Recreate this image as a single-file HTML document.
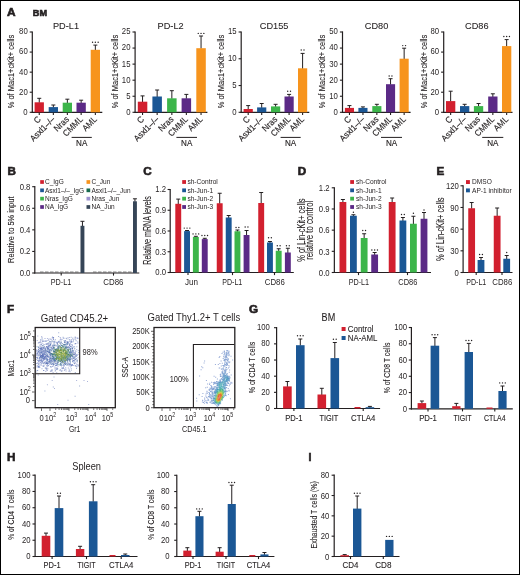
<!DOCTYPE html>
<html><head><meta charset="utf-8"><style>
html,body{margin:0;padding:0;background:#fff;}
body{width:520px;height:575px;overflow:hidden;font-family:"Liberation Sans",sans-serif;}
#f{position:absolute;left:0;top:0;width:518px;height:573px;border:1px solid #000;}
svg{position:absolute;left:0;top:0;display:block;will-change:transform;}
text.b{stroke:#231f20;stroke-width:0.6px;}
</style></head><body>
<svg width="520" height="575" viewBox="0 0 520 575">
<g font-family='"Liberation Sans", sans-serif' fill="#231f20">
<rect x="0" y="0" width="520" height="575" fill="#fff"/>
<text transform="translate(7.00 15.50) scale(1.120 1)" font-size="10.6" text-anchor="start" font-weight="bold" class="b">A</text>
<text transform="translate(32.80 15.50) scale(1.060 1)" font-size="8.6" text-anchor="start" font-weight="bold" class="b">BM</text>
<line x1="32.30" y1="31.40" x2="32.30" y2="112.90" stroke="#231f20" stroke-width="1.2"/>
<line x1="31.70" y1="112.30" x2="102.30" y2="112.30" stroke="#231f20" stroke-width="1.2"/>
<line x1="29.70" y1="112.30" x2="32.30" y2="112.30" stroke="#231f20" stroke-width="1.1"/>
<text transform="translate(27.70 114.70) scale(0.810 1)" font-size="9.6" text-anchor="end">0</text>
<line x1="29.70" y1="92.22" x2="32.30" y2="92.22" stroke="#231f20" stroke-width="1.1"/>
<text transform="translate(27.70 94.62) scale(0.810 1)" font-size="9.6" text-anchor="end">20</text>
<line x1="29.70" y1="72.15" x2="32.30" y2="72.15" stroke="#231f20" stroke-width="1.1"/>
<text transform="translate(27.70 74.55) scale(0.810 1)" font-size="9.6" text-anchor="end">40</text>
<line x1="29.70" y1="52.08" x2="32.30" y2="52.08" stroke="#231f20" stroke-width="1.1"/>
<text transform="translate(27.70 54.48) scale(0.810 1)" font-size="9.6" text-anchor="end">60</text>
<line x1="29.70" y1="32.00" x2="32.30" y2="32.00" stroke="#231f20" stroke-width="1.1"/>
<text transform="translate(27.70 34.40) scale(0.810 1)" font-size="9.6" text-anchor="end">80</text>
<line x1="39.25" y1="112.30" x2="39.25" y2="114.90" stroke="#231f20" stroke-width="1.1"/>
<line x1="53.35" y1="112.30" x2="53.35" y2="114.90" stroke="#231f20" stroke-width="1.1"/>
<line x1="67.35" y1="112.30" x2="67.35" y2="114.90" stroke="#231f20" stroke-width="1.1"/>
<line x1="81.15" y1="112.30" x2="81.15" y2="114.90" stroke="#231f20" stroke-width="1.1"/>
<line x1="95.35" y1="112.30" x2="95.35" y2="114.90" stroke="#231f20" stroke-width="1.1"/>
<line x1="39.25" y1="102.80" x2="39.25" y2="98.30" stroke="#231f20" stroke-width="1.0"/>
<line x1="37.25" y1="98.30" x2="41.25" y2="98.30" stroke="#231f20" stroke-width="1.0"/>
<rect x="34.60" y="102.30" width="9.30" height="10.00" fill="#d2202f"/>
<line x1="53.35" y1="107.60" x2="53.35" y2="105.00" stroke="#231f20" stroke-width="1.0"/>
<line x1="51.35" y1="105.00" x2="55.35" y2="105.00" stroke="#231f20" stroke-width="1.0"/>
<rect x="48.70" y="107.10" width="9.30" height="5.20" fill="#1b5795"/>
<line x1="67.35" y1="103.20" x2="67.35" y2="99.20" stroke="#231f20" stroke-width="1.0"/>
<line x1="65.35" y1="99.20" x2="69.35" y2="99.20" stroke="#231f20" stroke-width="1.0"/>
<rect x="62.70" y="102.70" width="9.30" height="9.60" fill="#3cb54a"/>
<line x1="81.15" y1="103.20" x2="81.15" y2="100.20" stroke="#231f20" stroke-width="1.0"/>
<line x1="79.15" y1="100.20" x2="83.15" y2="100.20" stroke="#231f20" stroke-width="1.0"/>
<rect x="76.50" y="102.70" width="9.30" height="9.60" fill="#5b2a86"/>
<line x1="95.35" y1="50.30" x2="95.35" y2="45.10" stroke="#231f20" stroke-width="1.0"/>
<line x1="93.35" y1="45.10" x2="97.35" y2="45.10" stroke="#231f20" stroke-width="1.0"/>
<rect x="90.70" y="49.80" width="9.30" height="62.50" fill="#f7941d"/>
<circle cx="92.55" cy="42.30" r="0.7" fill="#231f20"/>
<circle cx="95.35" cy="42.30" r="0.7" fill="#231f20"/>
<circle cx="98.15" cy="42.30" r="0.7" fill="#231f20"/>
<text transform="translate(66.00 29.20)" font-size="9.2" text-anchor="middle" stroke="#231f20" stroke-width="0.08">PD-L1</text>
<text transform="translate(13.95 71.50) rotate(-90)" font-size="9.6" text-anchor="middle" textLength="73.50" lengthAdjust="spacingAndGlyphs" stroke="#231f20" stroke-width="0.1">% of Mac1+cKit+ cells</text>
<text transform="translate(41.45 119.90) rotate(-45) scale(0.930 1)" font-size="8.8" text-anchor="end" stroke="#231f20" stroke-width="0.15">C</text>
<text transform="translate(55.55 119.90) rotate(-45) scale(0.930 1)" font-size="8.8" text-anchor="end" stroke="#231f20" stroke-width="0.15">Asxl1&#8211;/&#8211;</text>
<text transform="translate(69.55 119.90) rotate(-45) scale(0.930 1)" font-size="8.8" text-anchor="end" stroke="#231f20" stroke-width="0.15">Nras</text>
<text transform="translate(83.35 119.90) rotate(-45) scale(0.930 1)" font-size="8.8" text-anchor="end" stroke="#231f20" stroke-width="0.15">CMML</text>
<text transform="translate(97.55 119.90) rotate(-45) scale(0.930 1)" font-size="8.8" text-anchor="end" stroke="#231f20" stroke-width="0.15">AML</text>
<line x1="71.60" y1="137.40" x2="91.80" y2="137.40" stroke="#231f20" stroke-width="1.0"/>
<text transform="translate(81.70 146.30) scale(0.880 1)" font-size="9.2" text-anchor="middle" stroke="#231f20" stroke-width="0.15">NA</text>
<line x1="135.10" y1="31.40" x2="135.10" y2="112.90" stroke="#231f20" stroke-width="1.2"/>
<line x1="134.50" y1="112.30" x2="207.40" y2="112.30" stroke="#231f20" stroke-width="1.2"/>
<line x1="132.50" y1="112.30" x2="135.10" y2="112.30" stroke="#231f20" stroke-width="1.1"/>
<text transform="translate(130.50 114.70) scale(0.810 1)" font-size="9.6" text-anchor="end">0</text>
<line x1="132.50" y1="96.24" x2="135.10" y2="96.24" stroke="#231f20" stroke-width="1.1"/>
<text transform="translate(130.50 98.64) scale(0.810 1)" font-size="9.6" text-anchor="end">5</text>
<line x1="132.50" y1="80.18" x2="135.10" y2="80.18" stroke="#231f20" stroke-width="1.1"/>
<text transform="translate(130.50 82.58) scale(0.810 1)" font-size="9.6" text-anchor="end">10</text>
<line x1="132.50" y1="64.12" x2="135.10" y2="64.12" stroke="#231f20" stroke-width="1.1"/>
<text transform="translate(130.50 66.52) scale(0.810 1)" font-size="9.6" text-anchor="end">15</text>
<line x1="132.50" y1="48.06" x2="135.10" y2="48.06" stroke="#231f20" stroke-width="1.1"/>
<text transform="translate(130.50 50.46) scale(0.810 1)" font-size="9.6" text-anchor="end">20</text>
<line x1="132.50" y1="32.00" x2="135.10" y2="32.00" stroke="#231f20" stroke-width="1.1"/>
<text transform="translate(130.50 34.40) scale(0.810 1)" font-size="9.6" text-anchor="end">25</text>
<line x1="142.55" y1="112.30" x2="142.55" y2="114.90" stroke="#231f20" stroke-width="1.1"/>
<line x1="157.15" y1="112.30" x2="157.15" y2="114.90" stroke="#231f20" stroke-width="1.1"/>
<line x1="171.85" y1="112.30" x2="171.85" y2="114.90" stroke="#231f20" stroke-width="1.1"/>
<line x1="186.35" y1="112.30" x2="186.35" y2="114.90" stroke="#231f20" stroke-width="1.1"/>
<line x1="201.05" y1="112.30" x2="201.05" y2="114.90" stroke="#231f20" stroke-width="1.1"/>
<line x1="142.55" y1="102.20" x2="142.55" y2="95.90" stroke="#231f20" stroke-width="1.0"/>
<line x1="140.55" y1="95.90" x2="144.55" y2="95.90" stroke="#231f20" stroke-width="1.0"/>
<rect x="137.80" y="101.70" width="9.50" height="10.60" fill="#d2202f"/>
<line x1="157.15" y1="97.00" x2="157.15" y2="90.00" stroke="#231f20" stroke-width="1.0"/>
<line x1="155.15" y1="90.00" x2="159.15" y2="90.00" stroke="#231f20" stroke-width="1.0"/>
<rect x="152.40" y="96.50" width="9.50" height="15.80" fill="#1b5795"/>
<line x1="171.85" y1="98.80" x2="171.85" y2="90.70" stroke="#231f20" stroke-width="1.0"/>
<line x1="169.85" y1="90.70" x2="173.85" y2="90.70" stroke="#231f20" stroke-width="1.0"/>
<rect x="167.10" y="98.30" width="9.50" height="14.00" fill="#3cb54a"/>
<line x1="186.35" y1="98.80" x2="186.35" y2="94.40" stroke="#231f20" stroke-width="1.0"/>
<line x1="184.35" y1="94.40" x2="188.35" y2="94.40" stroke="#231f20" stroke-width="1.0"/>
<rect x="181.60" y="98.30" width="9.50" height="14.00" fill="#5b2a86"/>
<line x1="201.05" y1="48.70" x2="201.05" y2="36.00" stroke="#231f20" stroke-width="1.0"/>
<line x1="199.05" y1="36.00" x2="203.05" y2="36.00" stroke="#231f20" stroke-width="1.0"/>
<rect x="196.30" y="48.20" width="9.50" height="64.10" fill="#f7941d"/>
<circle cx="198.25" cy="33.40" r="0.7" fill="#231f20"/>
<circle cx="201.05" cy="33.40" r="0.7" fill="#231f20"/>
<circle cx="203.85" cy="33.40" r="0.7" fill="#231f20"/>
<text transform="translate(170.60 29.20)" font-size="9.2" text-anchor="middle" stroke="#231f20" stroke-width="0.08">PD-L2</text>
<text transform="translate(118.35 71.50) rotate(-90)" font-size="9.6" text-anchor="middle" textLength="73.50" lengthAdjust="spacingAndGlyphs" stroke="#231f20" stroke-width="0.1">% of Mac1+cKit+ cells</text>
<text transform="translate(144.75 119.90) rotate(-45) scale(0.930 1)" font-size="8.8" text-anchor="end" stroke="#231f20" stroke-width="0.15">C</text>
<text transform="translate(159.35 119.90) rotate(-45) scale(0.930 1)" font-size="8.8" text-anchor="end" stroke="#231f20" stroke-width="0.15">Asxl1&#8211;/&#8211;</text>
<text transform="translate(174.05 119.90) rotate(-45) scale(0.930 1)" font-size="8.8" text-anchor="end" stroke="#231f20" stroke-width="0.15">Nras</text>
<text transform="translate(188.55 119.90) rotate(-45) scale(0.930 1)" font-size="8.8" text-anchor="end" stroke="#231f20" stroke-width="0.15">CMML</text>
<text transform="translate(203.25 119.90) rotate(-45) scale(0.930 1)" font-size="8.8" text-anchor="end" stroke="#231f20" stroke-width="0.15">AML</text>
<line x1="176.40" y1="137.40" x2="197.00" y2="137.40" stroke="#231f20" stroke-width="1.0"/>
<text transform="translate(186.70 146.30) scale(0.880 1)" font-size="9.2" text-anchor="middle" stroke="#231f20" stroke-width="0.15">NA</text>
<line x1="241.20" y1="31.40" x2="241.20" y2="112.90" stroke="#231f20" stroke-width="1.2"/>
<line x1="240.60" y1="112.30" x2="309.30" y2="112.30" stroke="#231f20" stroke-width="1.2"/>
<line x1="238.60" y1="112.30" x2="241.20" y2="112.30" stroke="#231f20" stroke-width="1.1"/>
<text transform="translate(236.60 114.70) scale(0.810 1)" font-size="9.6" text-anchor="end">0</text>
<line x1="238.60" y1="85.53" x2="241.20" y2="85.53" stroke="#231f20" stroke-width="1.1"/>
<text transform="translate(236.60 87.93) scale(0.810 1)" font-size="9.6" text-anchor="end">5</text>
<line x1="238.60" y1="58.77" x2="241.20" y2="58.77" stroke="#231f20" stroke-width="1.1"/>
<text transform="translate(236.60 61.17) scale(0.810 1)" font-size="9.6" text-anchor="end">10</text>
<line x1="238.60" y1="32.00" x2="241.20" y2="32.00" stroke="#231f20" stroke-width="1.1"/>
<text transform="translate(236.60 34.40) scale(0.810 1)" font-size="9.6" text-anchor="end">15</text>
<line x1="248.20" y1="112.30" x2="248.20" y2="114.90" stroke="#231f20" stroke-width="1.1"/>
<line x1="261.70" y1="112.30" x2="261.70" y2="114.90" stroke="#231f20" stroke-width="1.1"/>
<line x1="275.60" y1="112.30" x2="275.60" y2="114.90" stroke="#231f20" stroke-width="1.1"/>
<line x1="289.10" y1="112.30" x2="289.10" y2="114.90" stroke="#231f20" stroke-width="1.1"/>
<line x1="302.60" y1="112.30" x2="302.60" y2="114.90" stroke="#231f20" stroke-width="1.1"/>
<line x1="248.20" y1="109.50" x2="248.20" y2="105.60" stroke="#231f20" stroke-width="1.0"/>
<line x1="246.20" y1="105.60" x2="250.20" y2="105.60" stroke="#231f20" stroke-width="1.0"/>
<rect x="243.60" y="109.00" width="9.20" height="3.30" fill="#d2202f"/>
<line x1="261.70" y1="107.90" x2="261.70" y2="103.50" stroke="#231f20" stroke-width="1.0"/>
<line x1="259.70" y1="103.50" x2="263.70" y2="103.50" stroke="#231f20" stroke-width="1.0"/>
<rect x="257.10" y="107.40" width="9.20" height="4.90" fill="#1b5795"/>
<line x1="275.60" y1="106.90" x2="275.60" y2="104.30" stroke="#231f20" stroke-width="1.0"/>
<line x1="273.60" y1="104.30" x2="277.60" y2="104.30" stroke="#231f20" stroke-width="1.0"/>
<rect x="271.00" y="106.40" width="9.20" height="5.90" fill="#3cb54a"/>
<line x1="289.10" y1="97.00" x2="289.10" y2="94.40" stroke="#231f20" stroke-width="1.0"/>
<line x1="287.10" y1="94.40" x2="291.10" y2="94.40" stroke="#231f20" stroke-width="1.0"/>
<rect x="284.50" y="96.50" width="9.20" height="15.80" fill="#5b2a86"/>
<circle cx="287.70" cy="91.20" r="0.7" fill="#231f20"/>
<circle cx="290.50" cy="91.20" r="0.7" fill="#231f20"/>
<line x1="302.60" y1="68.80" x2="302.60" y2="53.40" stroke="#231f20" stroke-width="1.0"/>
<line x1="300.60" y1="53.40" x2="304.60" y2="53.40" stroke="#231f20" stroke-width="1.0"/>
<rect x="298.00" y="68.30" width="9.20" height="44.00" fill="#f7941d"/>
<circle cx="301.20" cy="50.00" r="0.7" fill="#231f20"/>
<circle cx="304.00" cy="50.00" r="0.7" fill="#231f20"/>
<text transform="translate(274.10 29.20)" font-size="9.2" text-anchor="middle" stroke="#231f20" stroke-width="0.08">CD155</text>
<text transform="translate(223.95 71.50) rotate(-90)" font-size="9.6" text-anchor="middle" textLength="73.50" lengthAdjust="spacingAndGlyphs" stroke="#231f20" stroke-width="0.1">% of Mac1+cKit+ cells</text>
<text transform="translate(250.40 119.90) rotate(-45) scale(0.930 1)" font-size="8.8" text-anchor="end" stroke="#231f20" stroke-width="0.15">C</text>
<text transform="translate(263.90 119.90) rotate(-45) scale(0.930 1)" font-size="8.8" text-anchor="end" stroke="#231f20" stroke-width="0.15">Asxl1&#8211;/&#8211;</text>
<text transform="translate(277.80 119.90) rotate(-45) scale(0.930 1)" font-size="8.8" text-anchor="end" stroke="#231f20" stroke-width="0.15">Nras</text>
<text transform="translate(291.30 119.90) rotate(-45) scale(0.930 1)" font-size="8.8" text-anchor="end" stroke="#231f20" stroke-width="0.15">CMML</text>
<text transform="translate(304.80 119.90) rotate(-45) scale(0.930 1)" font-size="8.8" text-anchor="end" stroke="#231f20" stroke-width="0.15">AML</text>
<line x1="280.60" y1="137.40" x2="300.70" y2="137.40" stroke="#231f20" stroke-width="1.0"/>
<text transform="translate(290.65 146.30) scale(0.880 1)" font-size="9.2" text-anchor="middle" stroke="#231f20" stroke-width="0.15">NA</text>
<line x1="342.50" y1="31.40" x2="342.50" y2="112.90" stroke="#231f20" stroke-width="1.2"/>
<line x1="341.90" y1="112.30" x2="410.60" y2="112.30" stroke="#231f20" stroke-width="1.2"/>
<line x1="339.90" y1="112.30" x2="342.50" y2="112.30" stroke="#231f20" stroke-width="1.1"/>
<text transform="translate(337.90 114.70) scale(0.810 1)" font-size="9.6" text-anchor="end">0</text>
<line x1="339.90" y1="96.24" x2="342.50" y2="96.24" stroke="#231f20" stroke-width="1.1"/>
<text transform="translate(337.90 98.64) scale(0.810 1)" font-size="9.6" text-anchor="end">10</text>
<line x1="339.90" y1="80.18" x2="342.50" y2="80.18" stroke="#231f20" stroke-width="1.1"/>
<text transform="translate(337.90 82.58) scale(0.810 1)" font-size="9.6" text-anchor="end">20</text>
<line x1="339.90" y1="64.12" x2="342.50" y2="64.12" stroke="#231f20" stroke-width="1.1"/>
<text transform="translate(337.90 66.52) scale(0.810 1)" font-size="9.6" text-anchor="end">30</text>
<line x1="339.90" y1="48.06" x2="342.50" y2="48.06" stroke="#231f20" stroke-width="1.1"/>
<text transform="translate(337.90 50.46) scale(0.810 1)" font-size="9.6" text-anchor="end">40</text>
<line x1="339.90" y1="32.00" x2="342.50" y2="32.00" stroke="#231f20" stroke-width="1.1"/>
<text transform="translate(337.90 34.40) scale(0.810 1)" font-size="9.6" text-anchor="end">50</text>
<line x1="349.45" y1="112.30" x2="349.45" y2="114.90" stroke="#231f20" stroke-width="1.1"/>
<line x1="362.95" y1="112.30" x2="362.95" y2="114.90" stroke="#231f20" stroke-width="1.1"/>
<line x1="376.85" y1="112.30" x2="376.85" y2="114.90" stroke="#231f20" stroke-width="1.1"/>
<line x1="390.55" y1="112.30" x2="390.55" y2="114.90" stroke="#231f20" stroke-width="1.1"/>
<line x1="404.15" y1="112.30" x2="404.15" y2="114.90" stroke="#231f20" stroke-width="1.1"/>
<line x1="349.45" y1="108.40" x2="349.45" y2="105.60" stroke="#231f20" stroke-width="1.0"/>
<line x1="347.45" y1="105.60" x2="351.45" y2="105.60" stroke="#231f20" stroke-width="1.0"/>
<rect x="344.90" y="107.90" width="9.10" height="4.40" fill="#d2202f"/>
<line x1="362.95" y1="108.40" x2="362.95" y2="106.90" stroke="#231f20" stroke-width="1.0"/>
<line x1="360.95" y1="106.90" x2="364.95" y2="106.90" stroke="#231f20" stroke-width="1.0"/>
<rect x="358.40" y="107.90" width="9.10" height="4.40" fill="#1b5795"/>
<line x1="376.85" y1="106.60" x2="376.85" y2="104.30" stroke="#231f20" stroke-width="1.0"/>
<line x1="374.85" y1="104.30" x2="378.85" y2="104.30" stroke="#231f20" stroke-width="1.0"/>
<rect x="372.30" y="106.10" width="9.10" height="6.20" fill="#3cb54a"/>
<line x1="390.55" y1="84.70" x2="390.55" y2="78.70" stroke="#231f20" stroke-width="1.0"/>
<line x1="388.55" y1="78.70" x2="392.55" y2="78.70" stroke="#231f20" stroke-width="1.0"/>
<rect x="386.00" y="84.20" width="9.10" height="28.10" fill="#5b2a86"/>
<circle cx="389.15" cy="76.00" r="0.7" fill="#231f20"/>
<circle cx="391.95" cy="76.00" r="0.7" fill="#231f20"/>
<line x1="404.15" y1="59.20" x2="404.15" y2="48.20" stroke="#231f20" stroke-width="1.0"/>
<line x1="402.15" y1="48.20" x2="406.15" y2="48.20" stroke="#231f20" stroke-width="1.0"/>
<rect x="399.60" y="58.70" width="9.10" height="53.60" fill="#f7941d"/>
<circle cx="402.75" cy="45.60" r="0.7" fill="#231f20"/>
<circle cx="405.55" cy="45.60" r="0.7" fill="#231f20"/>
<text transform="translate(376.60 29.20)" font-size="9.2" text-anchor="middle" stroke="#231f20" stroke-width="0.08">CD80</text>
<text transform="translate(325.15 71.50) rotate(-90)" font-size="9.6" text-anchor="middle" textLength="73.50" lengthAdjust="spacingAndGlyphs" stroke="#231f20" stroke-width="0.1">% of Mac1+cKit+ cells</text>
<text transform="translate(351.65 119.90) rotate(-45) scale(0.930 1)" font-size="8.8" text-anchor="end" stroke="#231f20" stroke-width="0.15">C</text>
<text transform="translate(365.15 119.90) rotate(-45) scale(0.930 1)" font-size="8.8" text-anchor="end" stroke="#231f20" stroke-width="0.15">Asxl1&#8211;/&#8211;</text>
<text transform="translate(379.05 119.90) rotate(-45) scale(0.930 1)" font-size="8.8" text-anchor="end" stroke="#231f20" stroke-width="0.15">Nras</text>
<text transform="translate(392.75 119.90) rotate(-45) scale(0.930 1)" font-size="8.8" text-anchor="end" stroke="#231f20" stroke-width="0.15">CMML</text>
<text transform="translate(406.35 119.90) rotate(-45) scale(0.930 1)" font-size="8.8" text-anchor="end" stroke="#231f20" stroke-width="0.15">AML</text>
<line x1="381.00" y1="137.40" x2="402.00" y2="137.40" stroke="#231f20" stroke-width="1.0"/>
<text transform="translate(391.50 146.30) scale(0.880 1)" font-size="9.2" text-anchor="middle" stroke="#231f20" stroke-width="0.15">NA</text>
<line x1="443.70" y1="31.40" x2="443.70" y2="112.90" stroke="#231f20" stroke-width="1.2"/>
<line x1="443.10" y1="112.30" x2="512.50" y2="112.30" stroke="#231f20" stroke-width="1.2"/>
<line x1="441.10" y1="112.30" x2="443.70" y2="112.30" stroke="#231f20" stroke-width="1.1"/>
<text transform="translate(439.10 114.70) scale(0.810 1)" font-size="9.6" text-anchor="end">0</text>
<line x1="441.10" y1="92.22" x2="443.70" y2="92.22" stroke="#231f20" stroke-width="1.1"/>
<text transform="translate(439.10 94.62) scale(0.810 1)" font-size="9.6" text-anchor="end">20</text>
<line x1="441.10" y1="72.15" x2="443.70" y2="72.15" stroke="#231f20" stroke-width="1.1"/>
<text transform="translate(439.10 74.55) scale(0.810 1)" font-size="9.6" text-anchor="end">40</text>
<line x1="441.10" y1="52.08" x2="443.70" y2="52.08" stroke="#231f20" stroke-width="1.1"/>
<text transform="translate(439.10 54.48) scale(0.810 1)" font-size="9.6" text-anchor="end">60</text>
<line x1="441.10" y1="32.00" x2="443.70" y2="32.00" stroke="#231f20" stroke-width="1.1"/>
<text transform="translate(439.10 34.40) scale(0.810 1)" font-size="9.6" text-anchor="end">80</text>
<line x1="450.65" y1="112.30" x2="450.65" y2="114.90" stroke="#231f20" stroke-width="1.1"/>
<line x1="464.65" y1="112.30" x2="464.65" y2="114.90" stroke="#231f20" stroke-width="1.1"/>
<line x1="478.55" y1="112.30" x2="478.55" y2="114.90" stroke="#231f20" stroke-width="1.1"/>
<line x1="492.85" y1="112.30" x2="492.85" y2="114.90" stroke="#231f20" stroke-width="1.1"/>
<line x1="506.65" y1="112.30" x2="506.65" y2="114.90" stroke="#231f20" stroke-width="1.1"/>
<line x1="450.65" y1="101.60" x2="450.65" y2="91.20" stroke="#231f20" stroke-width="1.0"/>
<line x1="448.65" y1="91.20" x2="452.65" y2="91.20" stroke="#231f20" stroke-width="1.0"/>
<rect x="446.00" y="101.10" width="9.30" height="11.20" fill="#d2202f"/>
<line x1="464.65" y1="106.60" x2="464.65" y2="104.30" stroke="#231f20" stroke-width="1.0"/>
<line x1="462.65" y1="104.30" x2="466.65" y2="104.30" stroke="#231f20" stroke-width="1.0"/>
<rect x="460.00" y="106.10" width="9.30" height="6.20" fill="#1b5795"/>
<line x1="478.55" y1="106.60" x2="478.55" y2="103.50" stroke="#231f20" stroke-width="1.0"/>
<line x1="476.55" y1="103.50" x2="480.55" y2="103.50" stroke="#231f20" stroke-width="1.0"/>
<rect x="473.90" y="106.10" width="9.30" height="6.20" fill="#3cb54a"/>
<line x1="492.85" y1="97.00" x2="492.85" y2="93.80" stroke="#231f20" stroke-width="1.0"/>
<line x1="490.85" y1="93.80" x2="494.85" y2="93.80" stroke="#231f20" stroke-width="1.0"/>
<rect x="488.20" y="96.50" width="9.30" height="15.80" fill="#5b2a86"/>
<line x1="506.65" y1="46.60" x2="506.65" y2="39.60" stroke="#231f20" stroke-width="1.0"/>
<line x1="504.65" y1="39.60" x2="508.65" y2="39.60" stroke="#231f20" stroke-width="1.0"/>
<rect x="502.00" y="46.10" width="9.30" height="66.20" fill="#f7941d"/>
<circle cx="503.85" cy="36.50" r="0.7" fill="#231f20"/>
<circle cx="506.65" cy="36.50" r="0.7" fill="#231f20"/>
<circle cx="509.45" cy="36.50" r="0.7" fill="#231f20"/>
<text transform="translate(476.80 29.20)" font-size="9.2" text-anchor="middle" stroke="#231f20" stroke-width="0.08">CD86</text>
<text transform="translate(426.55 71.50) rotate(-90)" font-size="9.6" text-anchor="middle" textLength="73.50" lengthAdjust="spacingAndGlyphs" stroke="#231f20" stroke-width="0.1">% of Mac1+cKit+ cells</text>
<text transform="translate(452.85 119.90) rotate(-45) scale(0.930 1)" font-size="8.8" text-anchor="end" stroke="#231f20" stroke-width="0.15">C</text>
<text transform="translate(466.85 119.90) rotate(-45) scale(0.930 1)" font-size="8.8" text-anchor="end" stroke="#231f20" stroke-width="0.15">Asxl1&#8211;/&#8211;</text>
<text transform="translate(480.75 119.90) rotate(-45) scale(0.930 1)" font-size="8.8" text-anchor="end" stroke="#231f20" stroke-width="0.15">Nras</text>
<text transform="translate(495.05 119.90) rotate(-45) scale(0.930 1)" font-size="8.8" text-anchor="end" stroke="#231f20" stroke-width="0.15">CMML</text>
<text transform="translate(508.85 119.90) rotate(-45) scale(0.930 1)" font-size="8.8" text-anchor="end" stroke="#231f20" stroke-width="0.15">AML</text>
<line x1="482.20" y1="137.40" x2="503.30" y2="137.40" stroke="#231f20" stroke-width="1.0"/>
<text transform="translate(492.75 146.30) scale(0.880 1)" font-size="9.2" text-anchor="middle" stroke="#231f20" stroke-width="0.15">NA</text>
<text transform="translate(7.50 175.00) scale(1.100 1)" font-size="10.6" text-anchor="start" font-weight="bold" class="b">B</text>
<line x1="34.80" y1="186.10" x2="34.80" y2="273.60" stroke="#231f20" stroke-width="1.2"/>
<line x1="34.20" y1="273.00" x2="139.30" y2="273.00" stroke="#231f20" stroke-width="1.2"/>
<line x1="32.20" y1="273.00" x2="34.80" y2="273.00" stroke="#231f20" stroke-width="1.1"/>
<text transform="translate(30.40 275.95) scale(0.860 1)" font-size="9.0" text-anchor="end">0.0</text>
<line x1="32.20" y1="251.43" x2="34.80" y2="251.43" stroke="#231f20" stroke-width="1.1"/>
<text transform="translate(30.40 254.38) scale(0.860 1)" font-size="9.0" text-anchor="end">0.2</text>
<line x1="32.20" y1="229.85" x2="34.80" y2="229.85" stroke="#231f20" stroke-width="1.1"/>
<text transform="translate(30.40 232.80) scale(0.860 1)" font-size="9.0" text-anchor="end">0.4</text>
<line x1="32.20" y1="208.27" x2="34.80" y2="208.27" stroke="#231f20" stroke-width="1.1"/>
<text transform="translate(30.40 211.22) scale(0.860 1)" font-size="9.0" text-anchor="end">0.6</text>
<line x1="32.20" y1="186.70" x2="34.80" y2="186.70" stroke="#231f20" stroke-width="1.1"/>
<text transform="translate(30.40 189.65) scale(0.860 1)" font-size="9.0" text-anchor="end">0.8</text>
<line x1="61.20" y1="273.00" x2="61.20" y2="275.60" stroke="#231f20" stroke-width="1.1"/>
<line x1="113.50" y1="273.00" x2="113.50" y2="275.60" stroke="#231f20" stroke-width="1.1"/>
<text transform="translate(13.60 229.75) rotate(-90)" font-size="9.5" text-anchor="middle" textLength="66.50" lengthAdjust="spacingAndGlyphs" stroke="#231f20" stroke-width="0.1">Relative to 5% input</text>
<rect x="40.00" y="271.60" width="3.50" height="0.90" fill="#666"/>
<rect x="45.00" y="271.60" width="3.50" height="0.90" fill="#666"/>
<rect x="50.00" y="271.60" width="3.50" height="0.90" fill="#666"/>
<rect x="55.00" y="271.60" width="3.50" height="0.90" fill="#666"/>
<rect x="60.00" y="271.60" width="3.50" height="0.90" fill="#666"/>
<rect x="65.00" y="271.60" width="3.50" height="0.90" fill="#666"/>
<rect x="70.00" y="271.60" width="3.50" height="0.90" fill="#666"/>
<rect x="75.00" y="271.60" width="3.50" height="0.90" fill="#666"/>
<rect x="93.00" y="271.60" width="3.50" height="0.90" fill="#666"/>
<rect x="98.00" y="271.60" width="3.50" height="0.90" fill="#666"/>
<rect x="103.00" y="271.60" width="3.50" height="0.90" fill="#666"/>
<rect x="108.00" y="271.60" width="3.50" height="0.90" fill="#666"/>
<rect x="113.00" y="271.60" width="3.50" height="0.90" fill="#666"/>
<rect x="118.00" y="271.60" width="3.50" height="0.90" fill="#666"/>
<rect x="123.00" y="271.60" width="3.50" height="0.90" fill="#666"/>
<rect x="128.00" y="271.60" width="3.50" height="0.90" fill="#666"/>
<line x1="82.45" y1="226.30" x2="82.45" y2="221.30" stroke="#231f20" stroke-width="1.0"/>
<line x1="80.45" y1="221.30" x2="84.45" y2="221.30" stroke="#231f20" stroke-width="1.0"/>
<rect x="80.50" y="225.80" width="3.90" height="47.20" fill="#364557"/>
<line x1="134.95" y1="201.80" x2="134.95" y2="198.80" stroke="#231f20" stroke-width="1.0"/>
<line x1="132.95" y1="198.80" x2="136.95" y2="198.80" stroke="#231f20" stroke-width="1.0"/>
<rect x="133.00" y="201.30" width="3.90" height="71.70" fill="#364557"/>
<text transform="translate(61.00 284.70)" font-size="9.8" text-anchor="middle" textLength="20.60" lengthAdjust="spacingAndGlyphs">PD-L1</text>
<text transform="translate(113.40 284.70)" font-size="9.8" text-anchor="middle" textLength="20.20" lengthAdjust="spacingAndGlyphs">CD86</text>
<rect x="40.20" y="180.15" width="3.70" height="3.70" fill="#d2202f"/>
<text transform="translate(45.00 184.20)" font-size="6.5" text-anchor="start">C_IgG</text>
<rect x="40.20" y="188.48" width="3.70" height="3.70" fill="#1b5795"/>
<text transform="translate(45.00 192.53)" font-size="6.5" text-anchor="start">Asxl1&#8211;/&#8211;_IgG</text>
<rect x="40.20" y="196.81" width="3.70" height="3.70" fill="#3cb54a"/>
<text transform="translate(45.00 200.86)" font-size="6.5" text-anchor="start">Nras_IgG</text>
<rect x="40.20" y="205.14" width="3.70" height="3.70" fill="#5b2a86"/>
<text transform="translate(45.00 209.19)" font-size="6.5" text-anchor="start">NA_IgG</text>
<rect x="86.50" y="180.15" width="3.70" height="3.70" fill="#f7941d"/>
<text transform="translate(91.50 184.20)" font-size="6.5" text-anchor="start">C_Jun</text>
<rect x="86.50" y="188.48" width="3.70" height="3.70" fill="#176b4f"/>
<text transform="translate(91.50 192.53)" font-size="6.5" text-anchor="start">Asxl1&#8211;/&#8211;_Jun</text>
<rect x="86.50" y="196.81" width="3.70" height="3.70" fill="#9d92d0"/>
<text transform="translate(91.50 200.86)" font-size="6.5" text-anchor="start">Nras_Jun</text>
<rect x="86.50" y="205.14" width="3.70" height="3.70" fill="#364557"/>
<text transform="translate(91.50 209.19)" font-size="6.5" text-anchor="start">NA_Jun</text>
<text transform="translate(143.30 175.10) scale(1.100 1)" font-size="10.6" text-anchor="start" font-weight="bold" class="b">C</text>
<line x1="170.20" y1="188.90" x2="170.20" y2="273.10" stroke="#231f20" stroke-width="1.2"/>
<line x1="169.60" y1="272.50" x2="293.80" y2="272.50" stroke="#231f20" stroke-width="1.2"/>
<line x1="167.60" y1="272.50" x2="170.20" y2="272.50" stroke="#231f20" stroke-width="1.1"/>
<text transform="translate(166.10 275.25) scale(0.860 1)" font-size="9.0" text-anchor="end">0.0</text>
<line x1="167.60" y1="251.75" x2="170.20" y2="251.75" stroke="#231f20" stroke-width="1.1"/>
<text transform="translate(166.10 254.50) scale(0.860 1)" font-size="9.0" text-anchor="end">0.3</text>
<line x1="167.60" y1="231.00" x2="170.20" y2="231.00" stroke="#231f20" stroke-width="1.1"/>
<text transform="translate(166.10 233.75) scale(0.860 1)" font-size="9.0" text-anchor="end">0.6</text>
<line x1="167.60" y1="210.25" x2="170.20" y2="210.25" stroke="#231f20" stroke-width="1.1"/>
<text transform="translate(166.10 213.00) scale(0.860 1)" font-size="9.0" text-anchor="end">0.9</text>
<line x1="167.60" y1="189.50" x2="170.20" y2="189.50" stroke="#231f20" stroke-width="1.1"/>
<text transform="translate(166.10 192.25) scale(0.860 1)" font-size="9.0" text-anchor="end">1.2</text>
<line x1="188.00" y1="272.50" x2="188.00" y2="275.10" stroke="#231f20" stroke-width="1.1"/>
<line x1="232.50" y1="272.50" x2="232.50" y2="275.10" stroke="#231f20" stroke-width="1.1"/>
<line x1="274.50" y1="272.50" x2="274.50" y2="275.10" stroke="#231f20" stroke-width="1.1"/>
<text transform="translate(151.00 230.50) rotate(-90)" font-size="10.2" text-anchor="middle" textLength="68.50" lengthAdjust="spacingAndGlyphs" stroke="#231f20" stroke-width="0.1">Relative mRNA levels</text>
<line x1="178.25" y1="204.30" x2="178.25" y2="199.10" stroke="#231f20" stroke-width="1.0"/>
<line x1="176.25" y1="199.10" x2="180.25" y2="199.10" stroke="#231f20" stroke-width="1.0"/>
<rect x="175.30" y="203.80" width="5.90" height="68.70" fill="#d2202f"/>
<line x1="187.05" y1="231.60" x2="187.05" y2="230.50" stroke="#231f20" stroke-width="1.0"/>
<line x1="185.05" y1="230.50" x2="189.05" y2="230.50" stroke="#231f20" stroke-width="1.0"/>
<rect x="184.10" y="231.10" width="5.90" height="41.40" fill="#1b5795"/>
<circle cx="184.25" cy="228.10" r="0.7" fill="#231f20"/>
<circle cx="187.05" cy="228.10" r="0.7" fill="#231f20"/>
<circle cx="189.85" cy="228.10" r="0.7" fill="#231f20"/>
<line x1="195.85" y1="237.50" x2="195.85" y2="236.30" stroke="#231f20" stroke-width="1.0"/>
<line x1="193.85" y1="236.30" x2="197.85" y2="236.30" stroke="#231f20" stroke-width="1.0"/>
<rect x="192.90" y="237.00" width="5.90" height="35.50" fill="#3cb54a"/>
<circle cx="193.05" cy="233.90" r="0.7" fill="#231f20"/>
<circle cx="195.85" cy="233.90" r="0.7" fill="#231f20"/>
<circle cx="198.65" cy="233.90" r="0.7" fill="#231f20"/>
<line x1="204.75" y1="239.60" x2="204.75" y2="238.30" stroke="#231f20" stroke-width="1.0"/>
<line x1="202.75" y1="238.30" x2="206.75" y2="238.30" stroke="#231f20" stroke-width="1.0"/>
<rect x="201.80" y="239.10" width="5.90" height="33.40" fill="#5b2a86"/>
<circle cx="201.95" cy="235.50" r="0.7" fill="#231f20"/>
<circle cx="204.75" cy="235.50" r="0.7" fill="#231f20"/>
<circle cx="207.55" cy="235.50" r="0.7" fill="#231f20"/>
<line x1="219.70" y1="203.75" x2="219.70" y2="193.25" stroke="#231f20" stroke-width="1.0"/>
<line x1="217.70" y1="193.25" x2="221.70" y2="193.25" stroke="#231f20" stroke-width="1.0"/>
<rect x="216.75" y="203.25" width="5.90" height="69.25" fill="#d2202f"/>
<line x1="228.70" y1="218.00" x2="228.70" y2="215.50" stroke="#231f20" stroke-width="1.0"/>
<line x1="226.70" y1="215.50" x2="230.70" y2="215.50" stroke="#231f20" stroke-width="1.0"/>
<rect x="225.75" y="217.50" width="5.90" height="55.00" fill="#1b5795"/>
<line x1="237.45" y1="231.75" x2="237.45" y2="230.00" stroke="#231f20" stroke-width="1.0"/>
<line x1="235.45" y1="230.00" x2="239.45" y2="230.00" stroke="#231f20" stroke-width="1.0"/>
<rect x="234.50" y="231.25" width="5.90" height="41.25" fill="#3cb54a"/>
<circle cx="236.05" cy="227.50" r="0.7" fill="#231f20"/>
<circle cx="238.85" cy="227.50" r="0.7" fill="#231f20"/>
<line x1="246.55" y1="235.50" x2="246.55" y2="230.50" stroke="#231f20" stroke-width="1.0"/>
<line x1="244.55" y1="230.50" x2="248.55" y2="230.50" stroke="#231f20" stroke-width="1.0"/>
<rect x="243.60" y="235.00" width="5.90" height="37.50" fill="#5b2a86"/>
<circle cx="245.15" cy="227.00" r="0.7" fill="#231f20"/>
<circle cx="247.95" cy="227.00" r="0.7" fill="#231f20"/>
<line x1="261.20" y1="203.50" x2="261.20" y2="192.50" stroke="#231f20" stroke-width="1.0"/>
<line x1="259.20" y1="192.50" x2="263.20" y2="192.50" stroke="#231f20" stroke-width="1.0"/>
<rect x="258.25" y="203.00" width="5.90" height="69.50" fill="#d2202f"/>
<line x1="269.95" y1="243.00" x2="269.95" y2="241.50" stroke="#231f20" stroke-width="1.0"/>
<line x1="267.95" y1="241.50" x2="271.95" y2="241.50" stroke="#231f20" stroke-width="1.0"/>
<rect x="267.00" y="242.50" width="5.90" height="30.00" fill="#1b5795"/>
<circle cx="268.55" cy="237.80" r="0.7" fill="#231f20"/>
<circle cx="271.35" cy="237.80" r="0.7" fill="#231f20"/>
<line x1="278.70" y1="251.25" x2="278.70" y2="248.75" stroke="#231f20" stroke-width="1.0"/>
<line x1="276.70" y1="248.75" x2="280.70" y2="248.75" stroke="#231f20" stroke-width="1.0"/>
<rect x="275.75" y="250.75" width="5.90" height="21.75" fill="#3cb54a"/>
<circle cx="277.30" cy="245.75" r="0.7" fill="#231f20"/>
<circle cx="280.10" cy="245.75" r="0.7" fill="#231f20"/>
<line x1="287.85" y1="253.00" x2="287.85" y2="248.25" stroke="#231f20" stroke-width="1.0"/>
<line x1="285.85" y1="248.25" x2="289.85" y2="248.25" stroke="#231f20" stroke-width="1.0"/>
<rect x="284.90" y="252.50" width="5.90" height="20.00" fill="#5b2a86"/>
<circle cx="286.45" cy="245.75" r="0.7" fill="#231f20"/>
<circle cx="289.25" cy="245.75" r="0.7" fill="#231f20"/>
<text transform="translate(191.50 284.60)" font-size="9.8" text-anchor="middle" textLength="13.00" lengthAdjust="spacingAndGlyphs">Jun</text>
<text transform="translate(232.30 284.60)" font-size="9.8" text-anchor="middle" textLength="20.00" lengthAdjust="spacingAndGlyphs">PD-L1</text>
<text transform="translate(274.80 284.60)" font-size="9.8" text-anchor="middle" textLength="20.00" lengthAdjust="spacingAndGlyphs">CD86</text>
<rect x="182.20" y="180.10" width="3.80" height="3.80" fill="#d2202f"/>
<text transform="translate(187.40 184.30)" font-size="6.6" text-anchor="start">sh-Control</text>
<rect x="182.20" y="188.43" width="3.80" height="3.80" fill="#1b5795"/>
<text transform="translate(187.40 192.63)" font-size="6.6" text-anchor="start">sh-Jun-1</text>
<rect x="182.20" y="196.76" width="3.80" height="3.80" fill="#3cb54a"/>
<text transform="translate(187.40 200.96)" font-size="6.6" text-anchor="start">sh-Jun-2</text>
<rect x="182.20" y="205.09" width="3.80" height="3.80" fill="#5b2a86"/>
<text transform="translate(187.40 209.29)" font-size="6.6" text-anchor="start">sh-Jun-3</text>
<text transform="translate(297.80 175.10) scale(1.100 1)" font-size="10.6" text-anchor="start" font-weight="bold" class="b">D</text>
<line x1="334.35" y1="187.20" x2="334.35" y2="273.10" stroke="#231f20" stroke-width="1.2"/>
<line x1="333.75" y1="272.50" x2="431.00" y2="272.50" stroke="#231f20" stroke-width="1.2"/>
<line x1="331.75" y1="272.50" x2="334.35" y2="272.50" stroke="#231f20" stroke-width="1.1"/>
<text transform="translate(329.60 275.70) scale(0.860 1)" font-size="9.0" text-anchor="end">0.0</text>
<line x1="331.75" y1="251.32" x2="334.35" y2="251.32" stroke="#231f20" stroke-width="1.1"/>
<text transform="translate(329.60 254.52) scale(0.860 1)" font-size="9.0" text-anchor="end">0.3</text>
<line x1="331.75" y1="230.15" x2="334.35" y2="230.15" stroke="#231f20" stroke-width="1.1"/>
<text transform="translate(329.60 233.35) scale(0.860 1)" font-size="9.0" text-anchor="end">0.6</text>
<line x1="331.75" y1="208.98" x2="334.35" y2="208.98" stroke="#231f20" stroke-width="1.1"/>
<text transform="translate(329.60 212.18) scale(0.860 1)" font-size="9.0" text-anchor="end">0.9</text>
<line x1="331.75" y1="187.80" x2="334.35" y2="187.80" stroke="#231f20" stroke-width="1.1"/>
<text transform="translate(329.60 191.00) scale(0.860 1)" font-size="9.0" text-anchor="end">1.2</text>
<line x1="358.50" y1="272.50" x2="358.50" y2="275.10" stroke="#231f20" stroke-width="1.1"/>
<line x1="407.50" y1="272.50" x2="407.50" y2="275.10" stroke="#231f20" stroke-width="1.1"/>
<text transform="translate(305.40 230.10) rotate(-90)" font-size="10.2" text-anchor="middle" textLength="63.30" lengthAdjust="spacingAndGlyphs" stroke="#231f20" stroke-width="0.1">% of Lin-cKit+ cells</text>
<text transform="translate(313.30 230.30) rotate(-90)" font-size="10.2" text-anchor="middle" textLength="59.00" lengthAdjust="spacingAndGlyphs" stroke="#231f20" stroke-width="0.1">relative to control</text>
<line x1="342.90" y1="202.50" x2="342.90" y2="199.50" stroke="#231f20" stroke-width="1.0"/>
<line x1="340.90" y1="199.50" x2="344.90" y2="199.50" stroke="#231f20" stroke-width="1.0"/>
<rect x="339.50" y="202.00" width="6.80" height="70.50" fill="#d2202f"/>
<line x1="353.40" y1="216.25" x2="353.40" y2="214.75" stroke="#231f20" stroke-width="1.0"/>
<line x1="351.40" y1="214.75" x2="355.40" y2="214.75" stroke="#231f20" stroke-width="1.0"/>
<rect x="350.00" y="215.75" width="6.80" height="56.75" fill="#1b5795"/>
<circle cx="353.40" cy="212.30" r="0.7" fill="#231f20"/>
<line x1="364.15" y1="238.50" x2="364.15" y2="233.75" stroke="#231f20" stroke-width="1.0"/>
<line x1="362.15" y1="233.75" x2="366.15" y2="233.75" stroke="#231f20" stroke-width="1.0"/>
<rect x="360.75" y="238.00" width="6.80" height="34.50" fill="#3cb54a"/>
<circle cx="362.75" cy="230.50" r="0.7" fill="#231f20"/>
<circle cx="365.55" cy="230.50" r="0.7" fill="#231f20"/>
<line x1="374.65" y1="255.00" x2="374.65" y2="252.50" stroke="#231f20" stroke-width="1.0"/>
<line x1="372.65" y1="252.50" x2="376.65" y2="252.50" stroke="#231f20" stroke-width="1.0"/>
<rect x="371.25" y="254.50" width="6.80" height="18.00" fill="#5b2a86"/>
<circle cx="371.85" cy="250.00" r="0.7" fill="#231f20"/>
<circle cx="374.65" cy="250.00" r="0.7" fill="#231f20"/>
<circle cx="377.45" cy="250.00" r="0.7" fill="#231f20"/>
<line x1="392.15" y1="202.50" x2="392.15" y2="198.00" stroke="#231f20" stroke-width="1.0"/>
<line x1="390.15" y1="198.00" x2="394.15" y2="198.00" stroke="#231f20" stroke-width="1.0"/>
<rect x="388.75" y="202.00" width="6.80" height="70.50" fill="#d2202f"/>
<line x1="402.90" y1="221.00" x2="402.90" y2="217.50" stroke="#231f20" stroke-width="1.0"/>
<line x1="400.90" y1="217.50" x2="404.90" y2="217.50" stroke="#231f20" stroke-width="1.0"/>
<rect x="399.50" y="220.50" width="6.80" height="52.00" fill="#1b5795"/>
<circle cx="401.50" cy="214.50" r="0.7" fill="#231f20"/>
<circle cx="404.30" cy="214.50" r="0.7" fill="#231f20"/>
<line x1="413.40" y1="224.25" x2="413.40" y2="216.25" stroke="#231f20" stroke-width="1.0"/>
<line x1="411.40" y1="216.25" x2="415.40" y2="216.25" stroke="#231f20" stroke-width="1.0"/>
<rect x="410.00" y="223.75" width="6.80" height="48.75" fill="#3cb54a"/>
<circle cx="413.40" cy="213.20" r="0.7" fill="#231f20"/>
<line x1="424.00" y1="219.25" x2="424.00" y2="212.50" stroke="#231f20" stroke-width="1.0"/>
<line x1="422.00" y1="212.50" x2="426.00" y2="212.50" stroke="#231f20" stroke-width="1.0"/>
<rect x="420.60" y="218.75" width="6.80" height="53.75" fill="#5b2a86"/>
<circle cx="424.00" cy="210.00" r="0.7" fill="#231f20"/>
<text transform="translate(358.90 284.60)" font-size="9.8" text-anchor="middle" textLength="20.50" lengthAdjust="spacingAndGlyphs">PD-L1</text>
<text transform="translate(407.80 284.60)" font-size="9.8" text-anchor="middle" textLength="19.00" lengthAdjust="spacingAndGlyphs">CD86</text>
<rect x="350.20" y="180.10" width="3.80" height="3.80" fill="#d2202f"/>
<text transform="translate(356.00 184.30)" font-size="6.6" text-anchor="start">sh-Control</text>
<rect x="350.20" y="188.43" width="3.80" height="3.80" fill="#1b5795"/>
<text transform="translate(356.00 192.63)" font-size="6.6" text-anchor="start">sh-Jun-1</text>
<rect x="350.20" y="196.76" width="3.80" height="3.80" fill="#3cb54a"/>
<text transform="translate(356.00 200.96)" font-size="6.6" text-anchor="start">sh-Jun-2</text>
<rect x="350.20" y="205.09" width="3.80" height="3.80" fill="#5b2a86"/>
<text transform="translate(356.00 209.29)" font-size="6.6" text-anchor="start">sh-Jun-3</text>
<text transform="translate(436.50 175.10) scale(1.100 1)" font-size="10.6" text-anchor="start" font-weight="bold" class="b">E</text>
<line x1="463.10" y1="185.20" x2="463.10" y2="273.10" stroke="#231f20" stroke-width="1.2"/>
<line x1="462.50" y1="272.50" x2="512.50" y2="272.50" stroke="#231f20" stroke-width="1.2"/>
<line x1="460.50" y1="272.50" x2="463.10" y2="272.50" stroke="#231f20" stroke-width="1.1"/>
<text transform="translate(458.80 275.85) scale(0.860 1)" font-size="9.0" text-anchor="end">0</text>
<line x1="460.50" y1="250.82" x2="463.10" y2="250.82" stroke="#231f20" stroke-width="1.1"/>
<text transform="translate(458.80 254.17) scale(0.860 1)" font-size="9.0" text-anchor="end">30</text>
<line x1="460.50" y1="229.15" x2="463.10" y2="229.15" stroke="#231f20" stroke-width="1.1"/>
<text transform="translate(458.80 232.50) scale(0.860 1)" font-size="9.0" text-anchor="end">60</text>
<line x1="460.50" y1="207.48" x2="463.10" y2="207.48" stroke="#231f20" stroke-width="1.1"/>
<text transform="translate(458.80 210.83) scale(0.860 1)" font-size="9.0" text-anchor="end">90</text>
<line x1="460.50" y1="185.80" x2="463.10" y2="185.80" stroke="#231f20" stroke-width="1.1"/>
<text transform="translate(458.80 189.15) scale(0.860 1)" font-size="9.0" text-anchor="end">120</text>
<line x1="476.20" y1="272.50" x2="476.20" y2="275.10" stroke="#231f20" stroke-width="1.1"/>
<line x1="502.00" y1="272.50" x2="502.00" y2="275.10" stroke="#231f20" stroke-width="1.1"/>
<text transform="translate(444.00 229.20) rotate(-90)" font-size="10.2" text-anchor="middle" textLength="63.50" lengthAdjust="spacingAndGlyphs" stroke="#231f20" stroke-width="0.1">% of Lin-cKit+ cells</text>
<line x1="471.65" y1="208.75" x2="471.65" y2="202.50" stroke="#231f20" stroke-width="1.0"/>
<line x1="469.65" y1="202.50" x2="473.65" y2="202.50" stroke="#231f20" stroke-width="1.0"/>
<rect x="468.25" y="208.25" width="6.80" height="64.25" fill="#d2202f"/>
<line x1="481.00" y1="260.50" x2="481.00" y2="257.50" stroke="#231f20" stroke-width="1.0"/>
<line x1="479.00" y1="257.50" x2="483.00" y2="257.50" stroke="#231f20" stroke-width="1.0"/>
<rect x="477.60" y="260.00" width="6.80" height="12.50" fill="#1b5795"/>
<circle cx="479.60" cy="254.50" r="0.7" fill="#231f20"/>
<circle cx="482.40" cy="254.50" r="0.7" fill="#231f20"/>
<line x1="497.15" y1="216.25" x2="497.15" y2="208.00" stroke="#231f20" stroke-width="1.0"/>
<line x1="495.15" y1="208.00" x2="499.15" y2="208.00" stroke="#231f20" stroke-width="1.0"/>
<rect x="493.75" y="215.75" width="6.80" height="56.75" fill="#d2202f"/>
<line x1="506.70" y1="259.25" x2="506.70" y2="255.50" stroke="#231f20" stroke-width="1.0"/>
<line x1="504.70" y1="255.50" x2="508.70" y2="255.50" stroke="#231f20" stroke-width="1.0"/>
<rect x="503.30" y="258.75" width="6.80" height="13.75" fill="#1b5795"/>
<circle cx="506.70" cy="252.50" r="0.7" fill="#231f20"/>
<text transform="translate(476.30 284.60)" font-size="9.8" text-anchor="middle" textLength="20.00" lengthAdjust="spacingAndGlyphs">PD-L1</text>
<text transform="translate(502.30 284.60)" font-size="9.8" text-anchor="middle" textLength="20.00" lengthAdjust="spacingAndGlyphs">CD86</text>
<rect x="466.00" y="180.10" width="3.90" height="3.90" fill="#d2202f"/>
<text transform="translate(472.00 184.30)" font-size="6.6" text-anchor="start">DMSO</text>
<rect x="466.00" y="188.43" width="3.90" height="3.90" fill="#1b5795"/>
<text transform="translate(472.00 192.63)" font-size="6.6" text-anchor="start">AP-1 inhibitor</text>
<text transform="translate(7.00 313.40) scale(1.100 1)" font-size="10.6" text-anchor="start" font-weight="bold" class="b">F</text>
<text transform="translate(74.50 322.00)" font-size="10.0" text-anchor="middle" textLength="67.50" lengthAdjust="spacingAndGlyphs">Gated CD45.2+</text>
<text transform="translate(193.90 321.30)" font-size="10.0" text-anchor="middle" textLength="92.60" lengthAdjust="spacingAndGlyphs">Gated Thy1.2+ T cells</text>
<path d="M59.1 357.2h1v1h-1zM65.6 350.1h1v1h-1zM58.5 357.9h1v1h-1zM66.9 354.9h1v1h-1zM67.8 352.3h1v1h-1zM68.3 352.9h1v1h-1zM63.3 350.1h1v1h-1zM67.6 354.6h1v1h-1zM58.1 347.9h1v1h-1zM58.8 360.7h1v1h-1zM61.0 344.8h1v1h-1zM61.2 355.6h1v1h-1zM55.0 355.6h1v1h-1zM59.2 356.3h1v1h-1zM66.5 355.9h1v1h-1zM66.5 353.2h1v1h-1zM69.0 356.2h1v1h-1zM61.9 361.1h1v1h-1zM56.7 357.1h1v1h-1zM62.4 359.9h1v1h-1zM67.6 351.2h1v1h-1zM53.8 353.3h1v1h-1zM62.9 351.3h1v1h-1zM53.4 349.3h1v1h-1zM53.5 356.2h1v1h-1zM54.5 353.8h1v1h-1zM65.6 354.9h1v1h-1zM62.7 349.3h1v1h-1zM56.1 348.6h1v1h-1zM58.7 359.0h1v1h-1zM58.3 347.0h1v1h-1zM62.6 358.7h1v1h-1zM68.1 349.7h1v1h-1zM57.2 358.6h1v1h-1zM63.4 357.0h1v1h-1zM66.9 357.7h1v1h-1zM56.3 356.2h1v1h-1zM59.9 360.3h1v1h-1zM57.0 357.4h1v1h-1zM56.8 355.8h1v1h-1zM51.7 355.6h1v1h-1zM54.1 347.2h1v1h-1zM52.5 353.5h1v1h-1zM68.0 348.8h1v1h-1zM60.5 350.0h1v1h-1zM60.6 351.4h1v1h-1zM65.9 352.1h1v1h-1zM56.1 354.9h1v1h-1zM61.7 349.5h1v1h-1zM54.9 350.3h1v1h-1zM57.4 348.5h1v1h-1zM60.7 359.9h1v1h-1zM60.2 360.5h1v1h-1zM64.3 358.2h1v1h-1zM60.8 358.2h1v1h-1zM64.1 360.2h1v1h-1zM66.8 360.6h1v1h-1zM65.8 347.5h1v1h-1zM59.7 358.6h1v1h-1zM54.1 351.1h1v1h-1zM66.7 351.3h1v1h-1zM64.4 358.3h1v1h-1zM53.5 354.4h1v1h-1zM57.9 344.6h1v1h-1zM54.6 349.2h1v1h-1zM64.6 355.9h1v1h-1zM69.6 353.9h1v1h-1zM67.5 353.9h1v1h-1zM62.5 349.5h1v1h-1z" fill="rgb(75, 135, 90)" fill-opacity="0.5"/>
<path d="M59.3 352.0h1v1h-1zM63.9 355.2h1v1h-1zM65.1 353.1h1v1h-1zM60.9 359.8h1v1h-1zM63.9 355.5h1v1h-1zM60.3 350.2h1v1h-1zM61.9 354.8h1v1h-1zM59.6 353.8h1v1h-1zM56.6 355.5h1v1h-1zM60.7 352.8h1v1h-1zM63.2 355.2h1v1h-1zM60.6 357.3h1v1h-1zM55.6 353.2h1v1h-1zM60.2 355.0h1v1h-1zM61.0 355.1h1v1h-1zM62.5 354.3h1v1h-1zM65.2 353.7h1v1h-1zM59.5 352.0h1v1h-1zM59.9 353.6h1v1h-1zM64.8 353.0h1v1h-1zM66.0 351.0h1v1h-1zM60.6 352.0h1v1h-1zM60.5 355.9h1v1h-1zM64.5 352.5h1v1h-1zM57.5 349.6h1v1h-1zM64.4 350.7h1v1h-1zM60.9 353.9h1v1h-1zM60.1 353.5h1v1h-1zM59.0 350.2h1v1h-1zM61.0 352.4h1v1h-1zM62.5 353.1h1v1h-1zM63.6 354.5h1v1h-1zM61.0 356.3h1v1h-1zM60.7 356.6h1v1h-1zM64.4 353.8h1v1h-1zM58.1 350.5h1v1h-1zM59.1 357.9h1v1h-1zM58.9 351.9h1v1h-1zM63.0 350.7h1v1h-1zM65.0 357.3h1v1h-1zM61.1 352.2h1v1h-1zM56.5 355.0h1v1h-1zM63.4 349.6h1v1h-1zM65.1 354.8h1v1h-1zM60.1 352.9h1v1h-1zM56.8 351.7h1v1h-1zM64.8 352.7h1v1h-1zM61.5 356.9h1v1h-1zM55.3 351.7h1v1h-1zM62.1 355.2h1v1h-1zM62.5 355.1h1v1h-1zM63.7 355.7h1v1h-1zM61.2 349.7h1v1h-1zM63.1 351.9h1v1h-1zM62.9 350.5h1v1h-1zM66.0 354.0h1v1h-1zM62.3 353.1h1v1h-1zM64.9 356.7h1v1h-1zM59.5 355.1h1v1h-1zM62.3 347.8h1v1h-1zM59.9 358.6h1v1h-1zM60.1 353.2h1v1h-1zM58.4 354.1h1v1h-1zM57.0 354.7h1v1h-1zM63.8 353.4h1v1h-1zM61.3 351.1h1v1h-1zM61.8 355.6h1v1h-1zM57.9 350.6h1v1h-1zM62.0 354.9h1v1h-1zM62.2 351.7h1v1h-1zM55.9 350.8h1v1h-1zM59.5 353.8h1v1h-1zM63.1 355.0h1v1h-1zM63.3 352.8h1v1h-1zM61.4 355.7h1v1h-1zM62.2 352.3h1v1h-1zM56.5 354.4h1v1h-1zM61.3 357.5h1v1h-1zM58.2 351.5h1v1h-1zM61.4 356.1h1v1h-1zM63.0 352.7h1v1h-1zM62.3 353.8h1v1h-1zM57.4 352.5h1v1h-1zM63.8 355.3h1v1h-1zM60.2 347.6h1v1h-1zM65.0 350.4h1v1h-1zM59.5 353.7h1v1h-1zM62.4 356.7h1v1h-1zM64.6 354.9h1v1h-1zM65.0 354.5h1v1h-1zM62.5 352.9h1v1h-1zM58.4 349.5h1v1h-1zM59.0 358.4h1v1h-1zM65.1 356.9h1v1h-1zM61.5 353.6h1v1h-1zM60.0 348.8h1v1h-1zM58.1 348.3h1v1h-1zM57.4 353.8h1v1h-1zM58.6 350.4h1v1h-1zM61.2 351.0h1v1h-1zM58.0 355.0h1v1h-1zM58.1 353.9h1v1h-1zM60.5 349.2h1v1h-1zM56.8 355.3h1v1h-1zM61.4 352.5h1v1h-1z" fill="rgb(180, 180, 45)" fill-opacity="0.5"/>
<path d="M54.1 352.7h1v1h-1zM60.2 348.9h1v1h-1zM53.8 350.7h1v1h-1zM63.2 351.1h1v1h-1zM60.5 357.3h1v1h-1zM65.7 355.3h1v1h-1zM58.6 359.0h1v1h-1zM59.9 358.6h1v1h-1zM59.2 358.3h1v1h-1zM58.2 349.3h1v1h-1zM52.8 353.3h1v1h-1zM57.4 354.7h1v1h-1zM61.4 358.9h1v1h-1zM56.0 353.9h1v1h-1zM62.3 360.5h1v1h-1zM65.9 353.0h1v1h-1zM57.9 358.3h1v1h-1zM65.2 352.3h1v1h-1zM55.6 353.8h1v1h-1zM64.7 358.1h1v1h-1zM62.3 357.1h1v1h-1zM65.7 350.9h1v1h-1zM56.7 355.4h1v1h-1zM56.3 356.9h1v1h-1zM68.5 355.3h1v1h-1zM59.9 358.3h1v1h-1zM60.2 347.3h1v1h-1zM67.6 350.4h1v1h-1zM64.5 350.0h1v1h-1zM59.7 354.0h1v1h-1zM59.5 350.1h1v1h-1zM57.7 355.9h1v1h-1zM59.0 360.2h1v1h-1zM53.7 359.1h1v1h-1zM58.2 352.7h1v1h-1zM66.9 349.7h1v1h-1zM64.1 356.5h1v1h-1zM61.0 352.6h1v1h-1zM57.9 360.4h1v1h-1z" fill="rgb(90, 150, 60)" fill-opacity="0.5"/>
<path d="M69.2 356.7h1v1h-1zM52.7 360.2h1v1h-1zM69.4 359.4h1v1h-1zM66.7 357.6h1v1h-1zM67.3 363.4h1v1h-1zM48.4 351.8h1v1h-1zM66.1 344.6h1v1h-1zM60.3 363.7h1v1h-1zM65.6 347.9h1v1h-1zM71.5 352.3h1v1h-1zM52.3 356.3h1v1h-1zM70.9 358.2h1v1h-1zM76.7 360.5h1v1h-1zM47.0 354.4h1v1h-1zM53.3 363.9h1v1h-1zM69.1 348.4h1v1h-1zM59.6 342.5h1v1h-1zM69.7 351.1h1v1h-1zM53.3 358.0h1v1h-1zM60.3 358.7h1v1h-1zM54.5 358.0h1v1h-1zM51.3 352.7h1v1h-1zM49.9 354.1h1v1h-1zM60.8 341.8h1v1h-1zM59.7 343.1h1v1h-1zM67.3 363.6h1v1h-1zM51.6 349.2h1v1h-1zM64.2 362.2h1v1h-1zM50.0 357.9h1v1h-1zM63.4 362.5h1v1h-1zM67.1 347.0h1v1h-1zM55.0 357.7h1v1h-1zM62.4 345.8h1v1h-1zM58.4 341.2h1v1h-1zM53.8 357.2h1v1h-1zM67.9 363.3h1v1h-1zM69.8 361.9h1v1h-1zM71.8 347.7h1v1h-1zM64.4 342.3h1v1h-1zM69.9 349.9h1v1h-1zM55.7 352.1h1v1h-1zM69.3 353.1h1v1h-1zM71.7 354.8h1v1h-1zM51.2 361.3h1v1h-1zM66.7 348.6h1v1h-1zM60.0 349.9h1v1h-1zM66.7 346.6h1v1h-1zM54.3 349.4h1v1h-1zM69.1 343.4h1v1h-1zM51.9 353.4h1v1h-1zM66.6 341.8h1v1h-1zM52.9 351.4h1v1h-1zM67.8 356.4h1v1h-1zM64.9 347.1h1v1h-1zM60.1 343.6h1v1h-1zM64.2 341.5h1v1h-1zM52.2 353.5h1v1h-1zM67.3 354.1h1v1h-1zM49.5 351.6h1v1h-1zM46.9 355.8h1v1h-1zM49.4 358.9h1v1h-1zM45.7 354.3h1v1h-1zM51.1 363.6h1v1h-1zM49.4 361.3h1v1h-1zM49.1 353.8h1v1h-1zM48.5 345.1h1v1h-1zM45.7 350.3h1v1h-1zM45.6 351.3h1v1h-1zM48.3 352.6h1v1h-1zM53.1 359.3h1v1h-1zM64.2 362.7h1v1h-1zM50.0 354.7h1v1h-1zM69.7 357.3h1v1h-1zM72.7 353.3h1v1h-1zM64.5 341.4h1v1h-1zM64.8 361.6h1v1h-1zM70.1 351.1h1v1h-1zM54.7 370.5h1v1h-1z" fill="rgb(45, 90, 150)" fill-opacity="0.5"/>
<path d="M68.7 355.6h1v1h-1zM52.7 355.5h1v1h-1zM63.1 350.7h1v1h-1zM71.7 352.9h1v1h-1zM67.8 350.4h1v1h-1zM63.2 359.2h1v1h-1zM63.4 349.6h1v1h-1zM65.7 358.4h1v1h-1zM64.4 357.9h1v1h-1zM64.9 351.4h1v1h-1zM64.8 347.2h1v1h-1zM55.9 358.5h1v1h-1zM70.9 353.9h1v1h-1zM67.3 353.0h1v1h-1zM57.3 348.7h1v1h-1zM64.4 348.0h1v1h-1zM63.5 359.6h1v1h-1zM54.5 351.5h1v1h-1zM66.4 348.9h1v1h-1zM63.2 350.5h1v1h-1zM52.4 358.0h1v1h-1zM62.8 350.4h1v1h-1zM60.8 348.4h1v1h-1zM53.3 346.9h1v1h-1zM65.3 347.3h1v1h-1zM59.4 355.7h1v1h-1zM68.7 354.5h1v1h-1zM51.7 355.6h1v1h-1zM58.9 345.3h1v1h-1zM57.9 358.8h1v1h-1zM57.7 360.1h1v1h-1zM68.2 353.9h1v1h-1zM55.7 352.0h1v1h-1zM63.6 344.4h1v1h-1zM66.2 357.4h1v1h-1zM70.9 354.9h1v1h-1zM60.3 357.2h1v1h-1zM61.4 359.7h1v1h-1zM57.3 350.2h1v1h-1zM56.9 350.7h1v1h-1zM66.8 352.4h1v1h-1zM66.5 349.1h1v1h-1zM48.7 351.3h1v1h-1zM65.9 353.4h1v1h-1zM59.7 347.6h1v1h-1zM56.1 353.9h1v1h-1z" fill="rgb(60, 120, 105)" fill-opacity="0.5"/>
<path d="M48.7 359.4h1v1h-1zM48.5 343.0h1v1h-1zM46.9 338.1h1v1h-1zM72.8 357.9h1v1h-1zM49.4 362.1h1v1h-1zM46.4 350.0h1v1h-1zM74.6 337.8h1v1h-1zM40.8 350.9h1v1h-1zM69.1 337.1h1v1h-1zM72.1 347.6h1v1h-1zM44.0 351.6h1v1h-1zM46.5 360.7h1v1h-1zM64.5 369.3h1v1h-1zM65.7 337.7h1v1h-1zM74.5 359.1h1v1h-1zM54.1 358.7h1v1h-1zM73.2 360.1h1v1h-1zM61.7 370.3h1v1h-1zM47.5 347.3h1v1h-1zM59.7 336.9h1v1h-1zM62.8 367.4h1v1h-1zM72.0 350.4h1v1h-1zM53.5 346.6h1v1h-1zM52.6 341.5h1v1h-1zM63.2 364.5h1v1h-1zM55.9 368.9h1v1h-1zM49.5 360.1h1v1h-1zM60.7 340.5h1v1h-1zM64.9 344.2h1v1h-1zM65.0 364.0h1v1h-1zM51.5 369.7h1v1h-1zM69.8 342.2h1v1h-1zM77.4 338.0h1v1h-1zM67.5 338.5h1v1h-1zM76.4 337.6h1v1h-1zM68.3 370.7h1v1h-1zM42.5 354.8h1v1h-1zM47.4 340.1h1v1h-1zM50.6 338.9h1v1h-1zM47.1 356.3h1v1h-1zM74.3 363.0h1v1h-1zM49.3 358.2h1v1h-1zM47.8 354.6h1v1h-1zM56.8 343.5h1v1h-1zM56.9 342.4h1v1h-1zM76.2 363.6h1v1h-1zM74.1 352.9h1v1h-1zM41.0 355.1h1v1h-1zM49.6 351.4h1v1h-1zM45.8 362.2h1v1h-1zM76.3 366.6h1v1h-1zM63.9 370.1h1v1h-1zM72.8 354.2h1v1h-1zM74.1 348.6h1v1h-1zM71.8 347.8h1v1h-1zM68.7 365.5h1v1h-1zM46.8 358.9h1v1h-1zM50.9 369.6h1v1h-1zM50.2 342.6h1v1h-1zM46.4 345.9h1v1h-1zM57.7 341.9h1v1h-1zM60.5 370.3h1v1h-1zM68.4 364.8h1v1h-1zM54.5 360.1h1v1h-1zM47.0 359.7h1v1h-1zM66.6 342.3h1v1h-1zM72.4 360.0h1v1h-1zM48.0 339.4h1v1h-1zM64.2 368.4h1v1h-1zM75.7 358.7h1v1h-1zM77.8 353.8h1v1h-1zM66.4 363.8h1v1h-1zM61.0 365.6h1v1h-1zM69.0 340.8h1v1h-1zM73.6 351.9h1v1h-1zM44.8 350.2h1v1h-1zM57.4 364.4h1v1h-1zM50.3 345.8h1v1h-1zM63.5 344.3h1v1h-1zM68.8 344.0h1v1h-1zM72.2 348.8h1v1h-1zM50.3 366.3h1v1h-1zM47.4 348.2h1v1h-1zM74.7 352.4h1v1h-1zM36.2 349.8h1v1h-1zM41.5 347.3h1v1h-1zM37.8 355.6h1v1h-1zM42.5 355.5h1v1h-1zM51.4 347.9h1v1h-1zM38.3 366.9h1v1h-1zM40.5 356.9h1v1h-1zM40.3 357.6h1v1h-1zM46.9 362.3h1v1h-1zM43.8 350.4h1v1h-1zM37.7 362.2h1v1h-1zM38.9 353.4h1v1h-1zM40.0 354.6h1v1h-1zM40.0 357.3h1v1h-1zM39.8 350.5h1v1h-1zM44.3 351.0h1v1h-1zM41.4 365.1h1v1h-1zM38.6 351.1h1v1h-1zM40.9 355.3h1v1h-1zM38.7 359.6h1v1h-1zM41.2 358.0h1v1h-1zM48.1 361.2h1v1h-1zM45.2 357.5h1v1h-1zM40.1 348.1h1v1h-1zM36.2 358.7h1v1h-1zM41.3 348.6h1v1h-1zM45.2 348.3h1v1h-1zM43.9 354.0h1v1h-1zM44.2 357.3h1v1h-1zM40.9 359.8h1v1h-1zM46.7 354.9h1v1h-1zM46.0 346.0h1v1h-1zM41.7 348.4h1v1h-1zM46.7 346.1h1v1h-1zM45.2 368.1h1v1h-1zM40.8 347.1h1v1h-1zM42.1 356.4h1v1h-1zM41.8 340.7h1v1h-1zM38.7 348.1h1v1h-1zM37.1 357.0h1v1h-1zM39.9 341.7h1v1h-1zM42.1 362.0h1v1h-1zM38.9 352.1h1v1h-1zM39.7 355.9h1v1h-1zM41.5 356.9h1v1h-1zM40.5 343.7h1v1h-1zM45.0 363.5h1v1h-1zM40.0 360.3h1v1h-1zM40.5 356.6h1v1h-1zM43.2 353.9h1v1h-1zM41.9 353.3h1v1h-1zM44.7 348.7h1v1h-1zM45.3 362.4h1v1h-1zM38.2 359.8h1v1h-1zM52.5 344.3h1v1h-1zM36.6 353.8h1v1h-1zM44.8 358.3h1v1h-1zM41.4 349.7h1v1h-1zM43.7 346.5h1v1h-1zM41.0 363.3h1v1h-1zM37.3 352.8h1v1h-1zM45.0 351.2h1v1h-1zM40.0 360.3h1v1h-1zM51.5 339.7h1v1h-1zM43.2 351.3h1v1h-1zM39.4 345.2h1v1h-1zM40.0 348.9h1v1h-1zM40.1 346.8h1v1h-1zM37.9 360.0h1v1h-1zM44.9 356.3h1v1h-1zM36.2 354.1h1v1h-1zM40.8 352.0h1v1h-1zM42.6 350.1h1v1h-1zM50.0 361.2h1v1h-1zM42.9 349.9h1v1h-1zM42.8 351.2h1v1h-1zM42.9 360.0h1v1h-1zM47.8 347.4h1v1h-1zM51.3 346.7h1v1h-1zM37.9 363.2h1v1h-1zM38.5 342.0h1v1h-1zM41.5 337.0h1v1h-1zM40.8 348.9h1v1h-1zM45.0 361.4h1v1h-1zM46.9 347.5h1v1h-1zM39.1 342.0h1v1h-1zM43.3 353.1h1v1h-1zM40.9 356.8h1v1h-1zM39.6 354.1h1v1h-1zM44.7 367.6h1v1h-1zM44.8 359.1h1v1h-1zM36.1 355.3h1v1h-1zM38.9 357.6h1v1h-1zM40.6 348.7h1v1h-1zM41.6 361.4h1v1h-1zM42.0 362.3h1v1h-1zM43.8 353.4h1v1h-1zM39.9 357.7h1v1h-1zM45.4 340.2h1v1h-1zM42.1 345.4h1v1h-1zM39.4 348.8h1v1h-1zM46.7 355.8h1v1h-1zM42.7 358.5h1v1h-1zM37.3 355.6h1v1h-1zM38.6 351.1h1v1h-1zM45.2 355.6h1v1h-1zM37.1 362.7h1v1h-1zM41.2 336.1h1v1h-1zM40.9 351.9h1v1h-1zM41.0 356.6h1v1h-1zM44.8 361.3h1v1h-1zM47.6 346.6h1v1h-1zM39.4 350.5h1v1h-1zM44.2 353.3h1v1h-1zM41.4 356.1h1v1h-1zM42.7 350.6h1v1h-1zM36.0 351.3h1v1h-1zM42.3 348.3h1v1h-1zM40.5 342.3h1v1h-1zM43.2 347.7h1v1h-1zM43.0 354.2h1v1h-1zM45.1 354.1h1v1h-1zM39.5 352.0h1v1h-1zM46.9 351.1h1v1h-1zM43.1 354.9h1v1h-1zM39.5 348.8h1v1h-1zM44.2 346.3h1v1h-1zM42.1 360.7h1v1h-1zM42.9 358.1h1v1h-1zM42.9 343.8h1v1h-1zM37.7 374.4h1v1h-1zM48.0 364.8h1v1h-1zM42.6 340.8h1v1h-1zM45.1 367.2h1v1h-1zM36.9 362.6h1v1h-1zM47.3 362.5h1v1h-1zM45.0 355.9h1v1h-1zM36.5 366.4h1v1h-1zM40.3 339.8h1v1h-1zM43.4 365.5h1v1h-1zM42.0 351.7h1v1h-1zM40.4 354.9h1v1h-1zM46.7 358.9h1v1h-1zM45.3 370.9h1v1h-1zM48.2 355.7h1v1h-1zM37.2 358.2h1v1h-1zM42.0 354.3h1v1h-1zM36.4 351.2h1v1h-1zM37.3 335.5h1v1h-1zM42.3 362.8h1v1h-1zM43.3 356.7h1v1h-1zM43.8 352.3h1v1h-1zM41.0 347.8h1v1h-1zM41.3 346.9h1v1h-1zM38.2 347.3h1v1h-1zM36.9 352.4h1v1h-1zM70.2 344.6h1v1h-1zM52.0 366.0h1v1h-1zM40.3 348.8h1v1h-1zM52.6 371.9h1v1h-1zM67.9 341.4h1v1h-1zM49.6 344.7h1v1h-1zM44.5 351.2h1v1h-1zM51.6 337.6h1v1h-1zM76.8 361.6h1v1h-1zM49.8 338.5h1v1h-1zM73.9 363.3h1v1h-1zM55.9 368.1h1v1h-1zM57.5 365.7h1v1h-1zM77.9 365.4h1v1h-1zM36.3 371.6h1v1h-1zM38.1 347.3h1v1h-1zM47.5 364.7h1v1h-1zM55.1 369.7h1v1h-1zM54.7 367.6h1v1h-1zM38.4 351.6h1v1h-1zM71.2 341.2h1v1h-1zM74.6 343.4h1v1h-1zM40.2 339.4h1v1h-1zM46.8 368.6h1v1h-1zM64.8 341.6h1v1h-1zM37.8 366.1h1v1h-1zM39.9 352.7h1v1h-1zM70.8 340.4h1v1h-1zM75.1 339.3h1v1h-1zM39.7 341.0h1v1h-1zM47.4 368.2h1v1h-1zM71.5 344.2h1v1h-1zM63.6 337.8h1v1h-1zM43.5 364.4h1v1h-1zM48.5 338.5h1v1h-1zM59.5 339.4h1v1h-1zM40.1 359.3h1v1h-1zM42.3 339.4h1v1h-1zM42.9 355.3h1v1h-1zM57.1 368.1h1v1h-1zM42.5 345.5h1v1h-1zM50.5 341.1h1v1h-1zM49.9 371.1h1v1h-1zM77.9 364.5h1v1h-1zM44.4 358.5h1v1h-1zM39.9 361.8h1v1h-1zM67.3 340.9h1v1h-1zM70.7 364.2h1v1h-1zM72.6 346.8h1v1h-1zM46.6 366.2h1v1h-1zM53.1 339.1h1v1h-1zM63.4 366.1h1v1h-1zM71.1 364.5h1v1h-1zM36.2 353.6h1v1h-1zM39.7 345.8h1v1h-1zM41.1 360.6h1v1h-1zM76.2 349.0h1v1h-1zM45.4 368.0h1v1h-1zM77.5 342.8h1v1h-1zM70.9 341.8h1v1h-1zM43.4 370.0h1v1h-1zM40.2 355.9h1v1h-1zM39.2 358.5h1v1h-1zM74.1 353.9h1v1h-1zM51.3 371.1h1v1h-1zM49.7 340.9h1v1h-1zM42.1 357.2h1v1h-1zM60.2 337.7h1v1h-1zM77.1 359.4h1v1h-1zM57.2 403.9h1v1h-1zM51.7 379.9h1v1h-1zM67.5 399.8h1v1h-1zM83.5 379.9h1v1h-1zM76.1 380.1h1v1h-1zM46.9 384.3h1v1h-1zM87.0 380.9h1v1h-1zM54.0 388.1h1v1h-1z" fill="rgb(90, 105, 180)" fill-opacity="0.5"/>
<path d="M64.7 357.1h1v1h-1zM64.9 350.0h1v1h-1zM63.3 356.5h1v1h-1zM66.8 354.2h1v1h-1zM64.8 353.3h1v1h-1zM67.0 351.7h1v1h-1zM61.3 354.4h1v1h-1zM58.0 359.4h1v1h-1zM55.9 349.4h1v1h-1zM64.6 357.3h1v1h-1zM57.5 358.0h1v1h-1zM61.4 357.4h1v1h-1zM58.1 355.5h1v1h-1zM60.8 353.1h1v1h-1zM58.2 349.2h1v1h-1zM66.0 357.0h1v1h-1zM54.7 349.4h1v1h-1zM62.5 356.0h1v1h-1zM59.6 352.6h1v1h-1zM60.8 351.7h1v1h-1zM65.4 351.9h1v1h-1z" fill="rgb(120, 165, 60)" fill-opacity="0.5"/>
<path d="M54.4 351.1h1v1h-1zM57.7 348.0h1v1h-1zM64.2 344.6h1v1h-1zM61.4 362.2h1v1h-1zM50.2 359.2h1v1h-1zM61.9 361.2h1v1h-1zM71.4 347.5h1v1h-1zM70.3 346.0h1v1h-1zM79.0 356.2h1v1h-1zM60.5 360.0h1v1h-1zM62.6 358.0h1v1h-1zM62.2 346.6h1v1h-1zM60.0 346.1h1v1h-1zM70.2 352.6h1v1h-1zM53.7 354.2h1v1h-1zM49.9 343.8h1v1h-1zM53.4 345.4h1v1h-1zM52.0 356.1h1v1h-1zM67.3 349.2h1v1h-1zM65.5 359.0h1v1h-1zM64.7 353.1h1v1h-1zM55.8 350.5h1v1h-1zM77.3 341.5h1v1h-1zM52.5 349.0h1v1h-1zM53.6 358.9h1v1h-1zM57.3 361.5h1v1h-1zM70.3 354.7h1v1h-1zM67.7 358.6h1v1h-1zM67.6 348.3h1v1h-1zM50.4 353.6h1v1h-1zM54.7 363.0h1v1h-1zM63.1 354.3h1v1h-1zM51.8 345.2h1v1h-1zM48.8 351.9h1v1h-1zM66.8 359.0h1v1h-1zM64.5 362.5h1v1h-1zM55.5 349.5h1v1h-1zM68.8 358.9h1v1h-1zM62.9 364.2h1v1h-1zM62.3 364.8h1v1h-1zM64.7 363.2h1v1h-1zM53.3 348.1h1v1h-1zM57.7 346.0h1v1h-1zM66.7 344.1h1v1h-1zM53.0 346.8h1v1h-1zM50.7 357.6h1v1h-1zM72.9 350.5h1v1h-1zM60.6 362.1h1v1h-1zM50.5 348.2h1v1h-1zM66.5 364.9h1v1h-1zM54.1 360.1h1v1h-1zM69.3 351.9h1v1h-1zM53.0 350.5h1v1h-1zM60.0 361.0h1v1h-1zM68.9 358.2h1v1h-1zM66.4 346.7h1v1h-1zM52.0 355.9h1v1h-1zM67.9 354.4h1v1h-1zM62.0 345.7h1v1h-1zM55.4 350.2h1v1h-1zM46.4 360.2h1v1h-1zM53.3 358.7h1v1h-1zM51.6 354.1h1v1h-1zM49.8 347.1h1v1h-1zM49.9 355.4h1v1h-1zM40.5 350.2h1v1h-1zM47.5 351.1h1v1h-1zM46.8 351.0h1v1h-1zM40.2 354.6h1v1h-1zM40.7 352.1h1v1h-1zM49.3 351.3h1v1h-1zM48.8 358.6h1v1h-1zM43.5 362.3h1v1h-1zM46.0 358.1h1v1h-1zM49.5 349.6h1v1h-1zM49.2 356.2h1v1h-1zM48.2 349.5h1v1h-1zM43.2 347.1h1v1h-1zM46.1 353.2h1v1h-1zM41.6 338.2h1v1h-1zM43.8 353.3h1v1h-1zM46.1 347.0h1v1h-1zM43.2 363.0h1v1h-1zM40.6 348.1h1v1h-1zM51.6 360.0h1v1h-1zM54.5 353.7h1v1h-1zM49.1 345.2h1v1h-1zM69.7 343.2h1v1h-1zM56.5 364.5h1v1h-1zM57.8 346.5h1v1h-1zM60.3 344.4h1v1h-1zM62.0 360.9h1v1h-1zM70.2 348.3h1v1h-1zM69.3 360.6h1v1h-1zM62.0 346.5h1v1h-1zM51.2 359.8h1v1h-1zM73.4 362.2h1v1h-1zM52.5 362.9h1v1h-1zM68.0 346.5h1v1h-1z" fill="rgb(45, 90, 165)" fill-opacity="0.5"/>
<path d="M63.3 353.7h1v1h-1zM56.1 351.4h1v1h-1zM64.0 356.6h1v1h-1zM60.5 360.6h1v1h-1zM54.3 349.1h1v1h-1zM64.7 355.1h1v1h-1zM60.5 349.2h1v1h-1zM62.1 353.1h1v1h-1zM64.3 356.3h1v1h-1zM60.6 347.1h1v1h-1zM59.6 349.2h1v1h-1zM56.2 349.7h1v1h-1zM65.1 350.9h1v1h-1zM65.8 354.2h1v1h-1zM55.7 349.2h1v1h-1zM67.7 348.9h1v1h-1zM60.2 358.2h1v1h-1zM56.1 357.7h1v1h-1zM55.5 353.6h1v1h-1z" fill="rgb(135, 165, 45)" fill-opacity="0.5"/>
<path d="M56.1 364.8h1v1h-1zM46.1 352.0h1v1h-1zM71.7 356.3h1v1h-1zM71.7 357.6h1v1h-1zM51.3 364.1h1v1h-1zM69.4 363.4h1v1h-1zM47.3 359.2h1v1h-1zM48.8 350.2h1v1h-1zM44.5 348.5h1v1h-1zM64.3 340.9h1v1h-1zM67.6 362.2h1v1h-1zM70.8 365.4h1v1h-1zM50.6 349.8h1v1h-1zM73.6 360.2h1v1h-1zM53.0 337.4h1v1h-1zM59.4 370.0h1v1h-1zM74.5 357.3h1v1h-1zM69.3 339.0h1v1h-1zM65.5 368.7h1v1h-1zM69.7 347.6h1v1h-1zM57.2 368.4h1v1h-1zM48.1 365.3h1v1h-1zM65.2 367.2h1v1h-1zM73.5 356.7h1v1h-1zM73.3 346.2h1v1h-1zM58.2 332.3h1v1h-1zM52.5 363.2h1v1h-1zM61.8 360.5h1v1h-1zM42.6 366.0h1v1h-1zM47.5 355.8h1v1h-1zM54.5 368.6h1v1h-1zM48.8 359.4h1v1h-1zM50.7 343.3h1v1h-1zM44.3 352.1h1v1h-1zM49.2 360.9h1v1h-1zM65.1 339.9h1v1h-1zM70.2 366.5h1v1h-1zM45.3 352.9h1v1h-1zM72.5 365.1h1v1h-1zM61.2 367.6h1v1h-1zM73.0 357.9h1v1h-1zM75.3 354.5h1v1h-1zM56.2 342.5h1v1h-1zM56.3 342.2h1v1h-1zM75.4 360.5h1v1h-1zM67.6 342.0h1v1h-1zM76.3 346.2h1v1h-1zM62.6 336.7h1v1h-1zM59.8 369.1h1v1h-1zM72.4 359.4h1v1h-1zM49.8 363.0h1v1h-1zM50.5 360.6h1v1h-1zM50.0 349.3h1v1h-1zM53.3 341.0h1v1h-1zM51.2 360.7h1v1h-1zM63.6 365.1h1v1h-1zM51.5 357.9h1v1h-1zM74.0 358.1h1v1h-1zM53.3 342.4h1v1h-1zM75.2 354.5h1v1h-1zM54.0 340.7h1v1h-1zM53.2 364.6h1v1h-1zM40.9 353.3h1v1h-1zM73.1 357.4h1v1h-1zM69.1 362.9h1v1h-1zM74.5 357.1h1v1h-1zM48.5 350.3h1v1h-1zM69.0 339.3h1v1h-1zM74.7 364.9h1v1h-1zM49.2 341.8h1v1h-1zM74.1 346.2h1v1h-1zM71.4 344.2h1v1h-1zM70.2 364.1h1v1h-1zM54.4 366.4h1v1h-1zM76.5 365.5h1v1h-1zM46.1 368.6h1v1h-1zM67.0 342.5h1v1h-1zM74.9 358.8h1v1h-1zM69.0 346.7h1v1h-1zM48.7 347.2h1v1h-1zM47.0 363.1h1v1h-1zM41.8 361.0h1v1h-1zM66.7 342.8h1v1h-1zM77.7 350.2h1v1h-1zM68.2 359.8h1v1h-1zM56.2 372.2h1v1h-1zM70.7 336.7h1v1h-1zM57.0 363.0h1v1h-1zM59.9 363.0h1v1h-1zM43.2 353.9h1v1h-1zM44.4 358.2h1v1h-1zM38.5 350.4h1v1h-1zM42.7 360.3h1v1h-1zM38.8 366.4h1v1h-1zM46.6 352.5h1v1h-1zM40.2 352.2h1v1h-1zM37.7 352.1h1v1h-1zM41.0 354.9h1v1h-1zM42.6 355.3h1v1h-1zM43.5 349.7h1v1h-1zM45.7 369.6h1v1h-1zM41.5 348.4h1v1h-1zM36.3 352.8h1v1h-1zM37.0 360.1h1v1h-1zM47.5 359.0h1v1h-1zM49.9 344.4h1v1h-1zM40.3 350.4h1v1h-1zM42.4 353.7h1v1h-1zM42.5 350.6h1v1h-1zM42.6 351.5h1v1h-1zM39.3 367.0h1v1h-1zM46.5 360.3h1v1h-1zM38.0 349.1h1v1h-1zM43.5 340.7h1v1h-1zM40.3 357.1h1v1h-1zM46.3 355.5h1v1h-1zM39.5 355.3h1v1h-1zM40.3 349.3h1v1h-1zM49.0 340.7h1v1h-1zM46.8 363.9h1v1h-1zM46.5 343.7h1v1h-1zM41.0 357.3h1v1h-1zM44.5 348.2h1v1h-1zM36.1 362.9h1v1h-1zM42.6 355.5h1v1h-1zM36.1 349.6h1v1h-1zM39.5 355.1h1v1h-1zM39.7 359.7h1v1h-1zM37.8 342.5h1v1h-1zM43.2 356.2h1v1h-1zM48.0 351.2h1v1h-1zM37.2 357.7h1v1h-1zM37.9 350.8h1v1h-1zM42.5 356.5h1v1h-1zM38.8 352.5h1v1h-1zM44.4 360.4h1v1h-1zM43.3 354.4h1v1h-1zM42.9 351.8h1v1h-1zM46.3 364.9h1v1h-1zM40.4 347.4h1v1h-1zM45.3 347.9h1v1h-1zM41.2 352.4h1v1h-1zM45.2 354.6h1v1h-1zM39.7 364.4h1v1h-1zM37.7 351.3h1v1h-1zM40.9 356.5h1v1h-1zM43.4 355.7h1v1h-1zM41.6 345.0h1v1h-1zM48.3 349.2h1v1h-1zM44.5 358.1h1v1h-1zM40.5 349.9h1v1h-1zM46.2 340.6h1v1h-1zM38.6 363.5h1v1h-1zM39.5 347.9h1v1h-1zM40.5 347.9h1v1h-1zM47.3 356.0h1v1h-1zM41.7 353.8h1v1h-1zM36.4 346.3h1v1h-1zM38.6 355.1h1v1h-1zM42.6 350.6h1v1h-1zM37.7 366.7h1v1h-1zM49.1 357.4h1v1h-1zM44.6 350.2h1v1h-1zM42.2 354.9h1v1h-1zM45.8 362.8h1v1h-1zM40.1 353.5h1v1h-1zM39.0 359.8h1v1h-1zM46.5 350.4h1v1h-1zM48.5 346.1h1v1h-1zM42.1 357.7h1v1h-1zM48.1 345.8h1v1h-1zM38.8 357.9h1v1h-1zM43.0 353.5h1v1h-1zM39.8 357.0h1v1h-1zM38.7 346.7h1v1h-1zM37.2 370.1h1v1h-1zM43.7 362.7h1v1h-1zM45.3 341.1h1v1h-1zM74.9 355.0h1v1h-1zM70.8 368.2h1v1h-1zM72.4 337.6h1v1h-1zM55.0 339.2h1v1h-1zM52.0 336.6h1v1h-1zM44.4 356.5h1v1h-1zM38.4 342.4h1v1h-1zM74.8 342.9h1v1h-1zM37.1 357.3h1v1h-1zM41.0 343.9h1v1h-1zM40.3 339.2h1v1h-1zM38.3 360.9h1v1h-1zM53.6 357.0h1v1h-1zM72.6 341.2h1v1h-1zM38.1 347.0h1v1h-1zM48.2 361.6h1v1h-1zM62.8 337.8h1v1h-1zM72.2 338.6h1v1h-1zM71.3 341.5h1v1h-1zM45.4 355.6h1v1h-1zM75.5 354.9h1v1h-1zM48.2 348.5h1v1h-1zM56.4 367.1h1v1h-1zM61.1 370.8h1v1h-1zM50.5 370.0h1v1h-1zM46.4 362.7h1v1h-1zM40.9 352.8h1v1h-1zM44.5 340.6h1v1h-1zM46.1 367.4h1v1h-1zM65.9 338.2h1v1h-1zM75.5 350.8h1v1h-1zM53.1 339.2h1v1h-1zM46.3 362.4h1v1h-1zM44.3 343.9h1v1h-1zM68.7 368.7h1v1h-1zM50.7 341.8h1v1h-1zM70.8 369.7h1v1h-1zM74.0 362.8h1v1h-1zM75.7 340.2h1v1h-1zM55.2 344.5h1v1h-1zM52.5 364.2h1v1h-1zM50.3 357.4h1v1h-1zM36.7 340.0h1v1h-1zM50.9 366.4h1v1h-1zM63.8 365.1h1v1h-1zM37.7 365.6h1v1h-1zM43.7 345.8h1v1h-1zM61.6 368.2h1v1h-1zM55.1 365.1h1v1h-1zM51.8 369.4h1v1h-1zM38.4 366.1h1v1h-1zM54.8 363.0h1v1h-1zM76.0 368.1h1v1h-1zM44.4 390.5h1v1h-1zM53.5 376.6h1v1h-1zM88.2 403.9h1v1h-1z" fill="rgb(75, 105, 180)" fill-opacity="0.5"/>
<path d="M65.1 361.5h1v1h-1zM70.5 341.2h1v1h-1zM50.8 353.2h1v1h-1zM49.7 344.5h1v1h-1zM72.0 364.1h1v1h-1zM47.1 347.2h1v1h-1zM43.5 356.1h1v1h-1zM57.8 341.3h1v1h-1zM59.3 345.1h1v1h-1zM72.1 361.3h1v1h-1zM74.8 350.5h1v1h-1zM72.4 356.0h1v1h-1zM67.7 343.0h1v1h-1zM62.8 368.1h1v1h-1zM64.5 344.1h1v1h-1zM67.8 367.6h1v1h-1zM49.4 364.1h1v1h-1zM70.9 351.7h1v1h-1zM66.6 344.3h1v1h-1zM58.5 340.7h1v1h-1zM54.3 341.9h1v1h-1zM69.7 359.1h1v1h-1zM63.4 344.2h1v1h-1zM62.1 367.7h1v1h-1zM68.8 344.6h1v1h-1zM54.4 362.1h1v1h-1zM69.1 359.7h1v1h-1zM54.6 361.2h1v1h-1zM53.9 344.7h1v1h-1zM73.7 360.7h1v1h-1zM44.3 357.6h1v1h-1zM53.0 360.7h1v1h-1zM69.0 344.8h1v1h-1zM51.2 355.2h1v1h-1zM54.8 360.2h1v1h-1zM61.5 339.1h1v1h-1zM70.0 354.2h1v1h-1zM69.5 360.9h1v1h-1zM66.5 340.9h1v1h-1zM47.6 351.8h1v1h-1zM49.9 359.9h1v1h-1zM43.1 347.5h1v1h-1zM42.6 357.7h1v1h-1zM49.2 362.4h1v1h-1zM40.2 348.2h1v1h-1zM47.9 348.2h1v1h-1zM42.0 355.9h1v1h-1zM41.5 360.3h1v1h-1zM41.7 342.8h1v1h-1zM49.3 361.2h1v1h-1zM46.1 362.3h1v1h-1zM47.0 358.5h1v1h-1zM51.0 355.5h1v1h-1zM42.4 353.0h1v1h-1zM38.2 351.1h1v1h-1zM40.6 362.0h1v1h-1zM49.2 354.4h1v1h-1zM47.0 347.2h1v1h-1zM40.7 351.6h1v1h-1zM40.6 363.5h1v1h-1zM47.3 346.8h1v1h-1zM47.7 356.7h1v1h-1zM39.8 356.2h1v1h-1zM39.5 360.3h1v1h-1zM44.0 356.6h1v1h-1zM48.0 356.5h1v1h-1zM43.2 348.5h1v1h-1zM43.1 358.6h1v1h-1zM41.6 359.5h1v1h-1zM38.0 349.2h1v1h-1zM38.9 353.4h1v1h-1zM38.3 366.3h1v1h-1zM42.3 356.1h1v1h-1zM39.0 357.0h1v1h-1zM41.5 368.3h1v1h-1zM56.1 364.7h1v1h-1zM72.0 345.3h1v1h-1zM74.7 356.2h1v1h-1zM69.6 371.3h1v1h-1zM64.5 340.1h1v1h-1zM37.4 354.5h1v1h-1zM49.9 366.3h1v1h-1zM46.3 357.6h1v1h-1zM77.3 337.5h1v1h-1zM76.7 364.3h1v1h-1zM46.5 348.7h1v1h-1z" fill="rgb(60, 90, 180)" fill-opacity="0.5"/>
<path d="M56.4 349.3h1v1h-1zM55.0 355.5h1v1h-1zM62.8 356.7h1v1h-1zM64.8 357.5h1v1h-1zM68.1 357.3h1v1h-1zM63.6 354.9h1v1h-1zM68.8 352.1h1v1h-1zM62.0 358.4h1v1h-1zM55.5 360.4h1v1h-1zM61.6 362.4h1v1h-1zM59.5 346.1h1v1h-1zM66.8 358.7h1v1h-1zM73.5 356.7h1v1h-1zM56.4 354.0h1v1h-1zM53.2 350.0h1v1h-1zM51.3 350.8h1v1h-1zM53.2 347.2h1v1h-1zM64.6 344.0h1v1h-1zM62.1 345.3h1v1h-1zM66.4 355.9h1v1h-1zM66.7 360.0h1v1h-1zM69.6 354.2h1v1h-1zM61.2 344.9h1v1h-1zM63.2 357.2h1v1h-1zM55.8 354.1h1v1h-1zM61.0 347.5h1v1h-1zM58.4 360.6h1v1h-1zM61.5 358.7h1v1h-1zM60.1 364.0h1v1h-1zM70.2 355.7h1v1h-1zM68.1 358.2h1v1h-1zM59.0 347.4h1v1h-1zM64.3 349.6h1v1h-1zM60.6 349.8h1v1h-1zM64.9 345.4h1v1h-1zM67.0 355.3h1v1h-1zM64.5 356.8h1v1h-1zM60.7 362.5h1v1h-1zM63.6 346.4h1v1h-1zM55.9 356.8h1v1h-1zM56.7 354.9h1v1h-1zM55.0 359.4h1v1h-1zM67.7 357.7h1v1h-1zM64.8 352.1h1v1h-1zM67.8 359.1h1v1h-1zM70.7 353.5h1v1h-1zM55.1 349.5h1v1h-1zM67.9 354.1h1v1h-1zM62.6 362.2h1v1h-1zM53.5 351.8h1v1h-1zM69.5 352.3h1v1h-1zM69.6 354.2h1v1h-1zM61.1 359.6h1v1h-1zM58.0 347.0h1v1h-1zM55.4 348.8h1v1h-1zM62.7 344.3h1v1h-1zM69.4 351.2h1v1h-1zM64.8 345.7h1v1h-1zM58.3 360.8h1v1h-1zM57.2 349.0h1v1h-1zM55.6 358.6h1v1h-1zM55.4 359.3h1v1h-1zM55.1 353.9h1v1h-1zM67.0 355.6h1v1h-1zM68.0 350.6h1v1h-1zM68.3 354.6h1v1h-1zM63.1 347.2h1v1h-1zM53.7 358.4h1v1h-1zM47.0 349.5h1v1h-1zM54.6 355.7h1v1h-1zM64.7 346.3h1v1h-1zM68.1 350.2h1v1h-1zM52.6 356.5h1v1h-1zM69.4 356.5h1v1h-1zM61.0 360.6h1v1h-1zM56.3 349.6h1v1h-1zM53.0 357.1h1v1h-1zM63.8 356.3h1v1h-1zM51.3 350.1h1v1h-1zM64.5 363.5h1v1h-1zM64.8 358.7h1v1h-1zM61.5 346.9h1v1h-1zM53.2 356.1h1v1h-1zM53.0 354.0h1v1h-1zM63.5 358.9h1v1h-1zM65.8 352.9h1v1h-1zM53.0 351.1h1v1h-1zM57.0 347.1h1v1h-1zM66.8 357.6h1v1h-1zM62.8 357.7h1v1h-1zM66.4 347.0h1v1h-1zM52.4 358.3h1v1h-1zM37.7 346.3h1v1h-1zM52.6 354.1h1v1h-1zM45.2 349.6h1v1h-1zM46.0 358.9h1v1h-1zM47.4 362.4h1v1h-1zM50.8 353.6h1v1h-1zM42.5 345.1h1v1h-1zM65.9 346.6h1v1h-1zM52.2 356.8h1v1h-1zM58.5 349.5h1v1h-1zM64.3 360.3h1v1h-1zM74.3 347.7h1v1h-1zM66.6 351.5h1v1h-1zM59.2 364.4h1v1h-1zM41.5 356.8h1v1h-1zM57.3 349.2h1v1h-1zM60.0 360.8h1v1h-1zM61.0 364.2h1v1h-1zM67.6 358.9h1v1h-1zM62.9 346.1h1v1h-1zM69.8 360.4h1v1h-1z" fill="rgb(45, 105, 135)" fill-opacity="0.5"/>
<path d="M58.5 353.3h1v1h-1zM58.5 356.4h1v1h-1zM56.3 358.0h1v1h-1zM64.2 357.3h1v1h-1zM61.9 353.2h1v1h-1zM56.7 353.5h1v1h-1zM58.9 350.0h1v1h-1zM64.6 354.8h1v1h-1zM63.1 349.2h1v1h-1zM62.4 347.5h1v1h-1zM56.9 355.2h1v1h-1z" fill="rgb(150, 180, 45)" fill-opacity="0.5"/>
<path d="M65.7 355.6h1v1h-1zM57.7 346.0h1v1h-1zM69.2 355.0h1v1h-1zM59.9 352.1h1v1h-1zM65.2 354.0h1v1h-1zM56.9 353.4h1v1h-1zM61.1 359.1h1v1h-1zM49.7 353.3h1v1h-1zM65.6 357.0h1v1h-1zM54.5 355.6h1v1h-1zM54.1 351.8h1v1h-1zM62.1 356.6h1v1h-1zM56.2 358.0h1v1h-1zM64.9 357.5h1v1h-1zM70.1 349.5h1v1h-1zM67.5 351.4h1v1h-1zM67.6 354.4h1v1h-1zM62.5 360.2h1v1h-1zM62.7 350.8h1v1h-1zM60.0 363.0h1v1h-1zM63.4 352.3h1v1h-1zM69.3 351.2h1v1h-1zM52.3 354.4h1v1h-1zM65.2 360.4h1v1h-1zM66.2 353.1h1v1h-1zM66.9 360.5h1v1h-1zM47.8 342.2h1v1h-1z" fill="rgb(60, 120, 120)" fill-opacity="0.5"/>
<path d="M57.1 361.7h1v1h-1zM57.8 358.1h1v1h-1zM59.3 354.1h1v1h-1zM57.0 356.9h1v1h-1zM56.2 359.1h1v1h-1zM55.6 354.3h1v1h-1zM66.4 358.8h1v1h-1zM53.8 353.8h1v1h-1zM64.8 353.0h1v1h-1zM56.4 349.5h1v1h-1zM60.9 352.0h1v1h-1zM62.8 357.8h1v1h-1zM60.5 353.1h1v1h-1zM62.6 361.4h1v1h-1zM50.8 352.9h1v1h-1zM55.3 359.1h1v1h-1zM69.7 354.8h1v1h-1zM65.2 352.2h1v1h-1zM67.8 349.7h1v1h-1zM57.5 351.1h1v1h-1z" fill="rgb(75, 135, 75)" fill-opacity="0.5"/>
<path d="M64.7 353.6h1v1h-1zM63.4 358.1h1v1h-1zM62.1 357.6h1v1h-1zM59.7 355.7h1v1h-1zM57.8 351.7h1v1h-1zM66.4 352.3h1v1h-1zM58.8 351.0h1v1h-1zM61.4 348.8h1v1h-1zM64.3 347.9h1v1h-1zM58.5 359.5h1v1h-1zM56.0 359.1h1v1h-1zM60.6 356.0h1v1h-1zM56.2 353.7h1v1h-1zM61.2 352.2h1v1h-1zM66.0 351.7h1v1h-1zM62.5 353.5h1v1h-1zM59.1 351.2h1v1h-1zM58.9 350.4h1v1h-1zM57.8 357.2h1v1h-1zM60.3 349.8h1v1h-1zM62.2 349.6h1v1h-1zM58.9 353.9h1v1h-1zM58.5 353.8h1v1h-1zM61.2 350.3h1v1h-1zM62.5 358.8h1v1h-1zM60.7 347.0h1v1h-1zM58.7 356.9h1v1h-1zM57.1 350.5h1v1h-1zM58.4 354.2h1v1h-1zM55.4 350.7h1v1h-1zM60.0 351.2h1v1h-1zM62.1 348.4h1v1h-1zM56.9 353.2h1v1h-1zM64.1 358.8h1v1h-1zM67.6 356.3h1v1h-1z" fill="rgb(105, 150, 60)" fill-opacity="0.5"/>
<path d="M66.0 360.0h1v1h-1zM50.2 355.5h1v1h-1zM54.5 360.0h1v1h-1zM71.8 351.2h1v1h-1zM75.9 356.0h1v1h-1zM69.1 344.9h1v1h-1zM62.3 361.5h1v1h-1zM53.4 344.7h1v1h-1zM70.4 358.7h1v1h-1zM71.9 348.1h1v1h-1zM54.4 363.8h1v1h-1zM74.3 354.3h1v1h-1zM56.9 360.8h1v1h-1zM68.5 359.0h1v1h-1zM49.4 350.0h1v1h-1zM75.0 353.2h1v1h-1zM52.2 345.5h1v1h-1zM45.0 349.3h1v1h-1zM58.2 345.4h1v1h-1zM55.4 357.3h1v1h-1zM72.0 358.5h1v1h-1zM68.6 347.2h1v1h-1zM63.7 361.1h1v1h-1zM67.3 357.4h1v1h-1zM66.8 359.9h1v1h-1zM47.0 353.7h1v1h-1zM65.7 342.9h1v1h-1zM49.9 355.3h1v1h-1zM78.2 352.0h1v1h-1zM73.3 354.1h1v1h-1zM71.5 349.6h1v1h-1zM72.3 361.1h1v1h-1zM50.6 353.8h1v1h-1zM47.9 363.1h1v1h-1zM49.9 352.7h1v1h-1zM71.3 351.7h1v1h-1zM72.2 351.6h1v1h-1zM56.9 359.6h1v1h-1zM53.2 357.1h1v1h-1zM69.8 364.7h1v1h-1zM70.6 352.6h1v1h-1zM60.2 364.9h1v1h-1zM66.9 362.3h1v1h-1zM48.3 361.3h1v1h-1zM51.3 358.2h1v1h-1zM71.2 355.3h1v1h-1zM62.1 343.1h1v1h-1zM59.5 342.5h1v1h-1zM47.6 347.7h1v1h-1zM53.0 362.2h1v1h-1zM69.9 346.0h1v1h-1zM70.3 354.6h1v1h-1zM75.8 358.0h1v1h-1zM57.0 344.3h1v1h-1zM70.1 357.4h1v1h-1zM52.1 362.8h1v1h-1zM74.6 359.1h1v1h-1zM53.0 363.7h1v1h-1zM67.3 360.7h1v1h-1zM51.0 359.8h1v1h-1zM67.7 346.4h1v1h-1zM57.0 362.2h1v1h-1zM67.3 357.8h1v1h-1zM65.4 362.4h1v1h-1zM63.8 363.3h1v1h-1zM50.9 358.7h1v1h-1zM69.9 363.2h1v1h-1zM49.0 352.0h1v1h-1zM53.8 343.6h1v1h-1zM48.5 352.3h1v1h-1zM58.0 362.0h1v1h-1zM72.5 356.5h1v1h-1zM69.6 349.3h1v1h-1zM56.9 348.0h1v1h-1zM63.5 340.2h1v1h-1zM70.0 356.7h1v1h-1zM72.2 354.3h1v1h-1zM74.9 365.4h1v1h-1zM56.5 363.4h1v1h-1zM54.0 360.9h1v1h-1zM73.2 350.3h1v1h-1zM57.0 342.7h1v1h-1zM56.0 361.5h1v1h-1zM52.3 357.9h1v1h-1zM54.5 341.2h1v1h-1zM64.8 364.0h1v1h-1zM52.3 348.1h1v1h-1zM47.2 347.6h1v1h-1zM65.9 362.9h1v1h-1zM43.7 358.0h1v1h-1zM66.1 359.3h1v1h-1zM65.5 347.3h1v1h-1zM52.2 347.6h1v1h-1zM58.0 356.8h1v1h-1zM51.9 361.1h1v1h-1zM70.7 350.6h1v1h-1zM57.4 362.6h1v1h-1zM69.6 351.9h1v1h-1zM49.8 357.8h1v1h-1zM72.7 351.4h1v1h-1zM42.0 354.2h1v1h-1zM64.3 342.1h1v1h-1zM69.3 352.4h1v1h-1zM69.9 348.1h1v1h-1zM54.2 351.1h1v1h-1zM51.3 362.1h1v1h-1zM44.2 348.2h1v1h-1zM44.0 358.7h1v1h-1zM45.8 356.5h1v1h-1zM46.8 365.4h1v1h-1zM39.3 362.5h1v1h-1zM50.8 363.4h1v1h-1zM42.2 355.5h1v1h-1zM46.1 355.0h1v1h-1zM42.4 340.7h1v1h-1zM49.8 357.0h1v1h-1zM44.9 351.9h1v1h-1zM42.8 358.5h1v1h-1zM37.9 364.3h1v1h-1zM45.6 357.2h1v1h-1zM42.6 357.2h1v1h-1zM45.8 343.9h1v1h-1zM41.0 360.6h1v1h-1zM47.4 348.0h1v1h-1zM50.5 352.9h1v1h-1zM40.1 356.1h1v1h-1zM41.1 346.6h1v1h-1zM46.6 363.3h1v1h-1zM42.2 351.5h1v1h-1zM40.5 356.1h1v1h-1zM46.5 356.3h1v1h-1zM37.7 354.3h1v1h-1zM41.1 359.0h1v1h-1zM42.4 355.0h1v1h-1zM41.5 348.9h1v1h-1zM44.6 346.9h1v1h-1zM38.9 349.9h1v1h-1zM48.8 360.4h1v1h-1zM48.5 356.7h1v1h-1zM49.1 350.3h1v1h-1zM46.5 362.3h1v1h-1zM52.8 365.4h1v1h-1zM41.6 350.8h1v1h-1zM39.7 344.3h1v1h-1zM47.3 343.6h1v1h-1zM42.3 346.9h1v1h-1zM43.2 365.6h1v1h-1zM70.3 340.4h1v1h-1zM51.6 348.2h1v1h-1zM62.7 366.9h1v1h-1zM69.3 358.2h1v1h-1zM70.1 348.7h1v1h-1zM71.3 350.9h1v1h-1zM52.9 337.5h1v1h-1zM68.3 363.7h1v1h-1zM47.5 345.4h1v1h-1zM74.6 356.0h1v1h-1zM61.0 342.5h1v1h-1zM53.4 359.7h1v1h-1zM59.5 341.5h1v1h-1zM52.0 359.1h1v1h-1zM74.8 371.9h1v1h-1zM74.8 337.2h1v1h-1zM50.0 352.2h1v1h-1zM50.8 349.5h1v1h-1zM63.9 341.9h1v1h-1zM43.1 369.9h1v1h-1zM72.9 340.2h1v1h-1zM44.3 350.5h1v1h-1zM36.6 370.0h1v1h-1zM45.6 363.0h1v1h-1zM73.4 339.0h1v1h-1zM70.0 352.6h1v1h-1zM71.0 364.9h1v1h-1zM56.7 368.7h1v1h-1zM75.6 365.7h1v1h-1zM50.1 343.7h1v1h-1zM76.1 354.2h1v1h-1zM58.1 336.0h1v1h-1zM73.5 360.0h1v1h-1zM67.5 337.3h1v1h-1zM74.6 395.7h1v1h-1zM79.1 385.4h1v1h-1zM52.8 386.5h1v1h-1z" fill="rgb(60, 90, 165)" fill-opacity="0.5"/>
<path d="M61.9 345.8h1v1h-1zM56.0 359.5h1v1h-1zM60.8 357.8h1v1h-1zM60.4 354.0h1v1h-1zM56.0 353.0h1v1h-1zM63.2 359.0h1v1h-1zM58.7 357.6h1v1h-1zM57.0 356.7h1v1h-1zM62.6 353.0h1v1h-1zM66.8 354.1h1v1h-1zM63.5 348.7h1v1h-1zM60.4 347.5h1v1h-1z" fill="rgb(135, 165, 60)" fill-opacity="0.5"/>
<path d="M63.6 349.4h1v1h-1zM59.3 353.6h1v1h-1zM64.4 356.4h1v1h-1zM64.2 352.8h1v1h-1zM65.4 359.7h1v1h-1zM63.4 362.1h1v1h-1zM65.3 358.5h1v1h-1zM60.1 347.1h1v1h-1zM56.2 354.1h1v1h-1zM59.7 359.8h1v1h-1zM55.2 351.4h1v1h-1zM64.2 355.1h1v1h-1zM56.6 350.1h1v1h-1zM59.0 352.0h1v1h-1zM64.3 356.1h1v1h-1zM57.0 349.0h1v1h-1zM59.9 349.4h1v1h-1zM59.2 356.2h1v1h-1zM62.4 357.8h1v1h-1zM58.5 350.2h1v1h-1zM55.0 354.7h1v1h-1zM61.8 356.2h1v1h-1zM64.3 354.5h1v1h-1zM60.9 350.2h1v1h-1zM63.3 354.1h1v1h-1z" fill="rgb(165, 180, 45)" fill-opacity="0.5"/>
<path d="M67.2 342.6h1v1h-1zM59.6 360.4h1v1h-1zM61.0 346.8h1v1h-1zM66.7 364.0h1v1h-1zM64.9 360.3h1v1h-1zM65.9 356.1h1v1h-1zM54.3 353.4h1v1h-1zM46.6 360.5h1v1h-1zM52.4 355.2h1v1h-1zM66.2 356.2h1v1h-1zM66.7 353.3h1v1h-1zM67.6 349.7h1v1h-1zM56.0 356.3h1v1h-1zM51.8 340.8h1v1h-1zM52.9 347.5h1v1h-1zM69.8 358.7h1v1h-1zM69.5 349.0h1v1h-1zM55.0 349.0h1v1h-1zM72.1 350.1h1v1h-1zM69.8 356.1h1v1h-1zM57.3 345.6h1v1h-1zM64.5 360.7h1v1h-1zM61.2 344.9h1v1h-1zM54.6 345.2h1v1h-1zM55.9 348.6h1v1h-1zM70.0 355.9h1v1h-1zM66.7 343.5h1v1h-1zM71.0 355.5h1v1h-1zM52.7 357.8h1v1h-1zM64.5 348.3h1v1h-1zM60.6 364.5h1v1h-1zM53.7 359.6h1v1h-1zM52.1 353.2h1v1h-1zM54.1 347.8h1v1h-1zM49.4 349.1h1v1h-1zM53.3 350.8h1v1h-1zM50.1 362.3h1v1h-1zM64.6 349.2h1v1h-1zM76.6 360.2h1v1h-1zM52.6 354.0h1v1h-1z" fill="rgb(45, 105, 150)" fill-opacity="0.5"/>
<path d="M68.7 354.2h1v1h-1zM60.9 359.2h1v1h-1zM60.4 349.8h1v1h-1zM59.1 352.0h1v1h-1zM63.0 351.3h1v1h-1zM61.3 355.6h1v1h-1zM62.5 355.6h1v1h-1zM58.6 358.6h1v1h-1zM64.3 353.0h1v1h-1zM60.8 354.3h1v1h-1zM66.7 354.6h1v1h-1zM56.6 358.1h1v1h-1zM61.8 361.0h1v1h-1zM64.9 359.9h1v1h-1zM57.3 353.0h1v1h-1zM62.3 355.5h1v1h-1zM64.9 355.2h1v1h-1zM64.6 349.2h1v1h-1zM53.2 353.1h1v1h-1zM64.5 350.5h1v1h-1zM64.3 352.3h1v1h-1zM58.4 350.7h1v1h-1zM58.9 351.1h1v1h-1z" fill="rgb(150, 165, 45)" fill-opacity="0.5"/>
<path d="M55.2 358.0h1v1h-1zM51.9 353.9h1v1h-1zM61.6 351.5h1v1h-1zM61.2 357.6h1v1h-1zM56.5 356.6h1v1h-1zM60.6 358.6h1v1h-1zM55.5 352.3h1v1h-1zM55.4 351.9h1v1h-1zM64.7 347.6h1v1h-1zM67.8 353.9h1v1h-1zM72.2 354.5h1v1h-1z" fill="rgb(90, 150, 75)" fill-opacity="0.5"/>
<path d="M68.5 346.6h1v1h-1zM46.4 362.9h1v1h-1zM56.3 341.8h1v1h-1zM75.4 342.9h1v1h-1zM56.3 345.2h1v1h-1zM55.7 345.5h1v1h-1zM55.3 365.0h1v1h-1zM71.1 346.3h1v1h-1zM47.0 348.4h1v1h-1zM65.6 370.6h1v1h-1zM73.4 354.3h1v1h-1zM78.7 349.8h1v1h-1zM76.9 354.5h1v1h-1zM44.4 353.8h1v1h-1zM60.3 338.9h1v1h-1zM69.0 364.0h1v1h-1zM72.8 352.4h1v1h-1zM51.0 347.1h1v1h-1zM46.7 350.9h1v1h-1zM52.4 345.7h1v1h-1zM74.8 352.3h1v1h-1zM48.4 346.0h1v1h-1zM67.2 341.9h1v1h-1zM77.5 357.2h1v1h-1zM74.9 362.3h1v1h-1zM56.0 363.0h1v1h-1zM54.8 360.6h1v1h-1zM51.4 357.2h1v1h-1zM46.8 370.0h1v1h-1zM45.0 355.9h1v1h-1zM36.0 357.0h1v1h-1zM41.8 348.8h1v1h-1zM46.9 343.3h1v1h-1zM37.1 352.8h1v1h-1zM48.9 352.4h1v1h-1zM48.8 348.8h1v1h-1zM43.7 354.5h1v1h-1zM36.7 365.3h1v1h-1zM47.0 358.8h1v1h-1zM40.9 355.0h1v1h-1zM43.5 359.1h1v1h-1zM46.0 345.9h1v1h-1zM42.0 354.7h1v1h-1zM46.7 351.1h1v1h-1zM44.3 356.9h1v1h-1zM43.9 362.1h1v1h-1zM53.1 336.9h1v1h-1zM40.2 355.5h1v1h-1zM66.2 345.9h1v1h-1zM71.0 339.3h1v1h-1zM39.2 365.4h1v1h-1zM38.3 360.5h1v1h-1zM72.1 356.0h1v1h-1zM72.4 364.9h1v1h-1zM44.5 337.9h1v1h-1zM48.4 343.6h1v1h-1zM68.9 370.2h1v1h-1zM38.4 361.0h1v1h-1zM48.3 344.4h1v1h-1zM52.4 337.2h1v1h-1zM37.3 350.2h1v1h-1zM74.7 336.4h1v1h-1zM71.5 364.3h1v1h-1zM76.4 355.1h1v1h-1zM45.7 343.1h1v1h-1z" fill="rgb(75, 90, 180)" fill-opacity="0.5"/>
<path d="M59.9 355.2h1v1h-1zM61.0 359.0h1v1h-1zM57.2 349.8h1v1h-1zM60.5 355.2h1v1h-1zM67.9 356.3h1v1h-1zM61.1 358.7h1v1h-1zM70.2 356.1h1v1h-1zM66.5 357.7h1v1h-1zM65.8 350.2h1v1h-1zM57.9 350.0h1v1h-1zM55.7 351.8h1v1h-1zM69.2 359.5h1v1h-1zM60.9 355.8h1v1h-1zM58.9 346.2h1v1h-1zM63.4 348.6h1v1h-1zM65.4 351.7h1v1h-1zM60.6 351.9h1v1h-1zM58.2 353.5h1v1h-1zM54.3 361.6h1v1h-1zM55.4 352.6h1v1h-1z" fill="rgb(90, 135, 75)" fill-opacity="0.5"/>
<path d="M54.1 358.3h1v1h-1zM64.1 360.6h1v1h-1zM68.3 354.0h1v1h-1zM51.8 353.9h1v1h-1zM60.7 348.6h1v1h-1zM57.4 363.9h1v1h-1zM63.2 355.6h1v1h-1zM71.6 354.7h1v1h-1zM54.6 351.8h1v1h-1zM63.2 346.6h1v1h-1zM56.9 350.2h1v1h-1zM57.7 360.0h1v1h-1zM58.6 363.8h1v1h-1zM63.4 344.2h1v1h-1zM50.5 353.3h1v1h-1zM54.9 355.0h1v1h-1zM58.6 357.0h1v1h-1zM62.9 360.5h1v1h-1zM53.6 344.8h1v1h-1zM58.5 360.2h1v1h-1zM64.6 346.3h1v1h-1zM60.1 348.8h1v1h-1zM52.3 354.3h1v1h-1zM55.1 358.2h1v1h-1z" fill="rgb(45, 120, 120)" fill-opacity="0.5"/>
<path d="M65.2 359.7h1v1h-1zM53.5 351.7h1v1h-1zM69.2 354.8h1v1h-1zM54.3 355.0h1v1h-1zM57.1 355.1h1v1h-1zM58.6 354.2h1v1h-1zM57.5 354.5h1v1h-1zM61.2 355.8h1v1h-1zM66.1 353.0h1v1h-1zM64.9 356.7h1v1h-1zM63.9 349.4h1v1h-1zM62.0 350.4h1v1h-1zM60.8 357.2h1v1h-1zM59.8 350.0h1v1h-1zM61.1 355.5h1v1h-1zM64.7 356.1h1v1h-1z" fill="rgb(120, 150, 60)" fill-opacity="0.5"/>
<path d="M54.7 348.7h1v1h-1zM63.3 349.9h1v1h-1z" fill="rgb(60, 135, 105)" fill-opacity="0.5"/>
<path d="M55.9 357.6h1v1h-1zM55.4 355.6h1v1h-1zM67.3 356.3h1v1h-1zM64.5 348.9h1v1h-1zM61.8 354.9h1v1h-1zM61.3 354.3h1v1h-1zM57.7 356.1h1v1h-1z" fill="rgb(75, 135, 105)" fill-opacity="0.5"/>
<path d="M219.2 397.5h1v1h-1zM219.0 397.8h1v1h-1zM218.6 396.2h1v1h-1zM219.1 397.0h1v1h-1zM219.9 396.0h1v1h-1zM219.8 395.0h1v1h-1zM219.9 393.8h1v1h-1zM219.9 393.8h1v1h-1zM220.2 394.8h1v1h-1zM218.2 399.2h1v1h-1zM217.5 397.4h1v1h-1zM217.9 397.8h1v1h-1zM217.7 398.3h1v1h-1zM218.0 398.6h1v1h-1zM217.6 398.9h1v1h-1zM218.0 397.6h1v1h-1zM218.5 397.5h1v1h-1zM217.7 396.9h1v1h-1zM218.8 395.5h1v1h-1zM218.9 395.2h1v1h-1zM219.7 395.9h1v1h-1zM218.0 398.0h1v1h-1zM217.8 396.8h1v1h-1zM218.9 395.5h1v1h-1zM218.6 395.4h1v1h-1zM220.2 397.1h1v1h-1zM219.9 393.8h1v1h-1zM218.0 398.8h1v1h-1zM217.9 398.0h1v1h-1zM219.6 394.8h1v1h-1zM218.1 398.9h1v1h-1zM219.5 396.9h1v1h-1zM217.8 399.1h1v1h-1zM217.8 396.9h1v1h-1zM217.9 397.3h1v1h-1zM219.0 396.1h1v1h-1zM219.6 397.3h1v1h-1zM219.6 397.3h1v1h-1zM218.2 397.0h1v1h-1zM219.2 397.0h1v1h-1zM219.3 398.0h1v1h-1zM220.0 394.7h1v1h-1zM218.3 394.5h1v1h-1zM218.9 395.9h1v1h-1zM219.2 396.5h1v1h-1zM219.3 398.2h1v1h-1zM217.4 397.8h1v1h-1zM220.1 393.7h1v1h-1zM220.0 394.0h1v1h-1zM219.0 395.1h1v1h-1zM218.9 397.8h1v1h-1zM218.4 397.1h1v1h-1zM219.3 395.4h1v1h-1zM219.9 395.2h1v1h-1zM219.7 397.0h1v1h-1zM218.1 398.7h1v1h-1zM218.9 396.3h1v1h-1zM218.3 396.8h1v1h-1zM219.9 393.6h1v1h-1zM219.7 396.2h1v1h-1zM217.6 397.0h1v1h-1zM218.1 399.1h1v1h-1zM217.3 399.1h1v1h-1zM218.0 399.4h1v1h-1zM219.2 394.6h1v1h-1zM217.6 398.4h1v1h-1zM217.7 398.3h1v1h-1zM220.2 395.0h1v1h-1zM220.0 393.7h1v1h-1zM218.6 395.3h1v1h-1zM219.0 394.8h1v1h-1zM220.2 396.4h1v1h-1zM217.7 398.9h1v1h-1zM219.2 398.0h1v1h-1zM219.0 397.5h1v1h-1zM219.0 397.1h1v1h-1zM219.7 394.6h1v1h-1zM219.3 397.2h1v1h-1zM220.2 397.5h1v1h-1zM220.1 393.8h1v1h-1zM217.3 399.4h1v1h-1zM219.6 393.9h1v1h-1zM218.4 395.6h1v1h-1zM220.1 396.0h1v1h-1zM217.7 398.1h1v1h-1zM219.7 394.9h1v1h-1zM219.9 394.8h1v1h-1zM219.1 397.3h1v1h-1zM219.7 396.2h1v1h-1zM218.7 397.4h1v1h-1zM218.2 397.7h1v1h-1zM218.6 396.8h1v1h-1zM219.3 396.2h1v1h-1zM219.0 396.0h1v1h-1zM218.7 396.6h1v1h-1zM219.7 394.5h1v1h-1zM220.3 394.5h1v1h-1zM219.2 395.8h1v1h-1zM218.2 398.8h1v1h-1zM218.4 395.7h1v1h-1zM218.7 396.1h1v1h-1zM220.2 394.0h1v1h-1zM217.5 399.2h1v1h-1zM219.1 394.8h1v1h-1zM218.5 395.9h1v1h-1zM219.0 395.3h1v1h-1zM217.9 396.7h1v1h-1zM218.9 395.0h1v1h-1zM219.6 397.4h1v1h-1zM219.6 395.2h1v1h-1zM219.3 396.2h1v1h-1zM218.3 396.9h1v1h-1zM219.9 394.6h1v1h-1zM219.1 398.3h1v1h-1zM217.7 398.9h1v1h-1zM220.1 395.3h1v1h-1zM219.1 394.8h1v1h-1zM219.7 395.9h1v1h-1zM218.4 395.3h1v1h-1zM217.6 398.0h1v1h-1zM217.3 398.5h1v1h-1zM220.2 396.6h1v1h-1zM217.4 397.1h1v1h-1zM217.8 398.8h1v1h-1zM217.5 397.0h1v1h-1zM220.3 393.7h1v1h-1zM219.2 396.5h1v1h-1zM219.0 396.3h1v1h-1zM218.6 397.9h1v1h-1zM219.0 397.1h1v1h-1zM217.7 397.7h1v1h-1zM217.9 396.9h1v1h-1zM219.9 396.3h1v1h-1zM219.6 394.3h1v1h-1zM217.6 399.2h1v1h-1zM219.1 397.3h1v1h-1zM219.2 394.6h1v1h-1zM219.9 396.9h1v1h-1zM219.1 398.4h1v1h-1zM218.1 398.0h1v1h-1zM218.5 394.9h1v1h-1zM220.2 395.9h1v1h-1zM218.0 398.9h1v1h-1zM218.5 396.3h1v1h-1zM219.6 394.0h1v1h-1zM219.1 395.0h1v1h-1zM218.1 398.0h1v1h-1zM219.5 395.4h1v1h-1zM219.4 395.6h1v1h-1zM220.2 393.7h1v1h-1z" fill="rgb(216, 36, 24)" fill-opacity="0.55"/>
<path d="M219.9 400.0h1v1h-1zM219.9 399.8h1v1h-1zM219.9 399.8h1v1h-1zM219.7 399.7h1v1h-1zM219.9 399.8h1v1h-1zM220.2 399.8h1v1h-1zM219.3 399.6h1v1h-1zM220.1 399.9h1v1h-1z" fill="rgb(144, 204, 48)" fill-opacity="0.55"/>
<path d="M216.6 399.7h1v1h-1zM217.2 399.9h1v1h-1zM216.8 397.4h1v1h-1zM216.4 399.6h1v1h-1zM216.9 397.5h1v1h-1zM220.9 397.0h1v1h-1zM217.1 400.3h1v1h-1zM216.7 400.3h1v1h-1zM218.4 393.5h1v1h-1zM216.7 400.0h1v1h-1zM220.3 397.3h1v1h-1zM217.3 399.9h1v1h-1zM219.0 392.8h1v1h-1zM220.5 397.4h1v1h-1zM218.8 393.2h1v1h-1zM218.3 392.5h1v1h-1zM216.8 399.8h1v1h-1zM216.5 400.0h1v1h-1zM217.2 400.0h1v1h-1zM216.8 396.7h1v1h-1zM216.9 399.8h1v1h-1zM220.9 397.5h1v1h-1zM218.9 393.1h1v1h-1zM218.7 392.8h1v1h-1zM219.2 392.9h1v1h-1zM219.3 392.8h1v1h-1zM218.6 393.0h1v1h-1zM218.4 392.6h1v1h-1zM218.6 393.0h1v1h-1zM218.7 393.3h1v1h-1zM217.1 396.7h1v1h-1zM218.6 393.1h1v1h-1zM218.6 393.3h1v1h-1zM218.4 393.1h1v1h-1z" fill="rgb(228, 168, 24)" fill-opacity="0.55"/>
<path d="M220.4 395.7h1v1h-1zM219.5 397.6h1v1h-1zM220.8 395.5h1v1h-1zM220.7 396.0h1v1h-1zM217.8 395.5h1v1h-1zM221.2 396.3h1v1h-1zM221.0 396.1h1v1h-1zM219.6 397.6h1v1h-1zM219.7 397.7h1v1h-1zM218.3 394.9h1v1h-1zM220.1 397.5h1v1h-1zM217.9 394.7h1v1h-1zM220.5 396.3h1v1h-1zM217.8 395.4h1v1h-1zM219.7 398.3h1v1h-1zM217.4 395.3h1v1h-1zM217.7 394.8h1v1h-1zM219.3 398.2h1v1h-1zM220.7 395.5h1v1h-1zM219.8 398.2h1v1h-1zM221.1 395.6h1v1h-1zM218.2 394.9h1v1h-1zM217.8 394.6h1v1h-1zM219.5 398.3h1v1h-1zM220.5 396.4h1v1h-1zM217.7 395.1h1v1h-1zM220.4 395.7h1v1h-1zM217.8 394.7h1v1h-1zM218.1 394.5h1v1h-1z" fill="rgb(228, 108, 24)" fill-opacity="0.55"/>
<path d="M219.8 398.9h1v1h-1zM219.5 399.4h1v1h-1zM218.3 394.4h1v1h-1zM220.1 398.8h1v1h-1zM220.2 399.2h1v1h-1zM219.8 398.8h1v1h-1zM217.7 394.2h1v1h-1zM219.5 398.7h1v1h-1zM219.9 399.2h1v1h-1zM219.8 398.7h1v1h-1zM220.1 399.1h1v1h-1zM220.2 399.1h1v1h-1zM218.1 393.8h1v1h-1z" fill="rgb(216, 180, 24)" fill-opacity="0.55"/>
<path d="M219.4 402.7h1v1h-1zM225.0 391.0h1v1h-1zM217.9 404.8h1v1h-1zM220.1 403.2h1v1h-1zM214.7 404.1h1v1h-1zM222.9 375.3h1v1h-1zM224.9 395.0h1v1h-1zM226.8 375.4h1v1h-1zM224.7 393.5h1v1h-1zM223.2 376.1h1v1h-1zM221.1 378.0h1v1h-1zM214.2 388.6h1v1h-1zM214.6 388.9h1v1h-1zM220.6 378.7h1v1h-1zM228.7 378.5h1v1h-1zM227.4 379.6h1v1h-1zM228.3 378.0h1v1h-1zM224.8 387.2h1v1h-1zM222.0 375.7h1v1h-1zM224.4 388.0h1v1h-1zM228.5 380.2h1v1h-1zM227.3 375.9h1v1h-1zM227.1 382.1h1v1h-1zM224.3 386.9h1v1h-1zM224.7 388.9h1v1h-1zM229.0 379.2h1v1h-1zM226.3 384.9h1v1h-1zM222.8 377.6h1v1h-1zM225.3 387.4h1v1h-1zM224.7 389.9h1v1h-1zM222.1 377.3h1v1h-1zM226.7 382.9h1v1h-1zM223.1 377.9h1v1h-1zM214.8 390.3h1v1h-1zM224.8 392.5h1v1h-1zM222.3 377.7h1v1h-1zM224.7 388.0h1v1h-1zM229.4 376.7h1v1h-1zM215.9 387.2h1v1h-1zM228.0 382.5h1v1h-1zM221.8 379.3h1v1h-1zM228.8 379.2h1v1h-1zM221.9 377.1h1v1h-1zM227.8 375.8h1v1h-1zM225.1 388.2h1v1h-1zM223.2 376.4h1v1h-1zM225.8 383.8h1v1h-1zM229.2 378.1h1v1h-1zM229.1 376.7h1v1h-1zM229.4 376.9h1v1h-1zM214.6 386.6h1v1h-1zM224.4 388.7h1v1h-1zM224.7 391.8h1v1h-1zM224.4 374.4h1v1h-1zM222.0 373.3h1v1h-1zM226.1 387.0h1v1h-1zM228.2 376.3h1v1h-1zM220.9 378.2h1v1h-1zM225.2 388.3h1v1h-1zM228.3 380.1h1v1h-1zM224.9 387.5h1v1h-1zM227.6 375.9h1v1h-1zM229.2 378.1h1v1h-1zM224.9 392.8h1v1h-1zM225.4 384.7h1v1h-1zM225.2 394.5h1v1h-1zM225.1 393.3h1v1h-1zM223.3 374.1h1v1h-1zM228.7 376.4h1v1h-1zM222.7 373.6h1v1h-1zM220.0 380.6h1v1h-1zM219.4 380.2h1v1h-1zM223.9 373.6h1v1h-1zM224.8 370.6h1v1h-1zM225.1 371.8h1v1h-1zM223.1 373.4h1v1h-1zM225.2 371.3h1v1h-1zM225.3 370.7h1v1h-1zM222.5 372.2h1v1h-1zM224.1 373.0h1v1h-1zM222.6 374.6h1v1h-1zM228.8 375.7h1v1h-1zM224.4 371.5h1v1h-1zM223.1 373.9h1v1h-1zM221.9 373.1h1v1h-1zM222.8 373.2h1v1h-1zM225.1 372.7h1v1h-1zM225.8 374.0h1v1h-1zM224.5 372.4h1v1h-1zM224.2 372.7h1v1h-1zM224.2 371.7h1v1h-1zM226.5 373.5h1v1h-1zM226.7 375.2h1v1h-1zM223.6 373.1h1v1h-1zM216.2 383.2h1v1h-1zM211.4 400.1h1v1h-1zM212.5 389.1h1v1h-1zM212.5 391.3h1v1h-1zM216.9 381.5h1v1h-1zM211.4 393.6h1v1h-1zM212.3 401.2h1v1h-1zM214.3 391.3h1v1h-1zM216.1 385.4h1v1h-1zM214.1 391.5h1v1h-1zM213.9 392.0h1v1h-1zM216.7 384.3h1v1h-1zM212.0 392.9h1v1h-1zM212.6 396.6h1v1h-1zM213.4 395.5h1v1h-1zM217.0 382.9h1v1h-1zM211.7 391.7h1v1h-1zM212.3 396.5h1v1h-1zM212.9 395.6h1v1h-1zM215.7 387.8h1v1h-1zM212.4 392.2h1v1h-1zM214.0 402.9h1v1h-1zM211.7 396.1h1v1h-1zM211.9 391.9h1v1h-1zM211.5 395.2h1v1h-1zM211.9 400.1h1v1h-1zM219.5 381.2h1v1h-1zM211.5 398.1h1v1h-1zM212.5 402.4h1v1h-1zM213.5 388.2h1v1h-1zM213.3 402.9h1v1h-1zM216.7 382.7h1v1h-1zM214.1 390.6h1v1h-1zM212.7 393.1h1v1h-1zM215.5 387.4h1v1h-1zM216.9 385.0h1v1h-1zM212.3 394.4h1v1h-1zM215.8 382.9h1v1h-1zM213.1 398.0h1v1h-1zM212.1 394.6h1v1h-1zM214.3 395.2h1v1h-1zM213.8 394.9h1v1h-1zM214.3 391.9h1v1h-1zM212.1 393.3h1v1h-1zM215.2 389.3h1v1h-1zM213.1 397.2h1v1h-1zM218.1 381.5h1v1h-1zM210.3 394.5h1v1h-1zM212.2 399.4h1v1h-1zM213.1 401.9h1v1h-1zM216.3 388.4h1v1h-1zM220.2 381.3h1v1h-1zM212.6 394.1h1v1h-1zM211.6 393.2h1v1h-1zM217.1 383.5h1v1h-1zM214.2 392.9h1v1h-1zM215.1 390.2h1v1h-1zM214.2 392.4h1v1h-1zM216.9 384.8h1v1h-1zM211.2 395.3h1v1h-1zM218.1 382.4h1v1h-1zM217.0 384.5h1v1h-1zM225.7 387.1h1v1h-1z" fill="rgb(48, 108, 180)" fill-opacity="0.55"/>
<path d="M222.1 397.9h1v1h-1zM219.1 402.5h1v1h-1zM219.0 401.5h1v1h-1zM215.8 401.6h1v1h-1zM221.7 398.4h1v1h-1zM216.0 401.8h1v1h-1zM219.1 401.8h1v1h-1zM215.7 402.4h1v1h-1zM215.1 399.8h1v1h-1zM218.6 402.0h1v1h-1zM222.2 389.0h1v1h-1zM221.6 398.4h1v1h-1zM215.7 402.4h1v1h-1zM215.6 401.6h1v1h-1zM215.1 400.3h1v1h-1zM221.7 397.8h1v1h-1zM218.9 402.5h1v1h-1zM219.1 402.2h1v1h-1zM215.4 401.9h1v1h-1zM215.9 401.9h1v1h-1zM218.8 402.2h1v1h-1zM221.9 388.9h1v1h-1zM216.5 391.8h1v1h-1zM222.9 391.3h1v1h-1zM216.9 392.3h1v1h-1zM221.7 388.9h1v1h-1zM219.4 389.4h1v1h-1zM222.2 389.5h1v1h-1zM219.2 390.2h1v1h-1zM221.5 388.9h1v1h-1zM216.7 391.7h1v1h-1zM216.5 391.6h1v1h-1zM220.2 389.4h1v1h-1zM220.1 388.8h1v1h-1zM215.9 401.6h1v1h-1zM215.5 401.6h1v1h-1zM218.6 390.2h1v1h-1zM217.2 391.5h1v1h-1zM216.4 392.1h1v1h-1zM219.3 389.0h1v1h-1zM217.0 391.7h1v1h-1zM215.7 402.2h1v1h-1z" fill="rgb(48, 168, 132)" fill-opacity="0.55"/>
<path d="M221.0 397.7h1v1h-1zM221.3 398.4h1v1h-1zM217.2 400.8h1v1h-1zM216.5 401.0h1v1h-1zM217.2 400.8h1v1h-1zM216.5 401.0h1v1h-1zM220.9 397.7h1v1h-1zM221.0 397.5h1v1h-1zM220.3 398.0h1v1h-1zM221.0 397.8h1v1h-1zM216.7 401.3h1v1h-1zM220.8 397.8h1v1h-1zM216.8 400.8h1v1h-1zM216.6 401.4h1v1h-1zM221.0 398.2h1v1h-1zM216.7 401.2h1v1h-1zM220.7 397.8h1v1h-1z" fill="rgb(180, 204, 36)" fill-opacity="0.55"/>
<path d="M217.2 394.2h1v1h-1zM219.7 390.8h1v1h-1zM220.2 391.1h1v1h-1zM217.1 393.9h1v1h-1zM220.1 391.1h1v1h-1zM220.2 390.9h1v1h-1zM219.7 390.9h1v1h-1zM219.9 390.5h1v1h-1z" fill="rgb(108, 192, 72)" fill-opacity="0.55"/>
<path d="M221.2 398.8h1v1h-1zM215.4 400.5h1v1h-1zM220.9 399.1h1v1h-1zM216.2 400.9h1v1h-1zM220.8 398.6h1v1h-1zM217.8 392.0h1v1h-1zM218.2 392.0h1v1h-1zM218.2 392.4h1v1h-1zM218.0 392.2h1v1h-1zM215.8 401.4h1v1h-1zM215.9 400.9h1v1h-1zM215.7 401.0h1v1h-1zM217.9 392.2h1v1h-1zM217.3 392.4h1v1h-1z" fill="rgb(84, 192, 84)" fill-opacity="0.55"/>
<path d="M215.4 406.9h1v1h-1zM230.5 382.5h1v1h-1zM227.7 388.1h1v1h-1zM231.5 382.6h1v1h-1zM228.4 390.1h1v1h-1zM229.5 384.0h1v1h-1zM228.8 385.2h1v1h-1zM227.9 394.1h1v1h-1zM228.6 390.5h1v1h-1zM230.4 381.7h1v1h-1zM232.1 359.5h1v1h-1zM227.9 367.5h1v1h-1zM228.3 350.4h1v1h-1zM228.4 355.2h1v1h-1zM223.0 356.2h1v1h-1zM228.8 371.8h1v1h-1zM220.9 368.6h1v1h-1zM221.8 362.7h1v1h-1zM219.2 367.4h1v1h-1zM220.6 360.4h1v1h-1zM229.3 361.4h1v1h-1zM228.4 365.0h1v1h-1zM230.5 355.8h1v1h-1zM218.7 357.0h1v1h-1zM221.5 353.0h1v1h-1zM228.6 362.3h1v1h-1zM230.7 374.4h1v1h-1zM222.5 351.8h1v1h-1zM206.7 402.7h1v1h-1zM204.2 397.5h1v1h-1zM209.3 382.7h1v1h-1zM196.1 397.8h1v1h-1zM205.5 393.4h1v1h-1zM203.8 400.8h1v1h-1zM211.1 381.8h1v1h-1zM202.2 400.0h1v1h-1zM202.4 392.9h1v1h-1zM206.7 392.9h1v1h-1zM206.5 391.8h1v1h-1zM201.9 401.6h1v1h-1zM202.1 399.8h1v1h-1zM206.0 396.8h1v1h-1zM201.6 396.1h1v1h-1zM204.8 400.2h1v1h-1zM209.1 383.9h1v1h-1zM207.1 383.5h1v1h-1zM210.3 385.1h1v1h-1zM203.0 402.1h1v1h-1zM206.8 386.8h1v1h-1zM205.3 395.4h1v1h-1zM204.2 398.8h1v1h-1zM205.2 387.3h1v1h-1zM206.5 390.8h1v1h-1zM206.8 397.4h1v1h-1zM203.9 402.7h1v1h-1zM210.9 385.4h1v1h-1zM223.8 350.4h1v1h-1zM200.6 369.3h1v1h-1zM199.1 375.4h1v1h-1zM229.9 398.3h1v1h-1zM216.9 378.5h1v1h-1zM202.3 367.3h1v1h-1zM204.1 360.6h1v1h-1zM218.7 367.5h1v1h-1zM219.4 362.9h1v1h-1zM201.2 366.2h1v1h-1zM223.8 350.9h1v1h-1zM213.6 375.7h1v1h-1zM214.9 364.0h1v1h-1zM217.8 364.0h1v1h-1zM203.6 362.5h1v1h-1zM229.1 369.6h1v1h-1zM228.6 389.7h1v1h-1zM205.9 379.9h1v1h-1zM196.3 400.4h1v1h-1zM219.3 356.1h1v1h-1zM215.2 376.7h1v1h-1zM220.8 365.6h1v1h-1zM229.7 383.6h1v1h-1zM198.7 394.2h1v1h-1zM228.7 366.4h1v1h-1z" fill="rgb(60, 96, 180)" fill-opacity="0.55"/>
<path d="M220.8 394.2h1v1h-1zM221.2 394.3h1v1h-1zM220.5 394.1h1v1h-1zM220.8 393.6h1v1h-1zM220.9 393.7h1v1h-1zM220.6 393.9h1v1h-1zM221.1 394.1h1v1h-1zM220.4 394.2h1v1h-1zM220.5 394.2h1v1h-1zM220.3 393.5h1v1h-1zM221.1 393.5h1v1h-1zM220.4 394.1h1v1h-1z" fill="rgb(228, 96, 24)" fill-opacity="0.55"/>
<path d="M221.3 397.2h1v1h-1zM221.9 397.5h1v1h-1zM221.6 396.5h1v1h-1zM222.3 397.2h1v1h-1zM221.6 397.2h1v1h-1zM221.9 396.8h1v1h-1zM222.1 397.5h1v1h-1zM221.5 397.4h1v1h-1zM222.1 396.6h1v1h-1z" fill="rgb(84, 192, 72)" fill-opacity="0.55"/>
<path d="M216.7 394.7h1v1h-1zM216.0 398.7h1v1h-1zM215.4 398.6h1v1h-1zM216.0 398.9h1v1h-1zM215.9 399.2h1v1h-1zM216.2 399.5h1v1h-1zM216.0 399.2h1v1h-1zM217.6 392.6h1v1h-1zM217.7 393.3h1v1h-1zM216.7 395.3h1v1h-1zM216.0 398.6h1v1h-1zM217.0 395.2h1v1h-1zM217.0 395.1h1v1h-1zM217.2 394.9h1v1h-1zM217.3 392.9h1v1h-1zM215.6 399.3h1v1h-1zM217.1 394.9h1v1h-1zM216.6 395.1h1v1h-1zM217.2 395.2h1v1h-1zM216.3 394.8h1v1h-1zM217.7 392.6h1v1h-1zM216.8 395.3h1v1h-1zM216.4 394.5h1v1h-1zM217.7 393.2h1v1h-1zM217.3 392.5h1v1h-1zM217.4 392.9h1v1h-1z" fill="rgb(168, 204, 48)" fill-opacity="0.55"/>
<path d="M219.1 399.9h1v1h-1zM219.2 399.9h1v1h-1zM220.4 393.4h1v1h-1zM219.1 400.1h1v1h-1zM218.8 399.6h1v1h-1zM218.4 399.7h1v1h-1zM219.0 399.9h1v1h-1zM218.4 400.1h1v1h-1zM220.5 393.3h1v1h-1zM220.8 393.3h1v1h-1zM218.5 400.4h1v1h-1zM220.5 393.2h1v1h-1zM219.0 399.9h1v1h-1zM220.7 393.5h1v1h-1zM220.9 393.3h1v1h-1zM220.5 392.6h1v1h-1zM220.6 393.0h1v1h-1z" fill="rgb(228, 156, 24)" fill-opacity="0.55"/>
<path d="M217.8 399.7h1v1h-1zM217.5 399.8h1v1h-1zM218.1 400.4h1v1h-1zM217.7 399.8h1v1h-1zM218.0 399.5h1v1h-1zM217.3 400.5h1v1h-1zM217.6 399.7h1v1h-1zM217.3 400.4h1v1h-1zM218.3 400.2h1v1h-1zM217.8 400.0h1v1h-1zM217.6 400.3h1v1h-1zM217.6 400.4h1v1h-1zM217.4 400.2h1v1h-1zM217.8 400.3h1v1h-1zM217.7 399.7h1v1h-1zM217.8 400.5h1v1h-1zM217.9 400.0h1v1h-1z" fill="rgb(228, 120, 24)" fill-opacity="0.55"/>
<path d="M222.7 396.6h1v1h-1zM217.1 403.3h1v1h-1zM217.4 403.2h1v1h-1zM217.5 403.2h1v1h-1zM216.4 402.8h1v1h-1zM219.5 401.6h1v1h-1zM222.4 397.1h1v1h-1zM216.2 403.3h1v1h-1zM217.7 402.6h1v1h-1zM217.6 402.6h1v1h-1zM215.0 401.6h1v1h-1zM222.1 385.7h1v1h-1zM217.5 402.9h1v1h-1zM218.1 403.1h1v1h-1zM217.9 403.1h1v1h-1zM223.1 396.9h1v1h-1zM216.5 402.6h1v1h-1zM221.6 399.2h1v1h-1zM219.9 402.3h1v1h-1zM216.9 403.2h1v1h-1zM222.4 389.0h1v1h-1zM220.3 383.3h1v1h-1zM221.8 382.6h1v1h-1zM219.3 384.9h1v1h-1zM223.1 387.2h1v1h-1zM219.5 383.4h1v1h-1zM222.0 382.0h1v1h-1zM223.1 387.7h1v1h-1zM222.3 382.5h1v1h-1zM219.6 382.5h1v1h-1zM218.7 386.0h1v1h-1zM219.6 383.4h1v1h-1zM222.2 383.4h1v1h-1zM219.1 386.3h1v1h-1zM222.8 382.4h1v1h-1zM220.1 382.8h1v1h-1zM221.4 385.7h1v1h-1zM221.3 382.8h1v1h-1zM219.0 385.5h1v1h-1zM218.8 386.7h1v1h-1zM222.7 383.4h1v1h-1zM221.4 385.6h1v1h-1zM221.8 383.2h1v1h-1zM222.1 383.3h1v1h-1zM222.5 382.0h1v1h-1zM222.2 387.1h1v1h-1zM223.9 391.6h1v1h-1zM222.0 385.7h1v1h-1zM216.9 390.3h1v1h-1zM222.8 383.5h1v1h-1zM218.4 384.2h1v1h-1zM218.6 385.2h1v1h-1zM221.5 384.3h1v1h-1zM217.9 388.8h1v1h-1zM220.9 382.9h1v1h-1zM223.2 381.6h1v1h-1zM222.2 387.2h1v1h-1zM223.2 384.0h1v1h-1zM222.4 382.6h1v1h-1zM219.0 388.4h1v1h-1zM221.8 383.1h1v1h-1zM220.5 382.9h1v1h-1zM222.0 382.2h1v1h-1zM221.5 383.6h1v1h-1zM215.3 402.4h1v1h-1zM221.4 385.8h1v1h-1zM219.6 382.8h1v1h-1zM215.6 391.6h1v1h-1zM217.4 389.0h1v1h-1zM219.1 387.1h1v1h-1zM213.4 398.7h1v1h-1zM215.0 401.6h1v1h-1zM221.6 384.2h1v1h-1zM215.9 392.5h1v1h-1zM217.1 390.4h1v1h-1zM218.5 384.2h1v1h-1zM213.8 398.8h1v1h-1zM214.8 402.2h1v1h-1zM218.9 387.1h1v1h-1zM219.3 387.7h1v1h-1zM221.5 381.7h1v1h-1zM221.9 381.9h1v1h-1zM218.5 384.8h1v1h-1zM219.0 383.9h1v1h-1zM218.1 388.8h1v1h-1zM221.6 382.4h1v1h-1zM218.8 386.1h1v1h-1zM215.3 402.0h1v1h-1zM222.7 381.5h1v1h-1z" fill="rgb(36, 144, 168)" fill-opacity="0.55"/>
<path d="M219.2 399.3h1v1h-1zM218.8 398.8h1v1h-1zM219.2 398.8h1v1h-1zM218.9 398.7h1v1h-1zM219.1 398.7h1v1h-1zM218.7 398.6h1v1h-1zM218.5 399.4h1v1h-1zM218.9 399.2h1v1h-1zM219.0 399.4h1v1h-1zM218.5 399.5h1v1h-1zM218.4 399.4h1v1h-1z" fill="rgb(228, 60, 24)" fill-opacity="0.55"/>
<path d="M222.0 394.0h1v1h-1zM222.0 393.5h1v1h-1zM221.3 394.5h1v1h-1zM216.6 396.2h1v1h-1zM221.8 394.0h1v1h-1zM221.8 394.2h1v1h-1zM217.1 395.8h1v1h-1zM221.9 394.3h1v1h-1zM221.3 393.7h1v1h-1zM221.4 393.5h1v1h-1zM217.1 395.7h1v1h-1zM216.7 396.0h1v1h-1zM222.0 393.8h1v1h-1zM217.0 395.6h1v1h-1z" fill="rgb(204, 192, 36)" fill-opacity="0.55"/>
<path d="M220.2 401.1h1v1h-1zM219.6 400.9h1v1h-1zM220.2 401.2h1v1h-1zM214.9 398.6h1v1h-1zM219.7 401.3h1v1h-1zM222.8 394.8h1v1h-1zM214.9 399.4h1v1h-1zM220.4 389.4h1v1h-1zM219.7 401.2h1v1h-1zM219.6 401.2h1v1h-1zM221.3 388.6h1v1h-1zM220.5 389.3h1v1h-1zM220.8 388.7h1v1h-1zM220.8 388.6h1v1h-1zM222.7 394.7h1v1h-1zM220.3 388.8h1v1h-1zM220.4 389.1h1v1h-1zM220.4 388.8h1v1h-1zM214.9 398.8h1v1h-1zM214.9 398.6h1v1h-1zM215.2 398.5h1v1h-1z" fill="rgb(60, 168, 120)" fill-opacity="0.55"/>
<path d="M220.6 391.9h1v1h-1zM221.7 393.0h1v1h-1zM217.6 401.4h1v1h-1zM221.3 394.9h1v1h-1zM221.4 394.6h1v1h-1zM221.0 392.2h1v1h-1zM222.2 394.9h1v1h-1zM222.2 393.4h1v1h-1zM221.5 395.3h1v1h-1zM218.0 400.7h1v1h-1zM222.3 393.3h1v1h-1zM217.7 401.3h1v1h-1zM222.2 392.5h1v1h-1zM222.0 393.4h1v1h-1zM217.8 401.3h1v1h-1zM218.0 400.7h1v1h-1zM219.8 392.4h1v1h-1zM220.2 392.3h1v1h-1zM220.8 392.0h1v1h-1zM222.2 395.4h1v1h-1zM221.3 392.8h1v1h-1zM222.3 392.9h1v1h-1zM220.3 391.8h1v1h-1zM220.2 391.5h1v1h-1zM221.8 392.8h1v1h-1z" fill="rgb(192, 204, 36)" fill-opacity="0.55"/>
<path d="M216.7 398.1h1v1h-1zM216.6 398.1h1v1h-1zM216.7 397.8h1v1h-1zM217.1 397.5h1v1h-1zM216.9 398.3h1v1h-1zM219.6 393.4h1v1h-1zM216.5 397.7h1v1h-1zM216.9 398.4h1v1h-1zM219.9 392.8h1v1h-1zM219.6 392.9h1v1h-1zM216.6 397.5h1v1h-1zM217.3 398.1h1v1h-1zM219.7 393.3h1v1h-1zM217.0 398.3h1v1h-1zM216.9 397.9h1v1h-1zM220.0 393.5h1v1h-1zM220.3 392.6h1v1h-1zM219.6 393.4h1v1h-1z" fill="rgb(240, 144, 24)" fill-opacity="0.55"/>
<path d="M221.8 395.6h1v1h-1zM222.0 396.3h1v1h-1zM218.7 392.4h1v1h-1zM221.5 396.0h1v1h-1zM222.0 396.1h1v1h-1zM221.5 395.8h1v1h-1zM218.8 392.3h1v1h-1zM221.6 396.2h1v1h-1zM222.0 395.9h1v1h-1zM219.0 392.3h1v1h-1zM219.1 392.3h1v1h-1zM219.1 392.3h1v1h-1z" fill="rgb(156, 204, 48)" fill-opacity="0.55"/>
<path d="M217.2 401.6h1v1h-1zM217.9 401.9h1v1h-1zM222.9 392.6h1v1h-1zM222.3 393.7h1v1h-1zM216.6 402.2h1v1h-1zM217.3 402.3h1v1h-1zM223.0 393.3h1v1h-1zM222.7 393.5h1v1h-1zM223.1 393.6h1v1h-1zM222.6 393.6h1v1h-1zM216.4 401.8h1v1h-1zM217.6 402.4h1v1h-1zM222.4 393.6h1v1h-1zM223.3 393.4h1v1h-1zM216.9 401.9h1v1h-1zM223.0 393.1h1v1h-1zM218.3 402.2h1v1h-1zM218.9 391.1h1v1h-1zM223.2 392.7h1v1h-1zM222.6 392.6h1v1h-1zM222.7 393.2h1v1h-1zM218.5 390.8h1v1h-1zM219.2 391.4h1v1h-1zM219.0 391.2h1v1h-1zM218.8 390.9h1v1h-1z" fill="rgb(72, 180, 96)" fill-opacity="0.55"/>
<path d="M221.1 390.8h1v1h-1zM220.9 391.2h1v1h-1zM220.5 390.8h1v1h-1zM220.3 391.3h1v1h-1zM220.7 391.2h1v1h-1zM220.5 390.6h1v1h-1zM221.2 390.7h1v1h-1zM221.2 390.7h1v1h-1z" fill="rgb(120, 192, 60)" fill-opacity="0.55"/>
<path d="M220.9 388.2h1v1h-1zM214.8 397.6h1v1h-1zM214.6 397.7h1v1h-1zM215.3 398.4h1v1h-1zM220.5 388.2h1v1h-1zM214.5 398.4h1v1h-1zM214.7 397.7h1v1h-1zM214.4 397.6h1v1h-1z" fill="rgb(48, 168, 144)" fill-opacity="0.55"/>
<path d="M222.3 390.2h1v1h-1zM222.7 389.6h1v1h-1zM216.1 394.4h1v1h-1zM223.1 390.0h1v1h-1zM221.4 387.9h1v1h-1zM220.5 386.6h1v1h-1zM219.8 388.2h1v1h-1zM222.6 389.8h1v1h-1zM219.7 388.1h1v1h-1zM219.3 387.6h1v1h-1zM220.6 386.8h1v1h-1zM222.4 390.2h1v1h-1zM223.3 389.6h1v1h-1zM221.4 388.3h1v1h-1zM220.7 386.7h1v1h-1zM221.4 387.8h1v1h-1zM221.6 387.5h1v1h-1zM223.0 390.3h1v1h-1zM222.0 388.5h1v1h-1zM221.0 386.7h1v1h-1zM220.5 387.4h1v1h-1zM220.3 387.1h1v1h-1zM220.8 386.6h1v1h-1zM216.3 393.7h1v1h-1zM220.3 386.9h1v1h-1zM219.8 388.2h1v1h-1z" fill="rgb(36, 156, 156)" fill-opacity="0.55"/>
<path d="M219.3 394.2h1v1h-1zM220.6 395.1h1v1h-1zM221.1 394.6h1v1h-1zM219.2 394.0h1v1h-1zM218.5 394.3h1v1h-1zM220.7 395.5h1v1h-1zM220.3 395.4h1v1h-1zM220.8 395.0h1v1h-1zM218.3 394.0h1v1h-1zM220.6 395.1h1v1h-1zM220.9 395.0h1v1h-1zM220.5 395.1h1v1h-1zM221.0 395.2h1v1h-1zM219.2 394.1h1v1h-1zM218.9 394.2h1v1h-1zM220.8 394.9h1v1h-1zM220.9 394.8h1v1h-1zM220.4 394.6h1v1h-1z" fill="rgb(228, 72, 24)" fill-opacity="0.55"/>
<path d="M221.7 399.7h1v1h-1zM221.7 399.7h1v1h-1zM214.9 402.5h1v1h-1zM227.8 376.9h1v1h-1zM223.3 379.5h1v1h-1zM223.9 376.7h1v1h-1zM224.3 376.8h1v1h-1zM227.4 379.3h1v1h-1zM224.5 381.8h1v1h-1zM223.8 375.7h1v1h-1zM220.8 381.5h1v1h-1zM226.6 375.8h1v1h-1zM226.5 376.5h1v1h-1zM225.8 380.6h1v1h-1zM224.6 375.4h1v1h-1zM223.9 378.7h1v1h-1zM222.9 380.0h1v1h-1zM224.6 381.7h1v1h-1zM217.0 386.9h1v1h-1zM227.9 379.1h1v1h-1zM225.0 376.8h1v1h-1zM224.9 383.0h1v1h-1zM227.3 379.9h1v1h-1zM226.9 379.6h1v1h-1zM223.9 378.6h1v1h-1zM227.2 379.9h1v1h-1zM226.5 379.6h1v1h-1zM224.0 379.2h1v1h-1zM223.4 376.3h1v1h-1zM225.5 376.5h1v1h-1zM226.2 381.2h1v1h-1zM224.9 375.0h1v1h-1zM225.5 375.7h1v1h-1zM226.5 375.5h1v1h-1zM225.3 375.0h1v1h-1zM227.8 377.1h1v1h-1zM225.8 376.0h1v1h-1zM226.0 376.2h1v1h-1zM224.1 377.2h1v1h-1zM224.5 376.0h1v1h-1zM225.7 381.0h1v1h-1zM222.5 379.8h1v1h-1zM224.0 375.8h1v1h-1zM222.5 380.1h1v1h-1zM225.1 382.0h1v1h-1zM222.4 379.8h1v1h-1zM225.2 381.6h1v1h-1zM227.6 377.4h1v1h-1zM227.8 379.4h1v1h-1zM223.5 378.9h1v1h-1zM225.9 381.3h1v1h-1zM224.0 377.4h1v1h-1zM225.1 374.9h1v1h-1zM216.9 387.1h1v1h-1zM217.2 388.2h1v1h-1zM213.5 402.3h1v1h-1zM214.0 402.2h1v1h-1zM214.4 392.2h1v1h-1zM213.6 402.4h1v1h-1zM215.0 392.5h1v1h-1zM214.3 392.3h1v1h-1zM217.6 382.7h1v1h-1zM217.0 388.4h1v1h-1zM214.6 391.1h1v1h-1zM216.9 387.2h1v1h-1zM215.6 389.2h1v1h-1zM218.7 381.5h1v1h-1zM219.1 382.0h1v1h-1zM214.3 397.5h1v1h-1zM216.5 387.6h1v1h-1zM216.4 387.8h1v1h-1zM216.4 387.1h1v1h-1zM215.2 391.4h1v1h-1zM214.2 402.1h1v1h-1zM227.3 377.4h1v1h-1z" fill="rgb(36, 120, 180)" fill-opacity="0.55"/>
<path d="M218.2 395.7h1v1h-1zM218.0 396.0h1v1h-1zM217.3 395.7h1v1h-1zM218.0 395.9h1v1h-1zM218.1 395.8h1v1h-1zM217.8 396.3h1v1h-1zM217.9 396.2h1v1h-1zM217.6 395.8h1v1h-1zM217.7 395.6h1v1h-1zM217.9 396.1h1v1h-1zM218.1 396.2h1v1h-1zM217.5 395.9h1v1h-1zM217.8 395.6h1v1h-1z" fill="rgb(216, 48, 24)" fill-opacity="0.55"/>
<path d="M223.6 391.5h1v1h-1zM223.7 390.5h1v1h-1zM219.2 402.6h1v1h-1zM223.5 390.6h1v1h-1zM214.2 398.2h1v1h-1zM218.9 403.4h1v1h-1zM224.1 391.0h1v1h-1zM216.3 389.0h1v1h-1zM223.9 382.7h1v1h-1zM224.0 391.0h1v1h-1zM220.6 382.0h1v1h-1zM223.1 384.5h1v1h-1zM226.6 377.5h1v1h-1zM223.2 385.3h1v1h-1zM225.9 379.4h1v1h-1zM222.9 385.8h1v1h-1zM223.8 380.8h1v1h-1zM222.3 381.3h1v1h-1zM226.7 378.0h1v1h-1zM225.4 378.3h1v1h-1zM225.7 377.8h1v1h-1zM223.2 380.6h1v1h-1zM226.7 378.5h1v1h-1zM224.1 383.3h1v1h-1zM216.3 390.7h1v1h-1zM223.0 386.2h1v1h-1zM223.5 382.6h1v1h-1zM226.5 378.2h1v1h-1zM222.8 385.7h1v1h-1zM224.3 391.1h1v1h-1zM222.6 386.2h1v1h-1zM223.8 381.9h1v1h-1zM222.8 385.7h1v1h-1zM224.2 382.5h1v1h-1zM226.1 379.1h1v1h-1zM216.3 389.5h1v1h-1zM222.5 385.9h1v1h-1zM219.3 383.3h1v1h-1zM222.3 381.2h1v1h-1zM218.6 383.4h1v1h-1zM214.0 398.0h1v1h-1zM214.6 395.0h1v1h-1zM216.8 389.0h1v1h-1zM213.5 398.3h1v1h-1zM213.4 400.0h1v1h-1zM213.9 400.1h1v1h-1zM213.4 399.8h1v1h-1zM217.8 387.2h1v1h-1zM218.9 382.5h1v1h-1zM217.3 388.9h1v1h-1zM218.8 382.6h1v1h-1zM215.8 391.4h1v1h-1zM213.5 397.7h1v1h-1zM214.5 395.4h1v1h-1zM218.1 387.3h1v1h-1zM218.6 382.7h1v1h-1zM219.0 382.9h1v1h-1zM213.6 400.4h1v1h-1zM213.3 397.8h1v1h-1z" fill="rgb(36, 132, 168)" fill-opacity="0.55"/>
<path d="M223.7 395.8h1v1h-1zM218.0 404.3h1v1h-1zM217.1 404.4h1v1h-1zM217.5 404.0h1v1h-1zM225.2 383.5h1v1h-1zM227.0 380.9h1v1h-1zM224.6 383.7h1v1h-1zM223.9 375.3h1v1h-1zM225.4 375.2h1v1h-1zM227.2 381.0h1v1h-1zM224.4 383.6h1v1h-1zM223.4 374.7h1v1h-1zM226.3 380.7h1v1h-1zM225.0 384.5h1v1h-1zM224.5 385.8h1v1h-1zM222.3 379.1h1v1h-1zM224.3 383.7h1v1h-1zM222.9 378.9h1v1h-1zM225.0 385.2h1v1h-1zM226.8 380.8h1v1h-1zM222.4 379.0h1v1h-1zM223.4 375.3h1v1h-1zM223.9 374.8h1v1h-1zM213.2 400.1h1v1h-1zM216.9 385.5h1v1h-1zM213.0 399.7h1v1h-1zM213.3 399.4h1v1h-1z" fill="rgb(48, 120, 180)" fill-opacity="0.55"/>
<path d="M221.8 391.7h1v1h-1zM219.0 400.7h1v1h-1zM221.9 391.8h1v1h-1zM216.1 399.6h1v1h-1zM221.7 391.9h1v1h-1zM218.7 400.5h1v1h-1zM221.6 392.0h1v1h-1zM215.3 399.6h1v1h-1zM218.7 400.8h1v1h-1zM221.8 392.0h1v1h-1zM221.7 392.2h1v1h-1zM222.3 392.0h1v1h-1zM222.2 391.8h1v1h-1zM221.7 391.6h1v1h-1zM221.8 392.4h1v1h-1zM222.0 392.3h1v1h-1zM221.4 391.6h1v1h-1zM221.6 391.8h1v1h-1zM216.1 400.3h1v1h-1zM215.8 399.6h1v1h-1zM216.0 399.5h1v1h-1z" fill="rgb(144, 204, 60)" fill-opacity="0.55"/>
<path d="M215.9 395.9h1v1h-1zM215.5 396.0h1v1h-1zM215.5 396.4h1v1h-1z" fill="rgb(60, 180, 96)" fill-opacity="0.55"/>
<path d="M216.6 398.9h1v1h-1zM216.4 398.6h1v1h-1zM216.6 398.8h1v1h-1zM216.7 399.2h1v1h-1zM216.5 399.1h1v1h-1z" fill="rgb(240, 132, 24)" fill-opacity="0.55"/>
<path d="M221.6 391.1h1v1h-1zM216.2 397.2h1v1h-1zM222.1 390.6h1v1h-1zM215.9 397.2h1v1h-1zM222.1 391.0h1v1h-1zM221.9 391.3h1v1h-1zM215.4 396.5h1v1h-1zM216.1 397.3h1v1h-1z" fill="rgb(96, 192, 72)" fill-opacity="0.55"/>
<path d="M215.8 397.8h1v1h-1zM215.9 397.8h1v1h-1zM216.2 397.7h1v1h-1z" fill="rgb(144, 192, 60)" fill-opacity="0.55"/>
<path d="M220.7 390.0h1v1h-1zM220.3 390.2h1v1h-1zM220.4 390.0h1v1h-1zM220.5 390.1h1v1h-1zM220.4 389.6h1v1h-1z" fill="rgb(72, 180, 84)" fill-opacity="0.55"/>
<path d="M220.5 399.6h1v1h-1zM220.5 399.6h1v1h-1z" fill="rgb(48, 156, 144)" fill-opacity="0.55"/>
<path d="M222.6 392.5h1v1h-1zM221.7 389.9h1v1h-1zM222.9 391.8h1v1h-1zM221.8 390.0h1v1h-1zM221.9 390.4h1v1h-1zM220.0 390.2h1v1h-1zM222.9 391.9h1v1h-1zM222.1 389.5h1v1h-1zM222.2 390.1h1v1h-1zM222.0 390.3h1v1h-1zM220.0 390.2h1v1h-1zM222.5 392.1h1v1h-1zM221.6 390.4h1v1h-1zM222.8 391.7h1v1h-1zM217.2 392.7h1v1h-1zM219.3 389.9h1v1h-1zM216.5 392.9h1v1h-1zM217.1 392.7h1v1h-1z" fill="rgb(60, 180, 108)" fill-opacity="0.55"/>
<path d="M223.7 395.4h1v1h-1zM223.7 394.6h1v1h-1zM223.9 380.4h1v1h-1zM226.3 379.1h1v1h-1zM224.1 385.1h1v1h-1zM223.7 387.4h1v1h-1zM224.7 380.4h1v1h-1zM225.1 381.0h1v1h-1zM225.2 380.4h1v1h-1zM226.8 376.8h1v1h-1zM217.9 386.2h1v1h-1zM228.2 378.0h1v1h-1zM224.1 386.4h1v1h-1zM223.6 380.1h1v1h-1zM223.8 388.0h1v1h-1zM225.3 377.1h1v1h-1zM224.2 386.2h1v1h-1zM225.0 380.4h1v1h-1zM226.3 379.8h1v1h-1zM226.8 378.5h1v1h-1zM227.1 376.9h1v1h-1zM223.4 383.8h1v1h-1zM225.7 377.0h1v1h-1zM227.4 377.5h1v1h-1zM215.7 390.2h1v1h-1zM223.5 386.2h1v1h-1zM223.8 384.9h1v1h-1zM224.7 377.7h1v1h-1zM223.7 388.1h1v1h-1zM224.5 378.1h1v1h-1zM223.6 387.8h1v1h-1zM226.4 379.3h1v1h-1zM226.4 377.4h1v1h-1zM223.7 385.1h1v1h-1zM222.0 381.3h1v1h-1zM224.4 379.0h1v1h-1zM227.7 378.2h1v1h-1zM224.4 378.2h1v1h-1zM225.1 380.4h1v1h-1zM223.5 394.9h1v1h-1zM223.6 384.2h1v1h-1zM225.8 379.8h1v1h-1zM225.0 379.9h1v1h-1zM224.0 388.1h1v1h-1zM214.9 394.2h1v1h-1zM215.1 394.4h1v1h-1zM220.1 381.7h1v1h-1zM214.8 394.2h1v1h-1zM217.9 384.6h1v1h-1zM221.9 381.5h1v1h-1zM214.0 401.0h1v1h-1zM215.8 390.0h1v1h-1zM215.1 392.6h1v1h-1zM217.8 385.0h1v1h-1zM217.7 383.8h1v1h-1zM214.9 393.6h1v1h-1zM214.9 393.7h1v1h-1zM217.7 385.1h1v1h-1zM214.4 394.3h1v1h-1zM219.6 381.7h1v1h-1zM217.7 385.0h1v1h-1zM224.4 381.0h1v1h-1z" fill="rgb(36, 132, 180)" fill-opacity="0.55"/>
<path d="M218.8 389.0h1v1h-1zM214.6 396.6h1v1h-1zM220.9 384.3h1v1h-1zM217.4 389.8h1v1h-1zM220.3 384.7h1v1h-1zM220.1 386.0h1v1h-1zM219.5 387.4h1v1h-1zM219.7 385.3h1v1h-1zM220.0 384.9h1v1h-1zM219.6 386.2h1v1h-1zM221.1 384.4h1v1h-1zM218.4 389.2h1v1h-1zM219.4 385.2h1v1h-1zM220.9 385.4h1v1h-1zM219.8 386.3h1v1h-1zM220.5 383.7h1v1h-1zM220.2 384.2h1v1h-1zM220.7 383.5h1v1h-1zM220.0 384.2h1v1h-1zM219.9 387.1h1v1h-1zM216.6 391.4h1v1h-1zM217.4 389.8h1v1h-1zM220.2 383.7h1v1h-1zM219.5 384.4h1v1h-1zM221.1 385.9h1v1h-1zM219.7 386.5h1v1h-1zM217.0 391.2h1v1h-1zM219.5 386.7h1v1h-1zM218.3 389.5h1v1h-1zM220.6 384.0h1v1h-1zM220.9 383.9h1v1h-1zM216.5 390.5h1v1h-1zM220.4 384.2h1v1h-1zM219.4 384.2h1v1h-1zM217.5 389.6h1v1h-1zM220.1 385.1h1v1h-1zM219.3 389.0h1v1h-1zM216.9 391.3h1v1h-1zM218.6 389.1h1v1h-1zM219.5 384.6h1v1h-1z" fill="rgb(36, 156, 168)" fill-opacity="0.55"/>
<path d="M215.8 404.8h1v1h-1zM216.6 406.3h1v1h-1zM217.2 406.2h1v1h-1zM218.3 404.6h1v1h-1zM226.8 390.8h1v1h-1zM228.2 383.1h1v1h-1zM215.9 381.0h1v1h-1zM226.1 391.2h1v1h-1zM220.9 375.8h1v1h-1zM225.7 395.3h1v1h-1zM225.5 390.2h1v1h-1zM219.9 376.1h1v1h-1zM226.8 384.7h1v1h-1zM229.0 380.5h1v1h-1zM219.8 373.9h1v1h-1zM220.1 379.5h1v1h-1zM220.2 375.5h1v1h-1zM225.3 354.5h1v1h-1zM228.6 351.5h1v1h-1zM222.7 357.9h1v1h-1zM223.0 365.0h1v1h-1zM222.4 370.4h1v1h-1zM226.9 353.3h1v1h-1zM226.0 367.1h1v1h-1zM228.4 353.4h1v1h-1zM226.1 350.2h1v1h-1zM224.3 356.7h1v1h-1zM226.9 350.1h1v1h-1zM225.5 356.8h1v1h-1zM227.4 360.8h1v1h-1zM225.1 359.4h1v1h-1zM224.7 369.2h1v1h-1zM225.5 356.1h1v1h-1zM226.7 373.2h1v1h-1zM227.0 364.6h1v1h-1zM224.2 353.1h1v1h-1zM223.3 366.3h1v1h-1zM224.1 351.8h1v1h-1zM220.5 373.5h1v1h-1zM225.9 352.0h1v1h-1zM223.9 359.0h1v1h-1zM221.3 371.6h1v1h-1zM227.0 359.9h1v1h-1zM224.3 364.9h1v1h-1zM225.2 367.5h1v1h-1zM228.0 352.6h1v1h-1zM226.6 357.2h1v1h-1zM223.1 366.6h1v1h-1zM225.6 369.6h1v1h-1zM228.5 354.4h1v1h-1zM226.1 356.3h1v1h-1zM226.1 359.1h1v1h-1zM224.7 355.7h1v1h-1zM224.5 365.4h1v1h-1zM225.6 352.4h1v1h-1zM224.3 364.7h1v1h-1zM224.2 370.1h1v1h-1zM223.8 358.8h1v1h-1zM226.6 364.0h1v1h-1zM224.8 364.0h1v1h-1zM219.9 375.2h1v1h-1zM225.5 369.8h1v1h-1zM228.3 361.4h1v1h-1zM225.8 356.0h1v1h-1zM223.2 368.5h1v1h-1zM226.5 368.8h1v1h-1zM225.4 356.9h1v1h-1zM225.4 361.6h1v1h-1zM228.0 359.3h1v1h-1zM225.5 363.8h1v1h-1zM227.6 358.0h1v1h-1zM227.4 351.8h1v1h-1zM223.5 354.5h1v1h-1zM225.9 363.0h1v1h-1zM224.1 363.8h1v1h-1zM226.6 350.5h1v1h-1zM227.0 364.5h1v1h-1zM225.0 359.1h1v1h-1zM225.3 358.3h1v1h-1zM222.0 370.7h1v1h-1zM226.9 350.1h1v1h-1zM226.5 359.6h1v1h-1zM224.2 365.5h1v1h-1zM224.3 363.9h1v1h-1zM224.4 369.4h1v1h-1zM224.1 359.7h1v1h-1zM224.5 359.6h1v1h-1zM226.2 353.0h1v1h-1zM225.8 355.5h1v1h-1zM224.4 360.8h1v1h-1zM223.8 370.4h1v1h-1zM225.9 353.9h1v1h-1zM226.5 362.9h1v1h-1zM225.9 364.9h1v1h-1zM224.1 362.5h1v1h-1zM226.7 362.2h1v1h-1zM221.6 368.8h1v1h-1zM225.7 354.3h1v1h-1zM226.4 363.3h1v1h-1zM222.4 365.1h1v1h-1zM226.3 353.7h1v1h-1zM222.9 368.7h1v1h-1zM223.5 360.1h1v1h-1zM225.4 369.3h1v1h-1zM225.6 361.9h1v1h-1zM214.6 385.9h1v1h-1zM209.2 388.8h1v1h-1zM210.0 396.8h1v1h-1zM206.5 402.3h1v1h-1zM209.6 394.4h1v1h-1zM211.2 398.5h1v1h-1zM208.2 399.8h1v1h-1zM212.1 402.7h1v1h-1zM212.9 388.1h1v1h-1zM210.9 387.9h1v1h-1zM208.4 392.0h1v1h-1zM212.9 388.4h1v1h-1zM214.5 383.3h1v1h-1zM210.0 396.4h1v1h-1zM212.8 382.0h1v1h-1zM209.0 393.0h1v1h-1zM206.0 402.0h1v1h-1zM213.4 383.3h1v1h-1zM210.5 391.2h1v1h-1zM209.1 396.5h1v1h-1zM210.4 400.8h1v1h-1zM214.5 382.1h1v1h-1zM213.0 383.8h1v1h-1zM211.3 396.6h1v1h-1zM209.6 394.3h1v1h-1zM208.6 389.0h1v1h-1zM211.0 388.5h1v1h-1zM211.1 387.1h1v1h-1zM208.7 392.0h1v1h-1zM212.2 389.6h1v1h-1zM215.0 382.6h1v1h-1zM214.0 382.4h1v1h-1zM210.4 402.3h1v1h-1zM205.6 401.8h1v1h-1zM212.1 387.4h1v1h-1zM207.6 399.8h1v1h-1zM210.5 397.6h1v1h-1zM214.5 381.9h1v1h-1zM208.1 395.9h1v1h-1zM209.6 387.6h1v1h-1zM213.7 387.2h1v1h-1zM209.3 395.7h1v1h-1zM209.9 391.0h1v1h-1zM211.8 388.5h1v1h-1zM213.4 386.5h1v1h-1zM209.4 401.8h1v1h-1zM214.0 381.7h1v1h-1zM211.1 400.4h1v1h-1zM215.9 381.4h1v1h-1zM211.3 402.8h1v1h-1zM216.4 381.3h1v1h-1zM209.3 396.7h1v1h-1zM210.6 389.7h1v1h-1zM211.2 400.7h1v1h-1zM208.7 394.2h1v1h-1zM206.5 401.9h1v1h-1zM207.9 399.5h1v1h-1zM210.7 398.6h1v1h-1zM211.1 391.2h1v1h-1zM207.9 396.2h1v1h-1zM210.1 388.4h1v1h-1zM211.3 385.9h1v1h-1zM209.0 394.4h1v1h-1zM207.6 398.8h1v1h-1zM206.4 400.2h1v1h-1zM208.8 389.9h1v1h-1zM227.2 359.2h1v1h-1zM226.6 354.7h1v1h-1zM221.8 371.9h1v1h-1zM219.4 379.5h1v1h-1zM222.4 367.8h1v1h-1zM223.7 353.9h1v1h-1zM228.6 353.8h1v1h-1zM227.0 363.4h1v1h-1z" fill="rgb(48, 96, 180)" fill-opacity="0.55"/>
<path d="M222.3 396.1h1v1h-1zM214.9 400.8h1v1h-1zM222.3 396.5h1v1h-1z" fill="rgb(36, 156, 144)" fill-opacity="0.55"/>
<path d="M217.4 390.8h1v1h-1zM215.4 395.4h1v1h-1zM215.8 394.9h1v1h-1zM218.2 390.7h1v1h-1zM215.5 395.2h1v1h-1zM217.9 390.7h1v1h-1zM215.4 395.4h1v1h-1z" fill="rgb(48, 168, 120)" fill-opacity="0.55"/>
<rect x="35.20" y="327.50" width="80.10" height="80.20" fill="none" stroke="#231f20" stroke-width="1.3"/>
<path d="M35.2 373.8H79.7V327.5" fill="none" stroke="#231f20" stroke-width="1.1"/>
<rect x="154.00" y="327.50" width="80.80" height="80.20" fill="none" stroke="#231f20" stroke-width="1.3"/>
<path d="M193.4 407.7V344.5H234.3" fill="none" stroke="#231f20" stroke-width="1.1"/>
<text transform="translate(82.60 354.90)" font-size="8.2" text-anchor="start" textLength="15.00" lengthAdjust="spacingAndGlyphs">98%</text>
<text transform="translate(169.70 381.80)" font-size="8.2" text-anchor="start" textLength="19.00" lengthAdjust="spacingAndGlyphs">100%</text>
<path d="M32.0 392.00H34.6M33.0 386.43H34.6M33.0 383.17H34.6M33.0 380.86H34.6M33.0 379.07H34.6M33.0 377.60H34.6M33.0 376.37H34.6M33.0 375.29H34.6M33.0 374.35H34.6M32.0 373.50H34.6M33.0 367.93H34.6M33.0 364.67H34.6M33.0 362.36H34.6M33.0 360.57H34.6M33.0 359.10H34.6M33.0 357.87H34.6M33.0 356.79H34.6M33.0 355.85H34.6M32.0 355.00H34.6M33.0 349.43H34.6M33.0 346.17H34.6M33.0 343.86H34.6M33.0 342.07H34.6M33.0 340.60H34.6M33.0 339.37H34.6M33.0 338.29H34.6M33.0 337.35H34.6M32.0 336.50H34.6M33.0 330.93H34.6" stroke="#231f20" stroke-width="0.7" fill="none"/>
<line x1="32.00" y1="400.60" x2="34.60" y2="400.60" stroke="#231f20" stroke-width="0.7"/>
<path d="M50.00 408.3V410.9M55.72 408.3V409.9M59.07 408.3V409.9M61.44 408.3V409.9M63.28 408.3V409.9M64.78 408.3V409.9M66.06 408.3V409.9M67.16 408.3V409.9M68.13 408.3V409.9M69.00 408.3V410.9M74.72 408.3V409.9M78.07 408.3V409.9M80.44 408.3V409.9M82.28 408.3V409.9M83.78 408.3V409.9M85.06 408.3V409.9M86.16 408.3V409.9M87.13 408.3V409.9M88.00 408.3V410.9M93.72 408.3V409.9M97.07 408.3V409.9M99.44 408.3V409.9M101.28 408.3V409.9M102.78 408.3V409.9M104.06 408.3V409.9M105.16 408.3V409.9M106.13 408.3V409.9M107.00 408.3V410.9M112.72 408.3V409.9" stroke="#231f20" stroke-width="0.7" fill="none"/>
<line x1="41.50" y1="408.30" x2="41.50" y2="410.90" stroke="#231f20" stroke-width="0.7"/>
<text transform="translate(30.80 339.70) scale(0.84 1)" font-size="9.0" text-anchor="end">10<tspan font-size="6.30" dy="-3.4">5</tspan></text>
<text transform="translate(30.80 357.50) scale(0.84 1)" font-size="9.0" text-anchor="end">10<tspan font-size="6.30" dy="-3.4">4</tspan></text>
<text transform="translate(30.80 376.00) scale(0.84 1)" font-size="9.0" text-anchor="end">10<tspan font-size="6.30" dy="-3.4">3</tspan></text>
<text transform="translate(30.80 394.60) scale(0.84 1)" font-size="9.0" text-anchor="end">10<tspan font-size="6.30" dy="-3.4">2</tspan></text>
<text transform="translate(30.00 403.20) scale(0.840 1)" font-size="9.0" text-anchor="end">0</text>
<text transform="translate(41.60 420.80) scale(0.840 1)" font-size="9.0" text-anchor="middle">0</text>
<text transform="translate(50.50 420.60) scale(0.84 1)" font-size="9.0" text-anchor="middle">10<tspan font-size="6.30" dy="-3.4">2</tspan></text>
<text transform="translate(71.50 420.60) scale(0.84 1)" font-size="9.0" text-anchor="middle">10<tspan font-size="6.30" dy="-3.4">3</tspan></text>
<text transform="translate(90.50 420.60) scale(0.84 1)" font-size="9.0" text-anchor="middle">10<tspan font-size="6.30" dy="-3.4">4</tspan></text>
<text transform="translate(107.50 420.60) scale(0.84 1)" font-size="9.0" text-anchor="middle">10<tspan font-size="6.30" dy="-3.4">5</tspan></text>
<text transform="translate(74.70 431.80)" font-size="8.4" text-anchor="middle" textLength="11.50" lengthAdjust="spacingAndGlyphs">Gr1</text>
<text transform="translate(14.10 368.30) rotate(-90)" font-size="9.8" text-anchor="middle" textLength="16.50" lengthAdjust="spacingAndGlyphs" stroke="#231f20" stroke-width="0.1">Mac1</text>
<text transform="translate(127.90 367.30) rotate(-90)" font-size="9.6" text-anchor="middle" textLength="20.50" lengthAdjust="spacingAndGlyphs" stroke="#231f20" stroke-width="0.1">SSC-A</text>
<path d="M151.0 407.70H154.0M152.4 404.64H154.0M152.4 401.59H154.0M152.4 398.53H154.0M152.4 395.48H154.0M151.0 392.42H154.0M152.4 389.36H154.0M152.4 386.31H154.0M152.4 383.25H154.0M152.4 380.20H154.0M151.0 377.14H154.0M152.4 374.08H154.0M152.4 371.03H154.0M152.4 367.97H154.0M152.4 364.92H154.0M151.0 361.86H154.0M152.4 358.80H154.0M152.4 355.75H154.0M152.4 352.69H154.0M152.4 349.64H154.0M151.0 346.58H154.0M152.4 343.52H154.0M152.4 340.47H154.0M152.4 337.41H154.0M152.4 334.36H154.0M151.0 331.30H154.0" stroke="#231f20" stroke-width="0.7" fill="none"/>
<text transform="translate(149.80 410.60) scale(0.840 1)" font-size="9.0" text-anchor="end">0</text>
<text transform="translate(149.80 395.32) scale(0.840 1)" font-size="9.0" text-anchor="end">50K</text>
<text transform="translate(149.80 380.04) scale(0.840 1)" font-size="9.0" text-anchor="end">100K</text>
<text transform="translate(149.80 364.76) scale(0.840 1)" font-size="9.0" text-anchor="end">150K</text>
<text transform="translate(149.80 349.48) scale(0.840 1)" font-size="9.0" text-anchor="end">200K</text>
<text transform="translate(149.80 334.20) scale(0.840 1)" font-size="9.0" text-anchor="end">250K</text>
<path d="M170.00 408.3V410.9M175.72 408.3V409.9M179.07 408.3V409.9M181.44 408.3V409.9M183.28 408.3V409.9M184.78 408.3V409.9M186.06 408.3V409.9M187.16 408.3V409.9M188.13 408.3V409.9M190.50 408.3V410.9M196.22 408.3V409.9M199.57 408.3V409.9M201.94 408.3V409.9M203.78 408.3V409.9M205.28 408.3V409.9M206.56 408.3V409.9M207.66 408.3V409.9M208.63 408.3V409.9M209.50 408.3V410.9M215.22 408.3V409.9M218.57 408.3V409.9M220.94 408.3V409.9M222.78 408.3V409.9M224.28 408.3V409.9M225.56 408.3V409.9M226.66 408.3V409.9M227.63 408.3V409.9M228.00 408.3V410.9M233.72 408.3V409.9" stroke="#231f20" stroke-width="0.7" fill="none"/>
<line x1="162.00" y1="408.30" x2="162.00" y2="410.90" stroke="#231f20" stroke-width="0.7"/>
<text transform="translate(161.40 420.70) scale(0.840 1)" font-size="9.0" text-anchor="middle">0</text>
<text transform="translate(169.50 420.50) scale(0.84 1)" font-size="9.0" text-anchor="middle">10<tspan font-size="6.30" dy="-3.4">2</tspan></text>
<text transform="translate(190.50 420.50) scale(0.84 1)" font-size="9.0" text-anchor="middle">10<tspan font-size="6.30" dy="-3.4">3</tspan></text>
<text transform="translate(209.50 420.50) scale(0.84 1)" font-size="9.0" text-anchor="middle">10<tspan font-size="6.30" dy="-3.4">4</tspan></text>
<text transform="translate(227.50 420.50) scale(0.84 1)" font-size="9.0" text-anchor="middle">10<tspan font-size="6.30" dy="-3.4">5</tspan></text>
<text transform="translate(194.20 432.30)" font-size="8.4" text-anchor="middle" textLength="24.50" lengthAdjust="spacingAndGlyphs">CD45.1</text>
<text transform="translate(249.00 313.40) scale(1.100 1)" font-size="10.6" text-anchor="start" font-weight="bold" class="b">G</text>
<text transform="translate(328.40 320.80)" font-size="10.4" text-anchor="middle" textLength="13.60" lengthAdjust="spacingAndGlyphs" stroke="#231f20" stroke-width="0.1">BM</text>
<line x1="276.60" y1="327.10" x2="276.60" y2="409.10" stroke="#231f20" stroke-width="1.2"/>
<line x1="276.00" y1="408.50" x2="380.10" y2="408.50" stroke="#231f20" stroke-width="1.2"/>
<line x1="274.00" y1="408.50" x2="276.60" y2="408.50" stroke="#231f20" stroke-width="1.1"/>
<text transform="translate(269.90 411.05) scale(0.860 1)" font-size="9.0" text-anchor="end">0</text>
<line x1="274.00" y1="392.34" x2="276.60" y2="392.34" stroke="#231f20" stroke-width="1.1"/>
<text transform="translate(269.90 394.89) scale(0.860 1)" font-size="9.0" text-anchor="end">20</text>
<line x1="274.00" y1="376.18" x2="276.60" y2="376.18" stroke="#231f20" stroke-width="1.1"/>
<text transform="translate(269.90 378.73) scale(0.860 1)" font-size="9.0" text-anchor="end">40</text>
<line x1="274.00" y1="360.02" x2="276.60" y2="360.02" stroke="#231f20" stroke-width="1.1"/>
<text transform="translate(269.90 362.57) scale(0.860 1)" font-size="9.0" text-anchor="end">60</text>
<line x1="274.00" y1="343.86" x2="276.60" y2="343.86" stroke="#231f20" stroke-width="1.1"/>
<text transform="translate(269.90 346.41) scale(0.860 1)" font-size="9.0" text-anchor="end">80</text>
<line x1="274.00" y1="327.70" x2="276.60" y2="327.70" stroke="#231f20" stroke-width="1.1"/>
<text transform="translate(269.90 330.25) scale(0.860 1)" font-size="9.0" text-anchor="end">100</text>
<line x1="293.90" y1="408.50" x2="293.90" y2="411.10" stroke="#231f20" stroke-width="1.1"/>
<line x1="328.90" y1="408.50" x2="328.90" y2="411.10" stroke="#231f20" stroke-width="1.1"/>
<line x1="363.20" y1="408.50" x2="363.20" y2="411.10" stroke="#231f20" stroke-width="1.1"/>
<line x1="287.40" y1="386.90" x2="287.40" y2="381.50" stroke="#231f20" stroke-width="1.0"/>
<line x1="285.40" y1="381.50" x2="289.40" y2="381.50" stroke="#231f20" stroke-width="1.0"/>
<rect x="283.10" y="386.40" width="8.60" height="22.10" fill="#d2202f"/>
<line x1="300.30" y1="345.70" x2="300.30" y2="339.00" stroke="#231f20" stroke-width="1.0"/>
<line x1="298.30" y1="339.00" x2="302.30" y2="339.00" stroke="#231f20" stroke-width="1.0"/>
<rect x="296.00" y="345.20" width="8.60" height="63.30" fill="#1b5795"/>
<circle cx="297.50" cy="335.80" r="0.7" fill="#231f20"/>
<circle cx="300.30" cy="335.80" r="0.7" fill="#231f20"/>
<circle cx="303.10" cy="335.80" r="0.7" fill="#231f20"/>
<line x1="321.80" y1="395.00" x2="321.80" y2="388.30" stroke="#231f20" stroke-width="1.0"/>
<line x1="319.80" y1="388.30" x2="323.80" y2="388.30" stroke="#231f20" stroke-width="1.0"/>
<rect x="317.50" y="394.50" width="8.60" height="14.00" fill="#d2202f"/>
<line x1="334.80" y1="358.60" x2="334.80" y2="342.50" stroke="#231f20" stroke-width="1.0"/>
<line x1="332.80" y1="342.50" x2="336.80" y2="342.50" stroke="#231f20" stroke-width="1.0"/>
<rect x="330.50" y="358.10" width="8.60" height="50.40" fill="#1b5795"/>
<circle cx="333.40" cy="339.30" r="0.7" fill="#231f20"/>
<circle cx="336.20" cy="339.30" r="0.7" fill="#231f20"/>
<rect x="354.50" y="407.00" width="6.00" height="1.50" fill="#d2202f"/>
<line x1="369.90" y1="407.70" x2="369.90" y2="406.40" stroke="#231f20" stroke-width="1.0"/>
<line x1="367.90" y1="406.40" x2="371.90" y2="406.40" stroke="#231f20" stroke-width="1.0"/>
<rect x="365.60" y="407.20" width="8.60" height="1.30" fill="#1b5795"/>
<text transform="translate(293.90 420.50)" font-size="9.4" text-anchor="middle" textLength="17.30" lengthAdjust="spacingAndGlyphs" stroke="#231f20" stroke-width="0.12">PD-1</text>
<text transform="translate(328.90 420.50)" font-size="9.4" text-anchor="middle" textLength="18.90" lengthAdjust="spacingAndGlyphs" stroke="#231f20" stroke-width="0.12">TIGIT</text>
<text transform="translate(363.20 420.50)" font-size="9.4" text-anchor="middle" textLength="24.20" lengthAdjust="spacingAndGlyphs" stroke="#231f20" stroke-width="0.12">CTLA4</text>
<text transform="translate(255.30 367.50) rotate(-90)" font-size="9.8" text-anchor="middle" textLength="51.40" lengthAdjust="spacingAndGlyphs" stroke="#231f20" stroke-width="0.1">% of CD4 T cells</text>
<rect x="341.60" y="327.00" width="4.00" height="4.00" fill="#d2202f"/>
<text transform="translate(347.80 332.20)" font-size="9.4" text-anchor="start" textLength="25.50" lengthAdjust="spacingAndGlyphs" stroke="#231f20" stroke-width="0.1">Control</text>
<rect x="341.60" y="336.00" width="4.00" height="4.00" fill="#1b5795"/>
<text transform="translate(347.80 341.20)" font-size="9.4" text-anchor="start" textLength="29.60" lengthAdjust="spacingAndGlyphs" stroke="#231f20" stroke-width="0.1">NA-AML</text>
<line x1="411.40" y1="326.90" x2="411.40" y2="409.40" stroke="#231f20" stroke-width="1.2"/>
<line x1="410.80" y1="408.80" x2="512.80" y2="408.80" stroke="#231f20" stroke-width="1.2"/>
<line x1="408.80" y1="408.80" x2="411.40" y2="408.80" stroke="#231f20" stroke-width="1.1"/>
<text transform="translate(407.10 411.50) scale(0.860 1)" font-size="9.0" text-anchor="end">0</text>
<line x1="408.80" y1="392.54" x2="411.40" y2="392.54" stroke="#231f20" stroke-width="1.1"/>
<text transform="translate(407.10 395.24) scale(0.860 1)" font-size="9.0" text-anchor="end">20</text>
<line x1="408.80" y1="376.28" x2="411.40" y2="376.28" stroke="#231f20" stroke-width="1.1"/>
<text transform="translate(407.10 378.98) scale(0.860 1)" font-size="9.0" text-anchor="end">40</text>
<line x1="408.80" y1="360.02" x2="411.40" y2="360.02" stroke="#231f20" stroke-width="1.1"/>
<text transform="translate(407.10 362.72) scale(0.860 1)" font-size="9.0" text-anchor="end">60</text>
<line x1="408.80" y1="343.76" x2="411.40" y2="343.76" stroke="#231f20" stroke-width="1.1"/>
<text transform="translate(407.10 346.46) scale(0.860 1)" font-size="9.0" text-anchor="end">80</text>
<line x1="408.80" y1="327.50" x2="411.40" y2="327.50" stroke="#231f20" stroke-width="1.1"/>
<text transform="translate(407.10 330.20) scale(0.860 1)" font-size="9.0" text-anchor="end">100</text>
<line x1="428.00" y1="408.80" x2="428.00" y2="411.40" stroke="#231f20" stroke-width="1.1"/>
<line x1="462.50" y1="408.80" x2="462.50" y2="411.40" stroke="#231f20" stroke-width="1.1"/>
<line x1="494.80" y1="408.80" x2="494.80" y2="411.40" stroke="#231f20" stroke-width="1.1"/>
<line x1="421.90" y1="403.60" x2="421.90" y2="401.00" stroke="#231f20" stroke-width="1.0"/>
<line x1="419.90" y1="401.00" x2="423.90" y2="401.00" stroke="#231f20" stroke-width="1.0"/>
<rect x="417.60" y="403.10" width="8.60" height="5.70" fill="#d2202f"/>
<line x1="434.90" y1="346.20" x2="434.90" y2="337.60" stroke="#231f20" stroke-width="1.0"/>
<line x1="432.90" y1="337.60" x2="436.90" y2="337.60" stroke="#231f20" stroke-width="1.0"/>
<rect x="430.60" y="345.70" width="8.60" height="63.10" fill="#1b5795"/>
<circle cx="432.10" cy="334.70" r="0.7" fill="#231f20"/>
<circle cx="434.90" cy="334.70" r="0.7" fill="#231f20"/>
<circle cx="437.70" cy="334.70" r="0.7" fill="#231f20"/>
<line x1="456.35" y1="406.70" x2="456.35" y2="403.40" stroke="#231f20" stroke-width="1.0"/>
<line x1="454.35" y1="403.40" x2="458.35" y2="403.40" stroke="#231f20" stroke-width="1.0"/>
<rect x="452.20" y="406.20" width="8.30" height="2.60" fill="#d2202f"/>
<line x1="468.80" y1="352.50" x2="468.80" y2="343.40" stroke="#231f20" stroke-width="1.0"/>
<line x1="466.80" y1="343.40" x2="470.80" y2="343.40" stroke="#231f20" stroke-width="1.0"/>
<rect x="464.60" y="352.00" width="8.40" height="56.80" fill="#1b5795"/>
<circle cx="466.00" cy="340.50" r="0.7" fill="#231f20"/>
<circle cx="468.80" cy="340.50" r="0.7" fill="#231f20"/>
<circle cx="471.60" cy="340.50" r="0.7" fill="#231f20"/>
<rect x="486.50" y="407.50" width="6.00" height="1.30" fill="#d2202f"/>
<line x1="502.50" y1="391.50" x2="502.50" y2="386.00" stroke="#231f20" stroke-width="1.0"/>
<line x1="500.50" y1="386.00" x2="504.50" y2="386.00" stroke="#231f20" stroke-width="1.0"/>
<rect x="498.40" y="391.00" width="8.20" height="17.80" fill="#1b5795"/>
<circle cx="499.70" cy="382.90" r="0.7" fill="#231f20"/>
<circle cx="502.50" cy="382.90" r="0.7" fill="#231f20"/>
<circle cx="505.30" cy="382.90" r="0.7" fill="#231f20"/>
<text transform="translate(428.00 420.80)" font-size="9.4" text-anchor="middle" textLength="17.60" lengthAdjust="spacingAndGlyphs" stroke="#231f20" stroke-width="0.12">PD-1</text>
<text transform="translate(462.50 420.80)" font-size="9.4" text-anchor="middle" textLength="18.00" lengthAdjust="spacingAndGlyphs" stroke="#231f20" stroke-width="0.12">TIGIT</text>
<text transform="translate(494.80 420.80)" font-size="9.4" text-anchor="middle" textLength="21.60" lengthAdjust="spacingAndGlyphs" stroke="#231f20" stroke-width="0.12">CTLA4</text>
<text transform="translate(390.00 367.90) rotate(-90)" font-size="9.8" text-anchor="middle" textLength="50.80" lengthAdjust="spacingAndGlyphs" stroke="#231f20" stroke-width="0.1">% of CD8 T cells</text>
<text transform="translate(7.00 461.10) scale(1.100 1)" font-size="10.6" text-anchor="start" font-weight="bold" class="b">H</text>
<text transform="translate(86.60 469.80)" font-size="10.0" text-anchor="middle" textLength="28.80" lengthAdjust="spacingAndGlyphs">Spleen</text>
<line x1="35.10" y1="474.60" x2="35.10" y2="557.10" stroke="#231f20" stroke-width="1.2"/>
<line x1="34.50" y1="556.50" x2="137.50" y2="556.50" stroke="#231f20" stroke-width="1.2"/>
<line x1="32.50" y1="556.50" x2="35.10" y2="556.50" stroke="#231f20" stroke-width="1.1"/>
<text transform="translate(30.50 559.10) scale(0.860 1)" font-size="9.0" text-anchor="end">0</text>
<line x1="32.50" y1="540.24" x2="35.10" y2="540.24" stroke="#231f20" stroke-width="1.1"/>
<text transform="translate(30.50 542.84) scale(0.860 1)" font-size="9.0" text-anchor="end">20</text>
<line x1="32.50" y1="523.98" x2="35.10" y2="523.98" stroke="#231f20" stroke-width="1.1"/>
<text transform="translate(30.50 526.58) scale(0.860 1)" font-size="9.0" text-anchor="end">40</text>
<line x1="32.50" y1="507.72" x2="35.10" y2="507.72" stroke="#231f20" stroke-width="1.1"/>
<text transform="translate(30.50 510.32) scale(0.860 1)" font-size="9.0" text-anchor="end">60</text>
<line x1="32.50" y1="491.46" x2="35.10" y2="491.46" stroke="#231f20" stroke-width="1.1"/>
<text transform="translate(30.50 494.06) scale(0.860 1)" font-size="9.0" text-anchor="end">80</text>
<line x1="32.50" y1="475.20" x2="35.10" y2="475.20" stroke="#231f20" stroke-width="1.1"/>
<text transform="translate(30.50 477.80) scale(0.860 1)" font-size="9.0" text-anchor="end">100</text>
<line x1="52.10" y1="556.50" x2="52.10" y2="559.10" stroke="#231f20" stroke-width="1.1"/>
<line x1="86.50" y1="556.50" x2="86.50" y2="559.10" stroke="#231f20" stroke-width="1.1"/>
<line x1="121.20" y1="556.50" x2="121.20" y2="559.10" stroke="#231f20" stroke-width="1.1"/>
<line x1="46.00" y1="536.30" x2="46.00" y2="533.10" stroke="#231f20" stroke-width="1.0"/>
<line x1="44.00" y1="533.10" x2="48.00" y2="533.10" stroke="#231f20" stroke-width="1.0"/>
<rect x="41.70" y="535.80" width="8.60" height="20.70" fill="#d2202f"/>
<line x1="59.00" y1="508.60" x2="59.00" y2="496.00" stroke="#231f20" stroke-width="1.0"/>
<line x1="57.00" y1="496.00" x2="61.00" y2="496.00" stroke="#231f20" stroke-width="1.0"/>
<rect x="54.70" y="508.10" width="8.60" height="48.40" fill="#1b5795"/>
<circle cx="57.60" cy="493.30" r="0.7" fill="#231f20"/>
<circle cx="60.40" cy="493.30" r="0.7" fill="#231f20"/>
<line x1="80.10" y1="549.50" x2="80.10" y2="546.30" stroke="#231f20" stroke-width="1.0"/>
<line x1="78.10" y1="546.30" x2="82.10" y2="546.30" stroke="#231f20" stroke-width="1.0"/>
<rect x="75.90" y="549.00" width="8.40" height="7.50" fill="#d2202f"/>
<line x1="93.20" y1="501.80" x2="93.20" y2="484.70" stroke="#231f20" stroke-width="1.0"/>
<line x1="91.20" y1="484.70" x2="95.20" y2="484.70" stroke="#231f20" stroke-width="1.0"/>
<rect x="88.90" y="501.30" width="8.60" height="55.20" fill="#1b5795"/>
<circle cx="90.40" cy="481.70" r="0.7" fill="#231f20"/>
<circle cx="93.20" cy="481.70" r="0.7" fill="#231f20"/>
<circle cx="96.00" cy="481.70" r="0.7" fill="#231f20"/>
<rect x="109.50" y="555.00" width="6.00" height="1.50" fill="#d2202f"/>
<line x1="125.25" y1="555.50" x2="125.25" y2="554.00" stroke="#231f20" stroke-width="1.0"/>
<line x1="123.25" y1="554.00" x2="127.25" y2="554.00" stroke="#231f20" stroke-width="1.0"/>
<rect x="121.00" y="555.00" width="8.50" height="1.50" fill="#1b5795"/>
<text transform="translate(52.10 567.90)" font-size="9.4" text-anchor="middle" textLength="17.00" lengthAdjust="spacingAndGlyphs" stroke="#231f20" stroke-width="0.12">PD-1</text>
<text transform="translate(86.50 567.90)" font-size="9.4" text-anchor="middle" textLength="18.10" lengthAdjust="spacingAndGlyphs" stroke="#231f20" stroke-width="0.12">TIGIT</text>
<text transform="translate(121.20 567.90)" font-size="9.4" text-anchor="middle" textLength="24.30" lengthAdjust="spacingAndGlyphs" stroke="#231f20" stroke-width="0.12">CTLA4</text>
<text transform="translate(14.00 514.75) rotate(-90)" font-size="9.8" text-anchor="middle" textLength="50.10" lengthAdjust="spacingAndGlyphs" stroke="#231f20" stroke-width="0.1">% of CD4 T cells</text>
<line x1="176.80" y1="474.70" x2="176.80" y2="557.10" stroke="#231f20" stroke-width="1.2"/>
<line x1="176.20" y1="556.50" x2="274.40" y2="556.50" stroke="#231f20" stroke-width="1.2"/>
<line x1="174.20" y1="556.50" x2="176.80" y2="556.50" stroke="#231f20" stroke-width="1.1"/>
<text transform="translate(169.60 559.15) scale(0.860 1)" font-size="9.0" text-anchor="end">0</text>
<line x1="174.20" y1="540.26" x2="176.80" y2="540.26" stroke="#231f20" stroke-width="1.1"/>
<text transform="translate(169.60 542.91) scale(0.860 1)" font-size="9.0" text-anchor="end">20</text>
<line x1="174.20" y1="524.02" x2="176.80" y2="524.02" stroke="#231f20" stroke-width="1.1"/>
<text transform="translate(169.60 526.67) scale(0.860 1)" font-size="9.0" text-anchor="end">40</text>
<line x1="174.20" y1="507.78" x2="176.80" y2="507.78" stroke="#231f20" stroke-width="1.1"/>
<text transform="translate(169.60 510.43) scale(0.860 1)" font-size="9.0" text-anchor="end">60</text>
<line x1="174.20" y1="491.54" x2="176.80" y2="491.54" stroke="#231f20" stroke-width="1.1"/>
<text transform="translate(169.60 494.19) scale(0.860 1)" font-size="9.0" text-anchor="end">80</text>
<line x1="174.20" y1="475.30" x2="176.80" y2="475.30" stroke="#231f20" stroke-width="1.1"/>
<text transform="translate(169.60 477.95) scale(0.860 1)" font-size="9.0" text-anchor="end">100</text>
<line x1="193.00" y1="556.50" x2="193.00" y2="559.10" stroke="#231f20" stroke-width="1.1"/>
<line x1="226.00" y1="556.50" x2="226.00" y2="559.10" stroke="#231f20" stroke-width="1.1"/>
<line x1="258.50" y1="556.50" x2="258.50" y2="559.10" stroke="#231f20" stroke-width="1.1"/>
<line x1="187.35" y1="551.10" x2="187.35" y2="547.70" stroke="#231f20" stroke-width="1.0"/>
<line x1="185.35" y1="547.70" x2="189.35" y2="547.70" stroke="#231f20" stroke-width="1.0"/>
<rect x="183.30" y="550.60" width="8.10" height="5.90" fill="#d2202f"/>
<line x1="199.45" y1="516.70" x2="199.45" y2="511.30" stroke="#231f20" stroke-width="1.0"/>
<line x1="197.45" y1="511.30" x2="201.45" y2="511.30" stroke="#231f20" stroke-width="1.0"/>
<rect x="195.40" y="516.20" width="8.10" height="40.30" fill="#1b5795"/>
<circle cx="196.65" cy="508.90" r="0.7" fill="#231f20"/>
<circle cx="199.45" cy="508.90" r="0.7" fill="#231f20"/>
<circle cx="202.25" cy="508.90" r="0.7" fill="#231f20"/>
<line x1="219.65" y1="552.20" x2="219.65" y2="547.70" stroke="#231f20" stroke-width="1.0"/>
<line x1="217.65" y1="547.70" x2="221.65" y2="547.70" stroke="#231f20" stroke-width="1.0"/>
<rect x="215.60" y="551.70" width="8.10" height="4.80" fill="#d2202f"/>
<line x1="231.75" y1="504.50" x2="231.75" y2="485.20" stroke="#231f20" stroke-width="1.0"/>
<line x1="229.75" y1="485.20" x2="233.75" y2="485.20" stroke="#231f20" stroke-width="1.0"/>
<rect x="227.70" y="504.00" width="8.10" height="52.50" fill="#1b5795"/>
<circle cx="228.95" cy="482.50" r="0.7" fill="#231f20"/>
<circle cx="231.75" cy="482.50" r="0.7" fill="#231f20"/>
<circle cx="234.55" cy="482.50" r="0.7" fill="#231f20"/>
<rect x="249.30" y="555.00" width="6.00" height="1.50" fill="#d2202f"/>
<line x1="264.45" y1="554.90" x2="264.45" y2="552.50" stroke="#231f20" stroke-width="1.0"/>
<line x1="262.45" y1="552.50" x2="266.45" y2="552.50" stroke="#231f20" stroke-width="1.0"/>
<rect x="260.40" y="554.40" width="8.10" height="2.10" fill="#1b5795"/>
<text transform="translate(193.00 567.90)" font-size="9.4" text-anchor="middle" textLength="16.70" lengthAdjust="spacingAndGlyphs" stroke="#231f20" stroke-width="0.12">PD-1</text>
<text transform="translate(226.00 567.90)" font-size="9.4" text-anchor="middle" textLength="18.30" lengthAdjust="spacingAndGlyphs" stroke="#231f20" stroke-width="0.12">TIGIT</text>
<text transform="translate(258.50 567.90)" font-size="9.4" text-anchor="middle" textLength="23.70" lengthAdjust="spacingAndGlyphs" stroke="#231f20" stroke-width="0.12">CTLA4</text>
<text transform="translate(153.60 514.75) rotate(-90)" font-size="9.8" text-anchor="middle" textLength="50.10" lengthAdjust="spacingAndGlyphs" stroke="#231f20" stroke-width="0.1">% of CD8 T cells</text>
<text transform="translate(308.60 460.60)" font-size="10.6" text-anchor="start" font-weight="bold" class="b">I</text>
<line x1="334.20" y1="474.60" x2="334.20" y2="557.10" stroke="#231f20" stroke-width="1.2"/>
<line x1="333.60" y1="556.50" x2="399.50" y2="556.50" stroke="#231f20" stroke-width="1.2"/>
<line x1="331.60" y1="556.50" x2="334.20" y2="556.50" stroke="#231f20" stroke-width="1.1"/>
<text transform="translate(329.30 559.55) scale(0.860 1)" font-size="9.0" text-anchor="end">0</text>
<line x1="331.60" y1="536.17" x2="334.20" y2="536.17" stroke="#231f20" stroke-width="1.1"/>
<text transform="translate(329.30 539.22) scale(0.860 1)" font-size="9.0" text-anchor="end">20</text>
<line x1="331.60" y1="515.85" x2="334.20" y2="515.85" stroke="#231f20" stroke-width="1.1"/>
<text transform="translate(329.30 518.90) scale(0.860 1)" font-size="9.0" text-anchor="end">40</text>
<line x1="331.60" y1="495.52" x2="334.20" y2="495.52" stroke="#231f20" stroke-width="1.1"/>
<text transform="translate(329.30 498.57) scale(0.860 1)" font-size="9.0" text-anchor="end">60</text>
<line x1="331.60" y1="475.20" x2="334.20" y2="475.20" stroke="#231f20" stroke-width="1.1"/>
<text transform="translate(329.30 478.25) scale(0.860 1)" font-size="9.0" text-anchor="end">80</text>
<line x1="350.50" y1="556.50" x2="350.50" y2="559.10" stroke="#231f20" stroke-width="1.1"/>
<line x1="383.30" y1="556.50" x2="383.30" y2="559.10" stroke="#231f20" stroke-width="1.1"/>
<line x1="344.70" y1="555.70" x2="344.70" y2="554.60" stroke="#231f20" stroke-width="1.0"/>
<line x1="342.70" y1="554.60" x2="346.70" y2="554.60" stroke="#231f20" stroke-width="1.0"/>
<rect x="340.40" y="555.20" width="8.60" height="1.30" fill="#d2202f"/>
<line x1="357.20" y1="509.10" x2="357.20" y2="496.00" stroke="#231f20" stroke-width="1.0"/>
<line x1="355.20" y1="496.00" x2="359.20" y2="496.00" stroke="#231f20" stroke-width="1.0"/>
<rect x="353.00" y="508.60" width="8.40" height="47.90" fill="#1b5795"/>
<circle cx="354.40" cy="493.30" r="0.7" fill="#231f20"/>
<circle cx="357.20" cy="493.30" r="0.7" fill="#231f20"/>
<circle cx="360.00" cy="493.30" r="0.7" fill="#231f20"/>
<rect x="385.20" y="539.90" width="8.30" height="16.60" fill="#1b5795"/>
<circle cx="386.55" cy="536.40" r="0.7" fill="#231f20"/>
<circle cx="389.35" cy="536.40" r="0.7" fill="#231f20"/>
<circle cx="392.15" cy="536.40" r="0.7" fill="#231f20"/>
<text transform="translate(350.50 567.90)" font-size="9.4" text-anchor="middle" textLength="15.90" lengthAdjust="spacingAndGlyphs" stroke="#231f20" stroke-width="0.12">CD4</text>
<text transform="translate(383.30 567.90)" font-size="9.4" text-anchor="middle" textLength="16.20" lengthAdjust="spacingAndGlyphs" stroke="#231f20" stroke-width="0.12">CD8</text>
<text transform="translate(316.60 514.85) rotate(-90)" font-size="9.8" text-anchor="middle" textLength="67.10" lengthAdjust="spacingAndGlyphs" stroke="#231f20" stroke-width="0.1">Exhausted T cells (%)</text>
</g></svg>
<div id="f"></div>
</body></html>
